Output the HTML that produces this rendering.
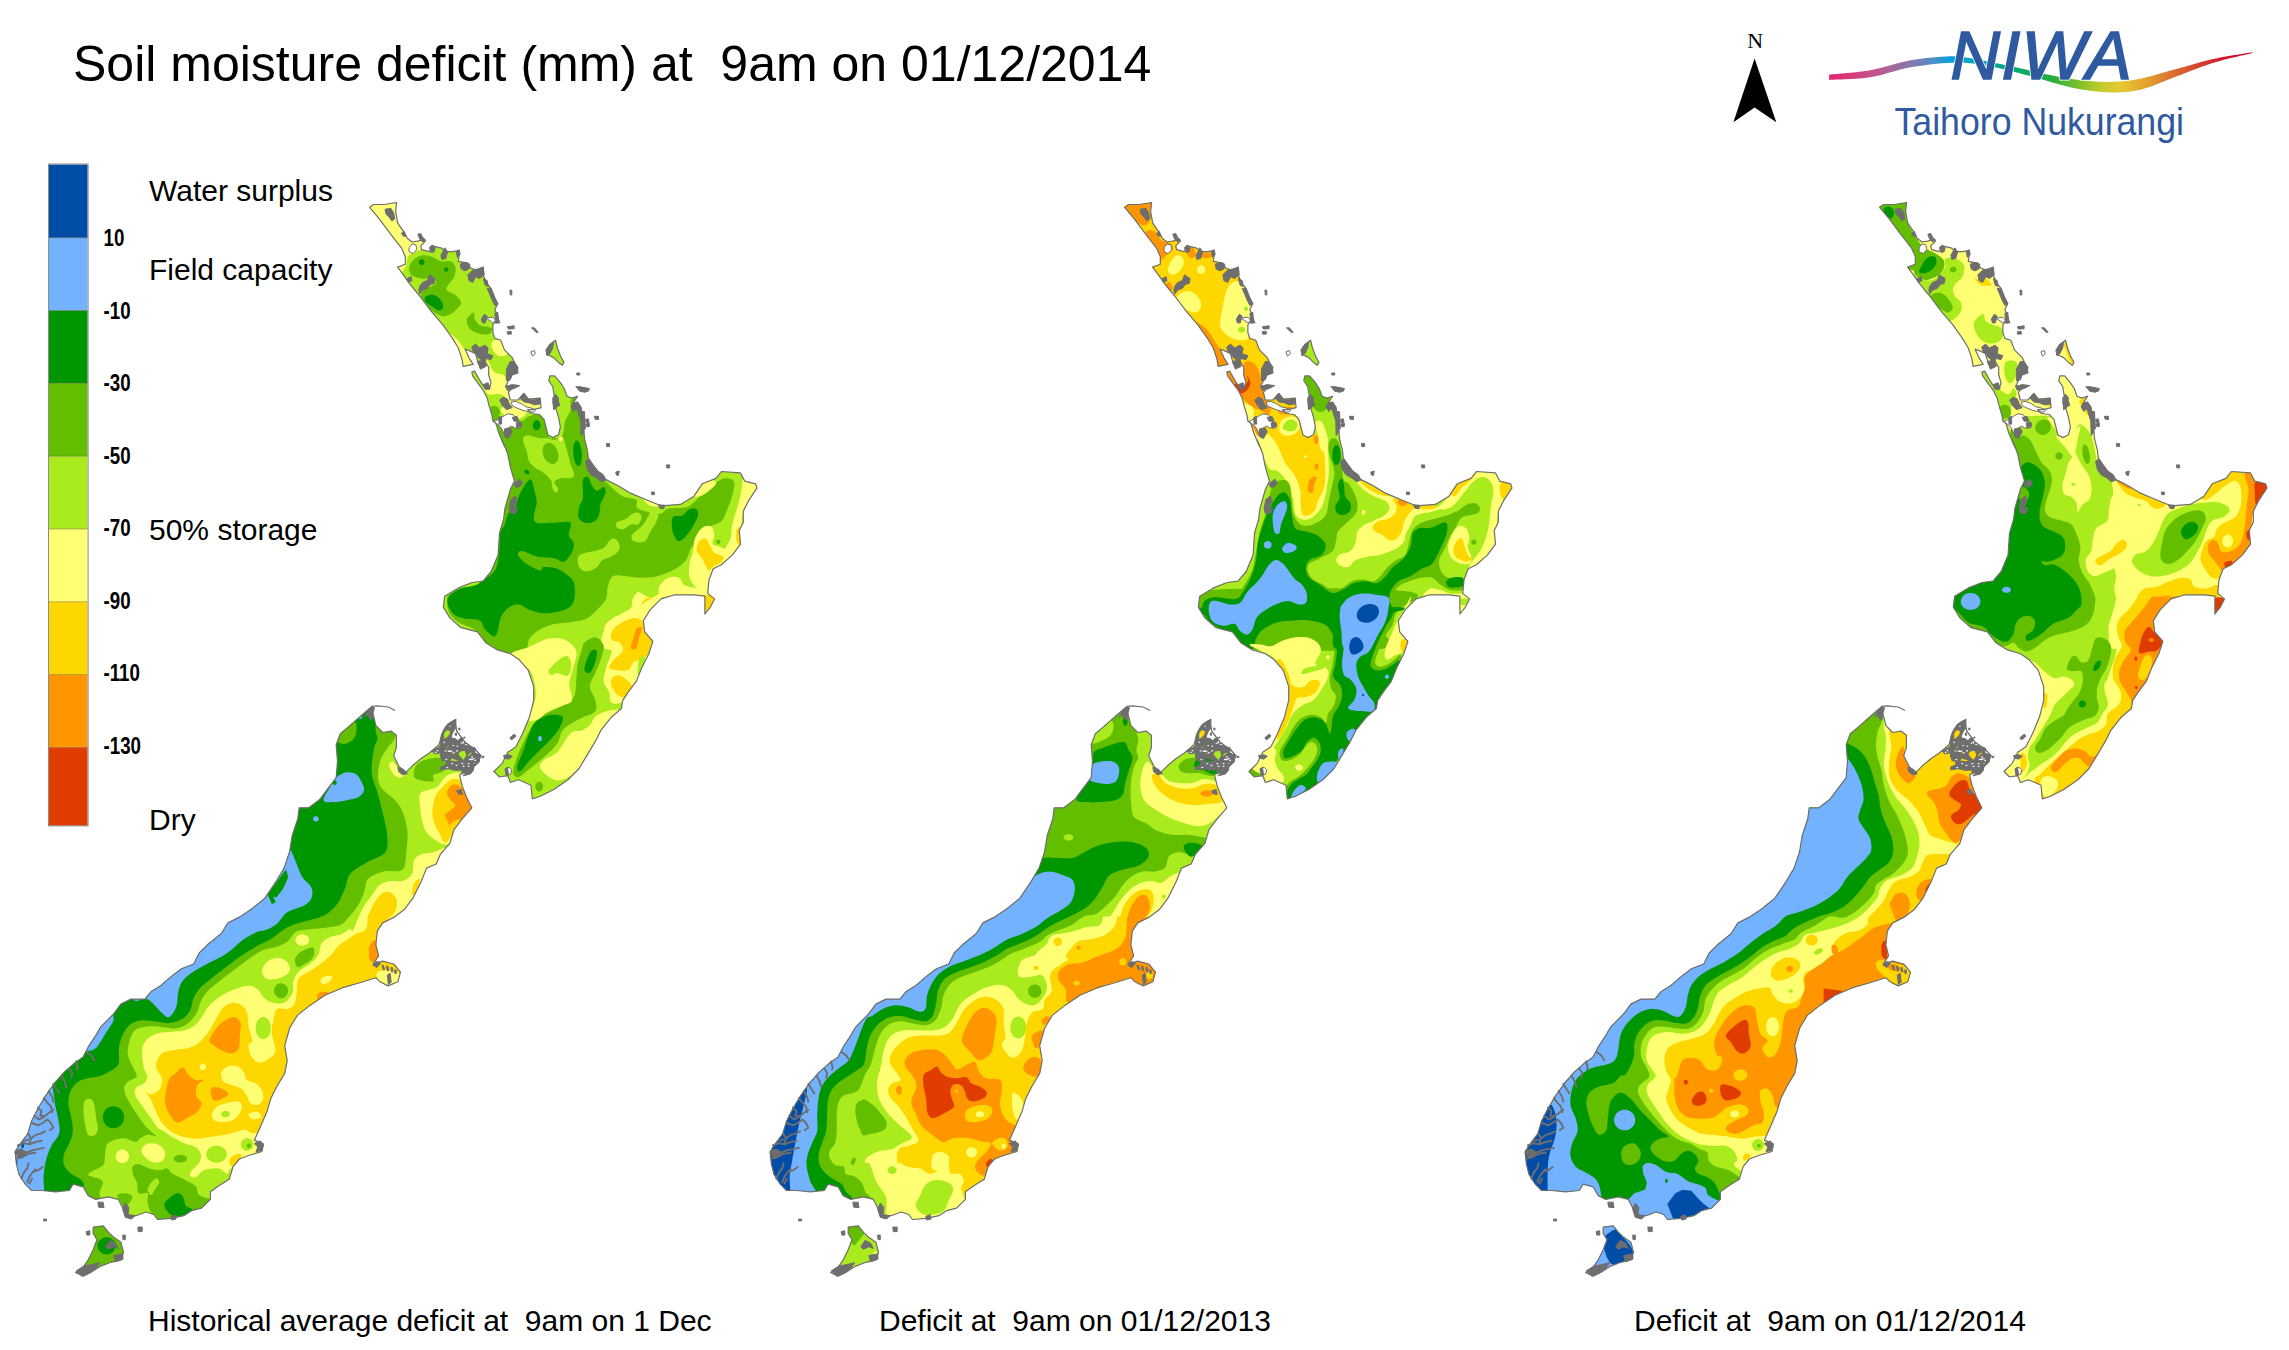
<!DOCTYPE html>
<html><head><meta charset="utf-8"><title>Soil moisture deficit</title>
<style>
html,body{margin:0;padding:0;background:#fff;}
body{width:2289px;height:1350px;overflow:hidden;position:relative;font-family:"Liberation Sans",sans-serif;}
svg{position:absolute;left:0;top:0;}
text{font-family:"Liberation Sans",sans-serif;fill:#000;white-space:pre;}
.t30{font-size:30px;}
.nb{font-size:24px;font-weight:bold;}
</style></head><body>
<svg width="2289" height="1350" viewBox="0 0 2289 1350">
<rect width="2289" height="1350" fill="#fff"/>

<defs>
<clipPath id="land">
<path d="M369.6,207.3 L373.5,204.5 L384.1,204.5 L396.6,202.5 L395.6,211.2 L397.6,222.8 L403.4,231.4 L407.2,238.2 L412.0,242.0 L417.8,241.1 L423.6,239.1 L425.5,241.1 L420.7,245.9 L421.7,249.7 L429.4,251.7 L432.3,245.9 L440.9,247.8 L446.7,251.7 L452.5,251.7 L458.3,250.7 L459.2,255.5 L458.3,261.3 L467.9,263.2 L470.8,268.0 L477.5,270.9 L483.3,267.1 L483.3,274.8 L486.2,282.5 L491.0,288.3 L494.9,297.9 L497.8,303.7 L494.9,309.5 L497.8,317.2 L499.7,322.9 L494.9,321.0 L492.9,324.9 L492.9,332.6 L494.9,338.4 L500.7,340.3 L504.5,349.9 L512.2,357.6 L514.1,361.5 L509.3,364.4 L517.0,367.3 L518.0,373.0 L511.3,375.0 L508.4,380.8 L505.5,386.5 L514.1,385.6 L508.4,392.3 L510.3,400.0 L518.0,400.0 L523.8,393.3 L528.6,399.1 L540.2,398.1 L541.1,407.7 L533.4,409.7 L527.6,409.7 L531.5,413.5 L539.2,414.5 L544.0,419.3 L545.9,427.0 L547.9,434.7 L552.7,437.6 L558.5,434.7 L560.4,427.0 L558.5,417.4 L555.6,407.7 L554.6,398.1 L552.7,386.5 L548.8,380.8 L549.8,375.9 L554.6,375.9 L560.4,382.7 L564.2,388.5 L567.1,396.2 L571.9,398.1 L577.7,396.2 L573.9,401.9 L577.7,407.7 L581.6,413.5 L583.5,425.1 L584.5,438.6 L587.4,450.1 L588.5,459.2 L595.3,470.1 L603.6,478.4 L617.3,485.2 L631.0,493.4 L647.4,500.3 L661.1,505.8 L680.3,504.4 L694.0,496.2 L702.2,483.8 L715.9,478.4 L721.4,471.5 L740.5,472.9 L744.7,481.1 L755.6,483.8 L757.0,487.9 L748.8,500.3 L743.3,511.2 L743.3,522.2 L739.2,530.4 L740.5,544.1 L732.3,555.1 L721.4,564.7 L713.2,568.8 L709.0,579.7 L707.7,593.4 L714.5,598.9 L710.4,607.1 L704.9,614.0 L704.9,596.2 L694.0,594.8 L674.8,594.8 L661.1,598.9 L650.1,609.9 L643.3,620.8 L644.7,631.8 L652.9,641.4 L648.8,653.7 L641.9,667.4 L636.4,681.1 L628.2,692.1 L622.7,700.3 L621.4,708.5 L611.8,716.7 L600.8,730.4 L595.3,741.4 L587.1,755.1 L578.9,768.8 L567.9,779.7 L554.2,789.3 L540.5,796.2 L532.3,798.9 L531.0,785.2 L518.6,779.7 L510.4,782.5 L507.7,775.6 L499.5,777.0 L494.0,771.5 L502.2,763.3 L507.7,752.3 L515.9,746.8 L522.7,733.2 L529.6,716.7 L533.7,700.3 L533.7,686.6 L528.2,670.1 L518.6,659.2 L510.4,653.7 L496.7,649.6 L485.8,642.7 L477.5,631.8 L461.1,627.7 L450.1,618.1 L443.3,607.1 L444.7,596.2 L458.4,587.9 L472.1,582.5 L483.0,581.1 L491.2,571.5 L498.1,555.1 L499.5,533.2 L503.6,519.5 L504.9,508.5 L510.4,489.3 L514.5,481.1 L510.4,467.4 L507.7,453.7 L502.2,440.0 L506.4,450.1 L503.5,444.3 L498.7,432.8 L495.8,423.1 L492.9,421.2 L492.0,415.4 L489.1,405.8 L487.2,398.1 L483.3,390.4 L477.5,382.7 L472.7,375.9 L471.8,372.1 L474.6,371.1 L479.5,379.8 L485.2,388.5 L489.1,389.4 L491.0,382.7 L488.7,375.0 L488.7,367.3 L485.2,361.5 L478.5,364.4 L475.6,353.8 L469.8,350.9 L465.0,349.0 L468.9,357.6 L473.1,364.4 L463.1,366.3 L462.1,359.6 L458.3,348.0 L452.5,338.4 L442.9,324.9 L431.3,311.4 L419.7,296.0 L410.1,284.4 L403.4,274.8 L397.6,267.1 L405.3,264.2 L405.3,256.5 L401.4,247.8 L390.8,234.3 L379.3,218.9Z"/>
<path d="M371.8,706.4 L373.2,714.7 L375.9,725.6 L382.7,732.5 L391.0,731.1 L396.4,735.2 L396.4,747.5 L393.7,755.8 L399.2,766.7 L406.0,772.2 L412.9,765.3 L421.1,758.5 L429.3,753.0 L438.9,744.8 L443.0,733.8 L451.2,722.9 L455.3,720.1 L456.7,731.1 L464.9,742.1 L474.5,748.9 L481.4,755.8 L475.9,764.0 L467.7,769.5 L459.5,774.9 L462.2,785.9 L466.3,796.8 L471.8,807.8 L462.2,818.8 L454.0,829.7 L449.9,843.4 L440.3,854.4 L436.2,864.0 L426.6,868.1 L421.1,881.8 L412.9,898.2 L404.7,909.2 L393.7,917.4 L382.7,922.9 L377.3,931.1 L375.9,944.8 L378.6,955.8 L373.2,964.0 L382.7,961.2 L393.7,964.0 L400.5,972.2 L397.8,981.8 L388.2,985.9 L380.0,981.8 L375.9,977.7 L358.1,983.2 L342.7,987.7 L325.0,995.3 L309.9,1005.4 L297.3,1015.4 L289.7,1028.0 L284.7,1045.7 L287.2,1060.8 L284.7,1073.4 L277.1,1086.0 L270.8,1098.6 L267.1,1111.2 L259.5,1128.8 L254.5,1140.1 L263.3,1143.9 L262.0,1151.5 L249.4,1155.3 L239.4,1159.0 L233.1,1166.6 L229.3,1179.2 L219.2,1185.5 L210.4,1191.8 L210.4,1199.4 L201.6,1208.2 L191.5,1210.7 L183.9,1215.7 L171.3,1218.3 L157.5,1219.5 L153.7,1214.5 L146.1,1212.0 L136.1,1215.7 L126.0,1217.0 L123.5,1209.4 L118.4,1199.4 L108.3,1196.8 L95.7,1199.4 L88.2,1195.6 L83.1,1186.8 L73.1,1184.2 L69.3,1190.5 L55.4,1191.8 L41.6,1190.5 L31.5,1190.5 L25.2,1184.2 L18.9,1174.2 L16.4,1164.1 L15.1,1151.5 L20.2,1143.9 L27.7,1133.8 L31.5,1121.2 L37.8,1108.7 L45.4,1096.1 L54.2,1083.5 L64.2,1072.1 L74.3,1063.3 L83.1,1057.0 L88.2,1046.9 L95.7,1035.6 L100.8,1026.8 L113.4,1014.2 L120.9,1004.1 L131.0,999.1 L144.9,999.1 L151.2,991.5 L161.2,985.2 L171.3,976.4 L181.4,968.8 L193.7,964.0 L199.2,953.0 L207.4,944.8 L221.1,933.8 L227.9,922.9 L238.9,917.4 L251.2,909.2 L264.9,898.2 L275.9,881.8 L284.1,868.1 L289.6,851.6 L292.3,835.2 L297.8,818.8 L299.2,807.8 L308.8,807.8 L319.7,799.6 L327.9,788.6 L336.2,777.7 L337.5,761.2 L336.2,744.8 L340.3,733.8 L349.9,725.6 L360.8,716.0Z"/>
<path d="M93.2,1227.1 L103.3,1225.8 L108.3,1232.1 L113.4,1237.1 L120.9,1242.2 L123.5,1252.3 L120.9,1259.8 L110.9,1262.3 L100.8,1266.1 L90.7,1272.4 L83.1,1276.2 L75.6,1272.4 L83.1,1267.4 L88.2,1259.8 L93.2,1249.7 L97.0,1239.7 L93.2,1233.4Z"/>
<path d="M552.7,342.2 L555.6,340.3 L557.5,348.0 L560.4,355.7 L563.9,362.4 L562.3,365.3 L558.5,362.4 L553.6,357.6 L547.9,354.7 L547.9,349.0Z"/>
</clipPath>
<g id="coast" fill="none" stroke="#6e6e6e" stroke-width="1.2" stroke-linejoin="round">
<path d="M369.6,207.3 L373.5,204.5 L384.1,204.5 L396.6,202.5 L395.6,211.2 L397.6,222.8 L403.4,231.4 L407.2,238.2 L412.0,242.0 L417.8,241.1 L423.6,239.1 L425.5,241.1 L420.7,245.9 L421.7,249.7 L429.4,251.7 L432.3,245.9 L440.9,247.8 L446.7,251.7 L452.5,251.7 L458.3,250.7 L459.2,255.5 L458.3,261.3 L467.9,263.2 L470.8,268.0 L477.5,270.9 L483.3,267.1 L483.3,274.8 L486.2,282.5 L491.0,288.3 L494.9,297.9 L497.8,303.7 L494.9,309.5 L497.8,317.2 L499.7,322.9 L494.9,321.0 L492.9,324.9 L492.9,332.6 L494.9,338.4 L500.7,340.3 L504.5,349.9 L512.2,357.6 L514.1,361.5 L509.3,364.4 L517.0,367.3 L518.0,373.0 L511.3,375.0 L508.4,380.8 L505.5,386.5 L514.1,385.6 L508.4,392.3 L510.3,400.0 L518.0,400.0 L523.8,393.3 L528.6,399.1 L540.2,398.1 L541.1,407.7 L533.4,409.7 L527.6,409.7 L531.5,413.5 L539.2,414.5 L544.0,419.3 L545.9,427.0 L547.9,434.7 L552.7,437.6 L558.5,434.7 L560.4,427.0 L558.5,417.4 L555.6,407.7 L554.6,398.1 L552.7,386.5 L548.8,380.8 L549.8,375.9 L554.6,375.9 L560.4,382.7 L564.2,388.5 L567.1,396.2 L571.9,398.1 L577.7,396.2 L573.9,401.9 L577.7,407.7 L581.6,413.5 L583.5,425.1 L584.5,438.6 L587.4,450.1 L588.5,459.2 L595.3,470.1 L603.6,478.4 L617.3,485.2 L631.0,493.4 L647.4,500.3 L661.1,505.8 L680.3,504.4 L694.0,496.2 L702.2,483.8 L715.9,478.4 L721.4,471.5 L740.5,472.9 L744.7,481.1 L755.6,483.8 L757.0,487.9 L748.8,500.3 L743.3,511.2 L743.3,522.2 L739.2,530.4 L740.5,544.1 L732.3,555.1 L721.4,564.7 L713.2,568.8 L709.0,579.7 L707.7,593.4 L714.5,598.9 L710.4,607.1 L704.9,614.0 L704.9,596.2 L694.0,594.8 L674.8,594.8 L661.1,598.9 L650.1,609.9 L643.3,620.8 L644.7,631.8 L652.9,641.4 L648.8,653.7 L641.9,667.4 L636.4,681.1 L628.2,692.1 L622.7,700.3 L621.4,708.5 L611.8,716.7 L600.8,730.4 L595.3,741.4 L587.1,755.1 L578.9,768.8 L567.9,779.7 L554.2,789.3 L540.5,796.2 L532.3,798.9 L531.0,785.2 L518.6,779.7 L510.4,782.5 L507.7,775.6 L499.5,777.0 L494.0,771.5 L502.2,763.3 L507.7,752.3 L515.9,746.8 L522.7,733.2 L529.6,716.7 L533.7,700.3 L533.7,686.6 L528.2,670.1 L518.6,659.2 L510.4,653.7 L496.7,649.6 L485.8,642.7 L477.5,631.8 L461.1,627.7 L450.1,618.1 L443.3,607.1 L444.7,596.2 L458.4,587.9 L472.1,582.5 L483.0,581.1 L491.2,571.5 L498.1,555.1 L499.5,533.2 L503.6,519.5 L504.9,508.5 L510.4,489.3 L514.5,481.1 L510.4,467.4 L507.7,453.7 L502.2,440.0 L506.4,450.1 L503.5,444.3 L498.7,432.8 L495.8,423.1 L492.9,421.2 L492.0,415.4 L489.1,405.8 L487.2,398.1 L483.3,390.4 L477.5,382.7 L472.7,375.9 L471.8,372.1 L474.6,371.1 L479.5,379.8 L485.2,388.5 L489.1,389.4 L491.0,382.7 L488.7,375.0 L488.7,367.3 L485.2,361.5 L478.5,364.4 L475.6,353.8 L469.8,350.9 L465.0,349.0 L468.9,357.6 L473.1,364.4 L463.1,366.3 L462.1,359.6 L458.3,348.0 L452.5,338.4 L442.9,324.9 L431.3,311.4 L419.7,296.0 L410.1,284.4 L403.4,274.8 L397.6,267.1 L405.3,264.2 L405.3,256.5 L401.4,247.8 L390.8,234.3 L379.3,218.9Z"/>
<path d="M371.8,706.4 L373.2,714.7 L375.9,725.6 L382.7,732.5 L391.0,731.1 L396.4,735.2 L396.4,747.5 L393.7,755.8 L399.2,766.7 L406.0,772.2 L412.9,765.3 L421.1,758.5 L429.3,753.0 L438.9,744.8 L443.0,733.8 L451.2,722.9 L455.3,720.1 L456.7,731.1 L464.9,742.1 L474.5,748.9 L481.4,755.8 L475.9,764.0 L467.7,769.5 L459.5,774.9 L462.2,785.9 L466.3,796.8 L471.8,807.8 L462.2,818.8 L454.0,829.7 L449.9,843.4 L440.3,854.4 L436.2,864.0 L426.6,868.1 L421.1,881.8 L412.9,898.2 L404.7,909.2 L393.7,917.4 L382.7,922.9 L377.3,931.1 L375.9,944.8 L378.6,955.8 L373.2,964.0 L382.7,961.2 L393.7,964.0 L400.5,972.2 L397.8,981.8 L388.2,985.9 L380.0,981.8 L375.9,977.7 L358.1,983.2 L342.7,987.7 L325.0,995.3 L309.9,1005.4 L297.3,1015.4 L289.7,1028.0 L284.7,1045.7 L287.2,1060.8 L284.7,1073.4 L277.1,1086.0 L270.8,1098.6 L267.1,1111.2 L259.5,1128.8 L254.5,1140.1 L263.3,1143.9 L262.0,1151.5 L249.4,1155.3 L239.4,1159.0 L233.1,1166.6 L229.3,1179.2 L219.2,1185.5 L210.4,1191.8 L210.4,1199.4 L201.6,1208.2 L191.5,1210.7 L183.9,1215.7 L171.3,1218.3 L157.5,1219.5 L153.7,1214.5 L146.1,1212.0 L136.1,1215.7 L126.0,1217.0 L123.5,1209.4 L118.4,1199.4 L108.3,1196.8 L95.7,1199.4 L88.2,1195.6 L83.1,1186.8 L73.1,1184.2 L69.3,1190.5 L55.4,1191.8 L41.6,1190.5 L31.5,1190.5 L25.2,1184.2 L18.9,1174.2 L16.4,1164.1 L15.1,1151.5 L20.2,1143.9 L27.7,1133.8 L31.5,1121.2 L37.8,1108.7 L45.4,1096.1 L54.2,1083.5 L64.2,1072.1 L74.3,1063.3 L83.1,1057.0 L88.2,1046.9 L95.7,1035.6 L100.8,1026.8 L113.4,1014.2 L120.9,1004.1 L131.0,999.1 L144.9,999.1 L151.2,991.5 L161.2,985.2 L171.3,976.4 L181.4,968.8 L193.7,964.0 L199.2,953.0 L207.4,944.8 L221.1,933.8 L227.9,922.9 L238.9,917.4 L251.2,909.2 L264.9,898.2 L275.9,881.8 L284.1,868.1 L289.6,851.6 L292.3,835.2 L297.8,818.8 L299.2,807.8 L308.8,807.8 L319.7,799.6 L327.9,788.6 L336.2,777.7 L337.5,761.2 L336.2,744.8 L340.3,733.8 L349.9,725.6 L360.8,716.0Z"/>
<path d="M93.2,1227.1 L103.3,1225.8 L108.3,1232.1 L113.4,1237.1 L120.9,1242.2 L123.5,1252.3 L120.9,1259.8 L110.9,1262.3 L100.8,1266.1 L90.7,1272.4 L83.1,1276.2 L75.6,1272.4 L83.1,1267.4 L88.2,1259.8 L93.2,1249.7 L97.0,1239.7 L93.2,1233.4Z"/>
<path d="M552.7,342.2 L555.6,340.3 L557.5,348.0 L560.4,355.7 L563.9,362.4 L562.3,365.3 L558.5,362.4 L553.6,357.6 L547.9,354.7 L547.9,349.0Z"/>
<path d="M371.8,706.4 L377.3,705.9 L388.2,707.0 L395.1,710.5"/>
</g>
<g id="grey" fill="#6e6e6e" stroke="#6e6e6e" stroke-width="1">
<path d="M385.0,209.3 L390.8,208.3 L393.7,213.1 L394.7,218.9 L391.8,220.8 L388.9,217.0 L386.0,214.1Z"/>
<path d="M401.4,233.4 L404.3,231.4 L406.2,236.2 L403.4,236.2Z"/>
<path d="M417.8,234.3 L420.7,233.4 L422.6,237.2 L425.5,240.1 L422.6,242.0 L419.7,239.1Z"/>
<path d="M429.4,247.8 L432.3,244.9 L435.1,247.8 L434.2,251.7 L431.3,252.6Z"/>
<path d="M440.9,255.5 L444.8,247.8 L447.7,251.7 L445.7,258.4 L441.9,259.4Z"/>
<path d="M456.3,251.7 L459.2,249.7 L460.2,254.5 L457.3,257.4Z"/>
<path d="M460.2,264.2 L465.0,262.3 L469.8,264.2 L468.9,269.0 L465.0,270.9 L461.2,269.0Z"/>
<path d="M467.9,274.8 L472.7,270.0 L477.5,269.0 L483.3,267.1 L484.3,274.8 L479.5,278.6 L475.6,276.7 L472.7,282.5 L468.9,280.6Z"/>
<path d="M483.3,278.6 L487.2,280.6 L488.1,286.3 L485.2,285.4Z"/>
<path d="M419.7,286.3 L422.6,282.5 L427.4,280.6 L429.4,274.8 L432.3,276.7 L435.1,278.6 L434.2,283.4 L430.3,284.4 L427.4,288.3 L422.6,290.2 L419.7,294.0 L418.8,290.2Z"/>
<path d="M407.2,278.6 L411.1,276.7 L412.0,280.6 L408.2,282.5Z"/>
<path d="M487.2,288.3 L491.0,288.3 L492.9,294.0 L495.8,299.8 L497.8,303.7 L494.9,305.6 L492.9,301.8Z"/>
<path d="M481.4,319.1 L484.3,314.3 L487.2,316.2 L485.2,322.9 L482.4,322.9Z"/>
<path d="M494.9,313.3 L497.8,312.4 L498.7,322.9 L495.8,322.9Z"/>
<path d="M471.8,347.0 L475.6,344.1 L479.5,348.0 L485.2,345.1 L488.1,348.0 L487.2,353.8 L492.9,355.7 L491.0,359.6 L486.2,358.6 L483.3,361.5 L478.5,357.6 L475.6,353.8 L472.7,350.9Z"/>
<path d="M477.5,361.5 L485.2,359.6 L486.2,366.3 L480.4,369.2Z"/>
<path d="M483.3,384.6 L488.1,382.7 L490.1,388.5 L485.2,389.4Z"/>
<path d="M506.4,369.2 L510.3,361.5 L514.1,361.5 L518.0,367.3 L517.0,373.0 L512.2,375.0 L510.3,379.8 L506.4,380.8Z"/>
<path d="M505.5,386.5 L512.2,384.6 L519.9,385.6 L514.1,388.5 L507.4,390.4Z"/>
<path d="M499.7,400.0 L503.5,397.1 L507.4,399.1 L509.3,403.9 L512.2,407.7 L506.4,409.7 L502.6,405.8Z"/>
<path d="M519.9,398.1 L523.8,393.3 L527.6,399.1 L533.4,400.0 L540.2,398.1 L540.2,403.9 L534.4,404.8 L529.6,402.9 L523.8,401.9Z"/>
<path d="M512.2,417.4 L517.0,416.4 L519.0,421.2 L514.1,421.2Z"/>
<path d="M504.5,428.9 L510.3,428.0 L512.2,431.8 L508.4,438.6 L504.5,436.6Z"/>
<path d="M516.1,423.1 L520.9,422.2 L521.8,426.0 L517.0,428.0Z"/>
<path d="M498.7,417.4 L501.6,416.4 L501.6,424.1 L499.1,424.1Z"/>
<path d="M552.7,398.1 L555.6,394.2 L558.5,398.1 L556.5,407.7 L553.6,409.7Z"/>
<path d="M575.8,386.5 L581.6,387.5 L589.3,389.4 L585.4,392.3 L579.7,391.3Z"/>
<path d="M571.0,406.8 L573.9,401.9 L577.7,405.8 L573.9,411.6Z"/>
<path d="M581.6,411.6 L584.5,411.6 L585.4,428.9 L582.5,428.9Z"/>
<path d="M545.9,349.9 L549.8,344.1 L553.6,342.2 L552.7,348.0 L549.8,353.8 L546.9,355.7Z"/>
<path d="M507.4,326.8 L514.1,325.8 L514.1,328.7 L508.4,329.1Z"/>
<path d="M507.4,331.6 L511.3,331.6 L511.3,334.1 L507.4,334.1Z"/>
<path d="M509.9,290.2 L511.8,290.2 L511.8,295.0 L510.3,295.0Z"/>
<path d="M531.5,327.8 L534.4,327.8 L538.2,332.2 L536.3,332.6Z"/>
<path d="M576.8,373.0 L579.7,373.0 L579.7,375.0 L576.8,375.0Z"/>
<path d="M595.1,416.4 L598.5,416.4 L598.5,419.3 L595.5,419.3Z"/>
<path d="M586.4,424.1 L589.3,423.1 L589.3,426.6 L587.0,426.6Z"/>
<path d="M578.7,386.5 L589.3,388.5 L588.3,391.3 L579.7,390.4Z"/>
<path d="M585.6,461.3 L589.1,458.7 L592.7,464.0 L598.0,471.1 L603.3,474.7 L606.0,480.0 L601.6,481.8 L597.1,478.2 L590.9,474.7 L587.3,469.3Z"/>
<path d="M514.4,483.6 L519.8,479.1 L522.4,483.6 L518.9,487.1 L515.3,487.1Z"/>
<path d="M510.9,499.6 L515.3,496.0 L517.1,501.3 L513.6,506.7 L518.0,508.4 L515.3,513.8 L510.0,512.9 L509.1,508.4Z"/>
<path d="M572.2,403.6 L577.6,401.8 L581.1,407.1 L582.9,417.8 L583.8,432.0 L581.1,435.6 L580.8,421.3 L577.6,410.7Z"/>
<path d="M552.7,401.8 L558.0,400.0 L559.8,405.3 L554.4,408.0Z"/>
<path d="M594.4,416.4 L598.0,416.4 L598.0,419.2 L595.0,418.8Z"/>
<path d="M585.6,419.6 L588.2,418.7 L589.1,422.2 L586.4,422.8Z"/>
<path d="M586.1,424.0 L589.1,424.0 L588.2,426.7 L586.4,426.3Z"/>
<path d="M615.8,472.0 L619.3,471.1 L618.4,475.6 L616.3,475.0Z"/>
<path d="M666.4,464.9 L669.6,464.9 L669.6,467.9 L666.8,467.9Z"/>
<path d="M651.3,492.1 L654.4,492.1 L654.4,494.6 L651.7,494.6Z"/>
<path d="M658.4,504.9 L664.7,505.2 L663.8,508.8 L660.2,508.4Z"/>
<path d="M606.4,443.6 L609.6,443.6 L609.6,446.6 L606.7,446.6Z"/>
<path d="M509.8,737.8 L514.2,734.2 L516.0,736.0 L511.6,739.9Z"/>
<path d="M503.6,755.6 L508.9,754.7 L512.4,756.4 L508.9,759.1 L504.4,758.2Z"/>
<path d="M505.0,768.9 L507.5,767.1 L508.5,775.1 L506.2,776.0Z"/>
<path d="M364.0,717.3 L367.9,710.6 L371.8,707.7 L374.6,707.7 L372.7,713.5 L371.8,720.2 L368.9,718.3 L366.9,714.5Z"/>
<path d="M397.8,767.4 L403.5,769.4 L407.4,773.6 L402.6,774.8 L398.7,771.7Z"/>
<path d="M456.5,790.6 L461.3,789.6 L462.3,794.4 L458.5,794.0Z"/>
<path d="M458.8,728.1 L460.0,728.1 L460.0,729.9 L458.8,729.9Z"/>
<path d="M455.0,733.4 L456.7,733.1 L456.4,735.5 L455.3,735.2Z"/>
<path d="M463.9,737.0 L465.0,737.0 L465.0,737.9 L463.9,737.9Z"/>
<path d="M459.1,739.0 L462.7,737.6 L463.0,739.0 L459.7,740.5Z"/>
<path d="M464.1,742.9 L465.9,742.9 L465.9,743.8 L464.1,743.8Z"/>
<path d="M482.2,756.5 L484.0,756.2 L483.7,757.7 L482.2,757.7Z"/>
<path d="M478.1,754.1 L479.3,754.1 L479.3,755.3 L478.1,755.3Z"/>
<path d="M16.6,1150.3 L21.3,1149.1 L25.5,1151.5 L24.9,1156.2 L20.2,1158.6 L17.2,1156.8Z"/>
<path d="M105.8,1246.7 L110.2,1240.4 L115.6,1243.1 L118.2,1248.4 L113.8,1246.7 L108.4,1249.3Z"/>
<path d="M76.4,1270.7 L83.6,1266.2 L92.4,1264.4 L99.6,1262.7 L96.0,1268.0 L88.9,1273.3 L81.8,1276.0Z"/>
<path d="M113.8,1255.6 L122.7,1253.8 L123.0,1259.1 L115.6,1261.8Z"/>
<path d="M86.2,1231.6 L89.8,1230.7 L89.8,1235.1 L86.8,1235.1Z"/>
<path d="M122.7,1209.3 L125.3,1203.1 L128.9,1207.6 L128.0,1214.7 L135.1,1215.6 L131.6,1219.1 L125.3,1217.3Z"/>
<path d="M254.2,1143.6 L260.4,1140.9 L263.5,1145.3 L261.3,1150.7 L256.0,1151.6 L257.8,1147.1Z"/>
<path d="M137.8,1227.1 L142.2,1227.1 L142.2,1231.6 L138.3,1231.6Z"/>
<path d="M122.7,1235.1 L125.3,1235.1 L125.3,1239.6 L123.0,1239.6Z"/>
<path d="M97.8,1202.2 L103.1,1202.2 L104.0,1207.6 L98.7,1207.2Z"/>
<path d="M170.7,1216.4 L175.1,1214.7 L176.0,1219.1 L171.6,1220.0Z"/>
<path d="M43.6,1219.1 L46.6,1219.1 L46.6,1220.9 L43.6,1220.9Z"/>
<path d="M372.8,964.8 L376.7,961.4 L380.6,963.2 L376.7,967.6Z"/>
<path d="M387.3,975.1 L390.2,973.3 L391.2,982.2 L388.4,984.4Z"/>
<path d="M382.0,965.3 L383.4,965.3 L384.7,969.8 L383.2,969.8Z"/>
<path d="M386.4,966.2 L387.9,966.2 L388.8,970.7 L387.3,970.7Z"/>
<path d="M390.9,967.6 L392.3,967.6 L393.0,971.9 L391.6,971.9Z"/>
<path d="M394.8,969.8 L396.2,970.1 L396.2,973.7 L394.8,973.3Z"/>
<path fill-rule="evenodd" d="M440.1,740.8 L441.3,734.9 L443.7,729.6 L447.3,724.2 L452.0,721.3 L456.1,719.2 L455.0,727.8 L452.0,733.7 L450.8,738.4 L454.4,738.4 L457.9,740.8 L462.7,737.9 L461.5,743.2 L465.6,745.6 L470.4,746.7 L475.1,747.9 L474.5,752.7 L479.9,755.6 L479.3,762.1 L473.9,766.9 L473.3,770.4 L470.4,774.0 L463.3,775.8 L461.5,769.9 L455.6,770.4 L448.4,768.7 L440.7,769.9 L440.7,766.9 L445.5,765.1 L446.1,761.0 L442.5,761.0 L440.7,757.4 L440.1,752.7 L434.8,753.9 L431.9,750.9 L437.8,747.9 L440.7,745.6ZM443.7,731.9 L446.1,729.6 L450.8,730.7 L449.6,734.9 L446.7,737.9 L443.7,739.6ZM457.9,753.9 L460.3,750.9 L465.0,750.3 L466.8,755.0 L463.9,760.4 L460.3,757.4ZM449.6,761.0 L451.4,758.0 L455.6,759.2 L460.3,760.4 L455.6,761.6ZM467.4,755.0 L471.6,751.5 L472.1,753.3 L468.6,756.8ZM472.7,763.3 L475.1,761.6 L475.7,763.3 L473.3,764.5ZM445.5,747.9 L448.4,745.6 L449.0,746.7 L446.1,749.1ZM450.8,752.7 L452.0,751.5 L453.2,753.9 L452.0,755.0Z"/>
</g>
<g id="fj" fill="none" stroke="#6e6e6e" stroke-width="1.9" stroke-linejoin="round" stroke-linecap="round">
<path d="M86.6,1051.9 L91.3,1055.4 L94.3,1060.2"/>
<path d="M75.9,1061.3 L77.7,1067.3 L77.1,1069.6"/>
<path d="M69.4,1068.5 L72.3,1073.2 L71.1,1077.9"/>
<path d="M61.7,1075.6 L64.6,1081.5 L66.4,1087.4"/>
<path d="M53.4,1083.9 L56.9,1089.8 L59.3,1093.4"/>
<path d="M48.6,1091.0 L52.2,1096.9 L53.4,1101.7"/>
<path d="M43.9,1098.1 L47.4,1102.8 L51.0,1106.4 L52.2,1112.3"/>
<path d="M37.9,1107.6 L41.5,1111.1 L40.3,1115.9 L45.1,1115.9 L49.8,1112.3 L53.4,1110.0"/>
<path d="M34.4,1115.9 L39.1,1119.4 L43.9,1117.1"/>
<path d="M32.0,1123.0 L37.9,1125.4 L42.7,1123.0 L47.4,1119.4 L51.0,1123.0 L53.4,1127.8 L49.8,1130.1"/>
<path d="M28.5,1133.7 L30.8,1138.4 L35.6,1134.9 L40.3,1133.7 L45.1,1131.3"/>
<path d="M30.8,1138.4 L29.6,1143.2"/>
<path d="M23.7,1140.8 L28.5,1139.6"/>
<path d="M17.8,1145.5 L23.7,1143.2 L29.6,1144.4 L35.6,1142.0 L41.5,1140.8"/>
<path d="M15.4,1152.7 L20.2,1153.8 L26.1,1152.7 L32.0,1150.3 L37.9,1149.1 L43.9,1147.9"/>
<path d="M16.6,1158.6 L21.3,1157.4 L28.5,1153.8 L35.6,1152.7"/>
<path d="M28.5,1163.3 L27.3,1168.1 L23.7,1172.8 L21.3,1178.7"/>
<path d="M42.7,1166.9 L37.9,1170.4 L33.2,1171.6 L29.6,1176.4 L27.3,1182.3"/>
<path d="M33.2,1171.6 L35.6,1169.3"/>
<path d="M32.0,1178.7 L29.6,1183.5"/>
</g>
<g id="wd" fill="#fff">
<path d="M448.8,725.7 L450.5,725.7 L450.5,726.9 L448.8,726.9Z"/>
<path d="M443.5,741.7 L445.1,741.7 L445.1,742.9 L443.5,742.9Z"/>
<path d="M452.4,745.0 L454.0,745.0 L454.0,746.1 L452.4,746.1Z"/>
<path d="M456.5,745.6 L458.2,745.6 L458.2,746.7 L456.5,746.7Z"/>
<path d="M444.7,750.3 L446.3,750.3 L446.3,751.5 L444.7,751.5Z"/>
<path d="M448.8,750.6 L450.5,750.6 L450.5,751.8 L448.8,751.8Z"/>
<path d="M452.9,752.1 L454.6,752.1 L454.6,753.3 L452.9,753.3Z"/>
<path d="M456.2,750.3 L457.9,750.3 L457.9,751.5 L456.2,751.5Z"/>
<path d="M445.5,758.9 L447.2,758.9 L447.2,760.1 L445.5,760.1Z"/>
<path d="M451.5,763.0 L453.1,763.0 L453.1,764.2 L451.5,764.2Z"/>
<path d="M455.6,764.8 L457.3,764.8 L457.3,766.0 L455.6,766.0Z"/>
<path d="M461.5,763.0 L463.2,763.0 L463.2,764.2 L461.5,764.2Z"/>
<path d="M462.7,765.7 L464.4,765.7 L464.4,766.9 L462.7,766.9Z"/>
<path d="M467.8,763.0 L469.4,763.0 L469.4,764.2 L467.8,764.2Z"/>
<path d="M467.8,765.7 L469.4,765.7 L469.4,766.9 L467.8,766.9Z"/>
<path d="M470.4,758.6 L472.1,758.6 L472.1,759.8 L470.4,759.8Z"/>
<path d="M472.8,758.0 L474.5,758.0 L474.5,759.2 L472.8,759.2Z"/>
<path d="M474.3,759.8 L475.9,759.8 L475.9,761.0 L474.3,761.0Z"/>
<path d="M446.4,766.9 L448.1,766.9 L448.1,768.1 L446.4,768.1Z"/>
<path d="M462.7,773.7 L464.4,773.7 L464.4,774.9 L462.7,774.9Z"/>
<path d="M434.9,751.8 L436.5,751.8 L436.5,753.0 L434.9,753.0Z"/>
<path d="M436.7,750.0 L438.3,750.0 L438.3,751.2 L436.7,751.2Z"/>
<path d="M471.3,756.2 L473.0,756.2 L473.0,757.4 L471.3,757.4Z"/>
<path d="M460.7,742.6 L462.3,742.6 L462.3,743.8 L460.7,743.8Z"/>
<path d="M447.6,750.6 L452.3,750.6 L452.3,751.8 L447.6,751.8Z"/>
<path d="M468.9,758.9 L473.0,758.9 L473.0,760.1 L468.9,760.1Z"/>
</g>
</defs>
<g transform="translate(0,0)">
<g clip-path="url(#land)">
<rect x="0" y="150" width="800" height="1150" fill="#aaeb1e"/>
<path fill="#ffff73" d="M367.7,199.6 C368.3,187.9 391.8,193.5 398.5,199.6 C405.3,205.7 403.4,230.1 408.2,236.2 C413.0,242.3 424.4,234.6 427.4,236.2 C430.5,237.8 428.1,243.5 426.5,245.9 C424.9,248.3 420.9,248.9 417.8,250.7 C414.8,252.5 410.3,253.7 408.2,256.5 C406.1,259.2 407.5,264.8 405.3,267.1 C403.0,269.3 400.9,281.2 394.7,270.0 C388.4,258.7 367.1,211.4 367.7,199.6Z"/>
<path fill="#64be00" d="M409.1,267.1 C409.6,264.5 411.9,261.3 413.9,259.4 C416.0,257.4 418.8,256.0 421.7,255.5 C424.5,255.0 428.1,255.5 431.3,256.5 C434.5,257.4 437.7,260.5 440.9,261.3 C444.1,262.1 448.2,260.3 450.6,261.3 C453.0,262.3 454.7,264.5 455.4,267.1 C456.0,269.6 455.5,273.8 454.4,276.7 C453.3,279.6 449.9,282.2 448.6,284.4 C447.3,286.7 445.6,288.4 446.7,290.2 C447.8,292.0 453.0,292.9 455.4,295.0 C457.8,297.1 461.0,300.3 461.2,302.7 C461.3,305.1 458.1,307.5 456.3,309.5 C454.6,311.4 452.8,313.2 450.6,314.3 C448.3,315.4 445.3,316.4 442.9,316.2 C440.4,316.0 438.7,314.8 436.1,313.3 C433.5,311.9 430.0,310.1 427.4,307.5 C424.9,305.0 421.3,300.8 420.7,297.9 C420.1,295.0 421.8,292.1 423.6,290.2 C425.4,288.3 429.2,287.6 431.3,286.3 C433.4,285.1 435.8,284.1 436.1,282.5 C436.4,280.9 435.0,277.3 433.2,276.7 C431.5,276.1 428.1,278.5 425.5,278.6 C422.9,278.8 420.2,278.3 417.8,277.7 C415.4,277.0 412.5,276.5 411.1,274.8 C409.6,273.0 408.7,269.6 409.1,267.1Z"/>
<path fill="#009600" d="M424.5,262.3 C424.5,262.8 424.3,263.5 424.0,264.0 C423.7,264.4 423.1,264.8 422.6,265.0 C422.0,265.2 421.3,265.2 420.8,265.0 C420.2,264.8 419.7,264.4 419.3,264.0 C419.0,263.5 418.8,262.8 418.8,262.3 C418.8,261.7 419.0,261.0 419.3,260.6 C419.7,260.1 420.2,259.7 420.8,259.5 C421.3,259.3 422.0,259.3 422.6,259.5 C423.1,259.7 423.7,260.1 424.0,260.6 C424.3,261.0 424.5,261.7 424.5,262.3Z"/>
<path fill="#009600" d="M448.2,269.6 C448.2,270.0 448.1,270.5 447.8,270.8 C447.6,271.2 447.2,271.5 446.8,271.6 C446.4,271.7 445.9,271.7 445.5,271.6 C445.1,271.5 444.7,271.2 444.4,270.8 C444.2,270.5 444.0,270.0 444.0,269.6 C444.0,269.2 444.2,268.7 444.4,268.3 C444.7,268.0 445.1,267.7 445.5,267.6 C445.9,267.4 446.4,267.4 446.8,267.6 C447.2,267.7 447.6,268.0 447.8,268.3 C448.1,268.7 448.2,269.2 448.2,269.6Z"/>
<path fill="#009600" d="M424.5,297.9 C425.0,296.6 427.4,295.3 429.4,295.0 C431.3,294.7 434.0,294.8 436.1,296.0 C438.2,297.1 440.8,299.7 441.9,301.8 C443.0,303.8 443.5,307.1 442.9,308.5 C442.2,309.9 439.8,310.7 438.0,310.4 C436.3,310.1 434.2,307.9 432.3,306.6 C430.3,305.3 427.8,304.2 426.5,302.7 C425.2,301.3 424.1,299.2 424.5,297.9Z"/>
<path fill="#64be00" d="M466.9,319.1 C467.7,316.5 472.4,312.4 473.7,312.4 C475.0,312.4 473.7,317.0 474.6,319.1 C475.6,321.2 477.4,323.6 479.5,324.9 C481.5,326.2 485.1,326.2 487.2,326.8 C489.3,327.4 491.5,327.6 492.0,328.7 C492.5,329.9 491.5,332.6 490.1,333.5 C488.6,334.5 485.7,334.7 483.3,334.5 C480.9,334.3 478.0,333.7 475.6,332.6 C473.2,331.5 470.3,330.0 468.9,327.8 C467.4,325.5 466.1,321.7 466.9,319.1Z"/>
<path fill="#ffff73" d="M449.6,334.5 C449.3,332.6 453.8,335.8 456.3,338.4 C458.9,340.9 462.1,345.7 465.0,349.9 C467.9,354.1 472.2,360.4 473.7,363.4 C475.1,366.5 475.8,367.4 473.7,368.2 C471.6,369.0 463.7,371.3 461.2,368.2 C458.6,365.2 460.2,355.5 458.3,349.9 C456.3,344.3 449.9,336.4 449.6,334.5Z"/>
<path fill="#ffff73" d="M492.0,342.2 C493.4,340.4 499.0,337.4 501.6,339.3 C504.2,341.3 507.9,351.0 507.4,353.8 C506.9,356.5 501.1,356.3 498.7,355.7 C496.3,355.1 494.1,352.2 492.9,349.9 C491.8,347.7 490.5,344.0 492.0,342.2Z"/>
<path fill="#ffff73" d="M475.6,362.4 C476.9,361.3 484.4,359.4 487.2,360.5 C489.9,361.6 490.5,367.1 492.0,369.2 C493.4,371.3 493.9,372.1 495.8,373.0 C497.8,374.0 501.6,373.4 503.5,375.0 C505.5,376.6 506.6,380.1 507.4,382.7 C508.2,385.2 507.4,387.7 508.4,390.4 C509.3,393.1 510.6,397.3 513.2,399.1 C515.7,400.8 519.0,401.0 523.8,401.0 C528.6,401.0 539.0,397.5 542.1,399.1 C545.1,400.7 544.2,408.7 542.1,410.6 C540.0,412.5 532.6,409.7 529.6,410.6 C526.5,411.6 526.3,415.0 523.8,416.4 C521.2,417.8 518.0,420.1 514.1,419.3 C510.3,418.5 502.3,414.1 500.7,411.6 C499.0,409.0 504.2,406.6 504.5,403.9 C504.8,401.1 504.2,396.8 502.6,395.2 C501.0,393.6 497.3,394.4 494.9,394.2 C492.5,394.1 490.1,395.5 488.1,394.2 C486.2,393.0 483.0,388.5 483.3,386.5 C483.6,384.6 489.4,384.9 490.1,382.7 C490.7,380.4 488.9,375.6 487.2,373.0 C485.4,370.5 481.4,369.0 479.5,367.3 C477.5,365.5 474.3,363.6 475.6,362.4Z"/>
<path fill="#aaeb1e" d="M492.9,396.2 C493.6,394.2 497.1,393.6 498.7,394.2 C500.3,394.9 502.1,397.8 502.6,400.0 C503.1,402.3 502.9,406.8 501.6,407.7 C500.3,408.7 496.3,407.7 494.9,405.8 C493.4,403.9 492.3,398.1 492.9,396.2Z"/>
<path fill="#64be00" d="M490.1,407.7 C490.5,406.4 493.3,405.5 494.9,405.8 C496.5,406.1 498.9,408.2 499.7,409.7 C500.5,411.1 500.5,413.2 499.7,414.5 C498.9,415.8 496.2,417.5 494.9,417.4 C493.6,417.2 492.8,415.1 492.0,413.5 C491.2,411.9 489.6,409.0 490.1,407.7Z"/>
<path fill="#ffff73" d="M494.9,421.2 C495.4,419.8 499.0,420.3 500.7,422.2 C502.3,424.1 504.2,430.0 504.5,432.8 C504.8,435.5 503.7,438.9 502.6,438.6 C501.5,438.2 499.0,433.7 497.8,430.8 C496.5,428.0 494.4,422.7 494.9,421.2Z"/>
<path fill="#64be00" d="M488.7,416.0 C491.6,412.1 512.1,421.3 518.9,421.3 C525.7,421.3 525.1,417.2 529.6,416.0 C534.0,414.8 542.4,411.0 545.6,414.2 C548.7,417.5 546.7,431.6 548.2,435.6 C549.7,439.6 552.1,438.2 554.4,438.2 C556.8,438.2 560.7,438.4 562.4,435.6 C564.2,432.7 563.8,425.5 565.1,421.3 C566.4,417.2 569.3,414.5 570.4,410.7 C571.6,406.8 569.0,400.3 572.2,398.2 C575.5,396.1 587.0,387.6 590.0,398.2 C593.0,408.9 587.0,448.0 590.0,462.2 C593.0,476.4 602.4,477.9 607.8,483.6 C613.1,489.2 617.3,493.3 622.0,496.0 C626.7,498.7 633.6,497.5 636.2,499.6 C638.9,501.6 634.1,506.1 638.0,508.4 C641.9,510.8 654.3,513.8 659.3,513.8 C664.4,513.8 663.5,509.6 668.2,508.4 C673.0,507.3 682.1,509.0 687.8,506.7 C693.4,504.3 697.6,498.1 702.0,494.2 C706.4,490.4 710.6,486.2 714.4,483.6 C718.3,480.9 721.9,478.5 725.1,478.2 C728.4,477.9 732.8,478.8 734.0,481.8 C735.2,484.7 733.4,491.3 732.2,496.0 C731.0,500.7 728.7,506.1 726.9,510.2 C725.1,514.4 724.8,517.9 721.6,520.9 C718.3,523.9 710.9,525.0 707.3,528.0 C703.8,531.0 702.9,535.4 700.2,538.7 C697.6,541.9 693.7,544.0 691.3,547.6 C689.0,551.1 688.7,556.4 686.0,560.0 C683.3,563.6 680.1,566.2 675.3,568.9 C670.6,571.6 663.5,574.5 657.6,576.0 C651.6,577.5 645.1,577.8 639.8,577.8 C634.4,577.8 630.0,576.3 625.6,576.0 C621.1,575.7 616.1,574.2 613.1,576.0 C610.1,577.8 609.0,582.8 607.8,586.7 C606.6,590.5 607.8,595.3 606.0,599.1 C604.2,603.0 600.4,606.5 597.1,609.8 C593.9,613.0 590.9,616.6 586.4,618.7 C582.0,620.7 575.8,621.3 570.4,622.2 C565.1,623.1 559.5,622.8 554.4,624.0 C549.4,625.2 544.4,627.0 540.2,629.3 C536.1,631.7 532.5,634.4 529.6,638.2 C526.6,642.1 530.1,650.1 522.4,652.4 C514.7,654.8 490.1,655.1 483.3,652.4 C476.5,649.8 483.6,640.6 481.6,636.4 C479.5,632.3 474.7,629.9 470.9,627.6 C467.0,625.2 462.0,624.6 458.4,622.2 C454.9,619.9 451.5,617.2 449.6,613.3 C447.6,609.5 446.6,602.4 446.9,599.1 C447.2,595.9 447.0,595.9 451.3,593.8 C455.6,591.7 467.3,589.3 472.7,586.7 C478.0,584.0 479.2,585.2 483.3,577.8 C487.5,570.4 494.6,554.1 497.6,542.2 C500.5,530.4 499.3,517.0 501.1,506.7 C502.9,496.3 508.2,490.4 508.2,480.0 C508.2,469.6 504.4,455.1 501.1,444.4 C497.9,433.8 485.7,419.9 488.7,416.0Z"/>
<path fill="#aaeb1e" d="M523.3,437.3 C524.2,435.9 527.0,435.4 529.6,435.6 C532.1,435.7 535.5,437.8 538.4,438.2 C541.4,438.7 544.7,437.9 547.3,438.2 C550.0,438.5 551.9,440.1 554.4,440.0 C557.0,439.9 560.7,436.6 562.4,437.3 C564.2,438.1 564.2,441.8 565.1,444.4 C566.0,447.1 566.9,450.1 567.8,453.3 C568.7,456.6 569.4,460.4 570.4,464.0 C571.5,467.6 574.0,472.3 574.0,474.7 C574.0,477.0 572.5,477.6 570.4,478.2 C568.4,478.8 564.2,477.6 561.6,478.2 C558.9,478.8 555.0,480.0 554.4,481.8 C553.9,483.6 557.7,487.1 558.0,488.9 C558.3,490.7 557.1,492.4 556.2,492.4 C555.3,492.4 553.6,491.0 552.7,488.9 C551.8,486.8 552.4,482.7 550.9,480.0 C549.4,477.3 546.4,475.0 543.8,472.9 C541.1,470.8 537.4,469.6 534.9,467.6 C532.4,465.5 530.0,463.1 528.7,460.4 C527.3,457.8 527.6,454.2 526.9,451.6 C526.1,448.9 524.8,446.8 524.2,444.4 C523.6,442.1 522.4,438.8 523.3,437.3Z"/>
<path fill="#64be00" d="M557.5,450.8 C558.2,452.5 558.5,454.6 558.5,456.3 C558.5,458.0 558.0,459.8 557.3,461.0 C556.6,462.3 555.5,463.3 554.3,463.7 C553.1,464.1 551.6,464.1 550.3,463.6 C549.0,463.1 547.5,462.0 546.3,460.7 C545.2,459.4 544.1,457.6 543.5,455.9 C542.9,454.2 542.5,452.1 542.6,450.4 C542.6,448.7 543.1,446.9 543.8,445.6 C544.5,444.4 545.6,443.4 546.8,443.0 C547.9,442.6 549.4,442.6 550.8,443.1 C552.1,443.6 553.6,444.7 554.7,445.9 C555.9,447.2 556.9,449.1 557.5,450.8Z"/>
<path fill="#ffff73" d="M562.8,438.8 C562.8,439.3 562.6,439.9 562.4,440.3 C562.1,440.7 561.7,441.1 561.3,441.3 C560.9,441.5 560.4,441.5 560.0,441.3 C559.6,441.1 559.2,440.7 558.9,440.3 C558.7,439.9 558.5,439.3 558.5,438.8 C558.5,438.2 558.7,437.6 558.9,437.2 C559.2,436.8 559.6,436.4 560.0,436.2 C560.4,436.1 560.9,436.1 561.3,436.2 C561.7,436.4 562.1,436.8 562.4,437.2 C562.6,437.6 562.8,438.2 562.8,438.8Z"/>
<path fill="#aaeb1e" d="M578.4,556.4 C579.5,554.4 581.9,553.8 584.7,552.9 C587.5,552.0 592.1,552.0 595.3,551.1 C598.6,550.2 601.9,549.3 604.2,547.6 C606.6,545.8 607.8,541.9 609.6,540.4 C611.3,539.0 613.3,538.1 614.9,538.7 C616.5,539.3 618.7,541.9 619.3,544.0 C619.9,546.1 619.8,549.0 618.4,551.1 C617.1,553.2 614.0,555.0 611.3,556.4 C608.7,557.9 604.8,558.2 602.4,560.0 C600.1,561.8 599.2,565.3 597.1,567.1 C595.0,568.9 592.4,570.1 590.0,570.7 C587.6,571.3 584.8,571.6 582.9,570.7 C581.0,569.8 579.2,567.7 578.4,565.3 C577.7,563.0 577.4,558.5 578.4,556.4Z"/>
<path fill="#aaeb1e" d="M616.7,522.7 C618.0,521.2 622.9,520.6 625.6,519.1 C628.2,517.6 630.4,514.8 632.7,513.8 C634.9,512.7 637.4,512.3 638.9,512.9 C640.4,513.5 641.7,515.4 641.6,517.3 C641.4,519.3 639.8,523.3 638.0,524.4 C636.2,525.6 633.3,523.7 630.9,524.4 C628.5,525.2 626.0,528.3 623.8,528.9 C621.6,529.5 618.7,529.0 617.6,528.0 C616.4,527.0 615.3,524.1 616.7,522.7Z"/>
<path fill="#aaeb1e" d="M631.8,535.1 C632.4,533.5 634.3,532.4 636.2,530.7 C638.1,528.9 641.3,527.0 643.3,524.4 C645.4,521.9 647.2,518.2 648.7,515.6 C650.1,512.9 650.6,508.7 652.2,508.4 C653.9,508.1 657.9,511.4 658.4,513.8 C659.0,516.1 657.1,519.7 655.8,522.7 C654.4,525.6 652.1,528.6 650.4,531.6 C648.8,534.5 647.8,538.7 646.0,540.4 C644.2,542.2 642.0,542.2 639.8,542.2 C637.6,542.2 634.0,541.6 632.7,540.4 C631.3,539.3 631.2,536.7 631.8,535.1Z"/>
<path fill="#009600" d="M526.0,483.6 C528.1,480.9 529.9,478.5 531.3,480.0 C532.8,481.5 534.0,488.6 534.9,492.4 C535.8,496.3 536.8,499.3 536.7,503.1 C536.5,507.0 534.0,512.3 534.0,515.6 C534.0,518.8 533.3,521.5 536.7,522.7 C540.1,523.9 548.8,522.7 554.4,522.7 C560.1,522.7 568.1,520.6 570.4,522.7 C572.8,524.7 568.1,531.6 568.7,535.1 C569.3,538.7 573.7,540.7 574.0,544.0 C574.3,547.3 572.2,551.7 570.4,554.7 C568.7,557.6 566.0,561.2 563.3,561.8 C560.7,562.4 558.9,559.1 554.4,558.2 C550.0,557.3 542.0,557.6 536.7,556.4 C531.3,555.3 525.6,551.4 522.4,551.1 C519.3,550.8 517.4,552.6 518.0,554.7 C518.6,556.7 522.3,560.9 526.0,563.6 C529.7,566.2 537.3,570.1 540.2,570.7 C543.2,571.3 540.8,567.4 543.8,567.1 C546.7,566.8 553.3,566.8 558.0,568.9 C562.7,571.0 569.4,575.7 572.2,579.6 C575.0,583.4 574.9,587.9 574.9,592.0 C574.9,596.1 574.4,601.3 572.2,604.4 C570.0,607.6 566.3,609.2 561.6,610.7 C556.8,612.1 549.1,613.5 543.8,613.3 C538.4,613.2 533.7,611.3 529.6,609.8 C525.4,608.3 522.4,604.7 518.9,604.4 C515.3,604.1 511.2,605.9 508.2,608.0 C505.3,610.1 502.9,613.0 501.1,616.9 C499.3,620.7 498.7,627.9 497.6,631.1 C496.4,634.4 496.1,636.7 494.0,636.4 C491.9,636.1 487.5,632.0 485.1,629.3 C482.7,626.7 483.0,622.2 479.8,620.4 C476.5,618.7 469.7,619.6 465.6,618.7 C461.4,617.8 457.9,617.5 454.9,615.1 C451.9,612.7 448.7,607.7 447.8,604.4 C446.9,601.2 447.5,598.2 449.6,595.6 C451.6,592.9 455.8,590.2 460.2,588.4 C464.7,586.7 471.8,586.7 476.2,584.9 C480.7,583.1 483.6,580.4 486.9,577.8 C490.1,575.1 493.7,573.3 495.8,568.9 C497.9,564.4 498.6,557.0 499.3,551.1 C500.1,545.2 499.3,537.8 500.2,533.3 C501.1,528.9 503.3,527.7 504.7,524.4 C506.0,521.2 506.4,516.7 508.2,513.8 C510.0,510.8 513.6,509.6 515.3,506.7 C517.1,503.7 517.1,499.9 518.9,496.0 C520.7,492.1 523.9,486.2 526.0,483.6Z"/>
<path fill="#009600" d="M582.9,480.0 C583.8,476.6 586.7,476.4 588.2,477.3 C589.7,478.2 590.3,483.1 591.8,485.3 C593.3,487.6 595.0,490.4 597.1,490.7 C599.2,491.0 602.9,486.5 604.2,487.1 C605.6,487.7 605.7,491.6 605.1,494.2 C604.5,496.9 601.7,499.6 600.7,503.1 C599.6,506.7 600.1,512.4 598.9,515.6 C597.7,518.7 595.9,520.6 593.6,521.8 C591.2,523.0 587.2,523.4 584.7,522.7 C582.1,521.9 579.3,520.0 578.4,517.3 C577.6,514.7 578.6,509.9 579.3,506.7 C580.1,503.4 582.3,502.2 582.9,497.8 C583.5,493.3 582.0,483.4 582.9,480.0Z"/>
<path fill="#009600" d="M672.7,517.3 C674.3,514.7 679.9,516.7 682.4,515.6 C685.0,514.4 685.7,511.4 687.8,510.2 C689.9,509.0 693.1,507.9 694.9,508.4 C696.7,509.0 698.4,511.4 698.4,513.8 C698.4,516.1 696.4,519.7 694.9,522.7 C693.4,525.6 691.6,528.7 689.6,531.6 C687.5,534.4 684.5,538.1 682.4,539.6 C680.4,541.0 678.7,541.8 677.1,540.4 C675.5,539.1 673.4,535.4 672.7,531.6 C671.9,527.7 671.0,520.0 672.7,517.3Z"/>
<path fill="#009600" d="M581.8,453.0 C582.0,455.1 582.0,457.5 581.8,459.4 C581.6,461.3 581.2,463.1 580.6,464.2 C580.1,465.3 579.4,466.0 578.7,466.1 C578.0,466.1 577.1,465.6 576.4,464.6 C575.7,463.6 574.9,461.8 574.4,460.0 C573.9,458.2 573.5,455.8 573.3,453.7 C573.1,451.6 573.1,449.2 573.3,447.3 C573.5,445.4 573.9,443.6 574.5,442.5 C575.0,441.4 575.7,440.6 576.4,440.6 C577.1,440.5 578.0,441.1 578.7,442.1 C579.4,443.1 580.2,444.8 580.7,446.6 C581.2,448.4 581.6,450.8 581.8,453.0Z"/>
<path fill="#009600" d="M540.6,425.2 C540.6,426.2 540.3,427.4 539.8,428.2 C539.4,429.0 538.6,429.7 537.9,430.0 C537.1,430.3 536.2,430.3 535.5,430.0 C534.7,429.7 534.0,429.0 533.5,428.2 C533.1,427.4 532.8,426.2 532.8,425.2 C532.8,424.3 533.1,423.1 533.5,422.3 C534.0,421.5 534.7,420.8 535.5,420.5 C536.2,420.2 537.1,420.2 537.9,420.5 C538.6,420.8 539.4,421.5 539.8,422.3 C540.3,423.1 540.6,424.3 540.6,425.2Z"/>
<path fill="#009600" d="M529.1,473.8 C528.8,474.1 528.3,474.4 527.8,474.4 C527.4,474.5 526.7,474.4 526.3,474.1 C525.8,473.9 525.2,473.4 524.9,473.0 C524.6,472.5 524.4,472.0 524.3,471.5 C524.3,471.0 524.4,470.5 524.7,470.2 C525.0,469.9 525.5,469.6 525.9,469.6 C526.4,469.5 527.0,469.6 527.5,469.9 C528.0,470.1 528.5,470.6 528.9,471.0 C529.2,471.5 529.4,472.0 529.5,472.5 C529.5,473.0 529.3,473.5 529.1,473.8Z"/>
<path fill="#ffff73" d="M643.3,498.7 C643.6,497.8 649.6,499.3 652.2,500.4 C654.9,501.6 659.6,504.9 659.3,505.8 C659.0,506.7 653.1,507.0 650.4,505.8 C647.8,504.6 643.0,499.6 643.3,498.7Z"/>
<path fill="#ffff73" d="M744.7,476.4 C747.9,475.0 759.8,479.7 760.7,483.6 C761.6,487.4 753.0,494.5 750.0,499.6 C747.0,504.6 744.4,507.9 742.9,513.8 C741.4,519.7 742.0,529.5 741.1,535.1 C740.2,540.7 739.6,543.4 737.6,547.6 C735.5,551.7 731.0,559.1 728.7,560.0 C726.3,560.9 723.0,556.4 723.3,552.9 C723.6,549.3 729.0,543.4 730.4,538.7 C731.9,533.9 731.0,529.8 732.2,524.4 C733.4,519.1 736.1,512.0 737.6,506.7 C739.0,501.3 739.9,497.5 741.1,492.4 C742.3,487.4 741.4,477.9 744.7,476.4Z"/>
<path fill="#ffff73" d="M700.2,481.8 C702.6,478.8 704.7,478.1 707.3,478.2 C710.0,478.4 715.9,480.6 716.2,482.7 C716.5,484.7 711.8,488.4 709.1,490.7 C706.4,492.9 702.9,495.1 700.2,496.0 C697.6,496.9 693.1,498.4 693.1,496.0 C693.1,493.6 697.9,484.7 700.2,481.8Z"/>
<path fill="#ffff73" d="M702.0,528.0 C704.7,525.9 708.8,525.0 710.9,526.2 C713.0,527.4 714.1,532.1 714.4,535.1 C714.7,538.1 711.5,541.9 712.7,544.0 C713.9,546.1 718.3,545.5 721.6,547.6 C724.8,549.6 732.8,552.6 732.2,556.4 C731.6,560.3 721.3,568.3 718.0,570.7 C714.7,573.0 713.9,569.5 712.7,570.7 C711.5,571.9 711.3,574.2 710.9,577.8 C710.4,581.3 711.2,589.3 710.0,592.0 C708.8,594.7 706.0,594.4 703.8,593.8 C701.6,593.2 699.0,591.1 696.7,588.4 C694.3,585.8 690.7,581.9 689.6,577.8 C688.4,573.6 689.0,568.0 689.6,563.6 C690.1,559.1 692.2,555.3 693.1,551.1 C694.0,547.0 693.4,542.5 694.9,538.7 C696.4,534.8 699.3,530.1 702.0,528.0Z"/>
<path fill="#ffd700" d="M698.4,542.2 C699.9,540.1 703.5,537.8 705.6,538.7 C707.6,539.6 709.4,545.2 710.9,547.6 C712.4,549.9 712.4,551.4 714.4,552.9 C716.5,554.4 722.1,555.0 723.3,556.4 C724.5,557.9 723.3,560.0 721.6,561.8 C719.8,563.6 714.7,565.6 712.7,567.1 C710.6,568.6 710.3,571.0 709.1,570.7 C707.9,570.4 706.7,567.4 705.6,565.3 C704.4,563.3 703.5,560.6 702.0,558.2 C700.5,555.9 697.3,553.8 696.7,551.1 C696.1,548.4 697.0,544.3 698.4,542.2Z"/>
<path fill="#ffd700" d="M736.7,529.8 C737.4,527.4 740.4,525.9 741.1,528.0 C741.9,530.1 741.9,539.9 741.1,542.2 C740.4,544.6 737.4,544.3 736.7,542.2 C735.9,540.1 735.9,532.1 736.7,529.8Z"/>
<path fill="#64be00" d="M720.5,541.9 C720.5,542.3 720.3,542.8 720.1,543.1 C719.8,543.5 719.4,543.8 719.0,543.9 C718.6,544.0 718.1,544.0 717.7,543.9 C717.3,543.8 716.9,543.5 716.6,543.1 C716.4,542.8 716.2,542.3 716.2,541.9 C716.2,541.4 716.4,541.0 716.6,540.6 C716.9,540.3 717.3,540.0 717.7,539.8 C718.1,539.7 718.6,539.7 719.0,539.8 C719.4,540.0 719.8,540.3 720.1,540.6 C720.3,541.0 720.5,541.4 720.5,541.9Z"/>
<path fill="#ffff73" d="M659.3,586.7 C661.1,583.1 665.0,579.3 668.2,577.8 C671.5,576.3 676.2,576.6 678.9,577.8 C681.6,579.0 681.3,583.1 684.2,584.9 C687.2,586.7 692.5,587.0 696.7,588.4 C700.8,589.9 707.9,592.3 709.1,593.8 C710.3,595.3 708.8,597.0 703.8,597.3 C698.7,597.6 686.0,595.6 678.9,595.6 C671.8,595.6 665.6,596.7 661.1,597.3 C656.7,597.9 654.9,599.4 652.2,599.1 C649.6,598.8 647.5,596.7 645.1,595.6 C642.7,594.4 640.1,591.4 638.0,592.0 C635.9,592.6 633.9,596.4 632.7,599.1 C631.5,601.8 632.7,605.6 630.9,608.0 C629.1,610.4 625.6,611.3 622.0,613.3 C618.4,615.4 612.5,617.8 609.6,620.4 C606.6,623.1 604.8,624.6 604.2,629.3 C603.6,634.1 596.5,645.6 606.0,648.9 C615.5,652.1 654.0,653.3 661.1,648.9 C668.2,644.4 651.9,628.1 648.7,622.2 C645.4,616.3 641.6,616.3 641.6,613.3 C641.6,610.4 646.0,606.8 648.7,604.4 C651.3,602.1 655.8,602.1 657.6,599.1 C659.3,596.1 657.6,590.2 659.3,586.7Z"/>
<path fill="#ffd700" d="M643.3,600.9 C645.4,598.5 648.1,597.8 650.4,597.3 C652.8,596.9 657.9,596.4 657.6,598.2 C657.3,600.0 651.3,605.2 648.7,608.0 C646.0,610.8 642.4,612.4 641.6,615.1 C640.7,617.8 642.1,618.4 643.3,624.0 C644.5,629.6 653.7,644.7 648.7,648.9 C643.6,653.0 619.3,651.9 613.1,648.9 C606.9,645.9 610.4,635.3 611.3,631.1 C612.2,627.0 615.5,626.1 618.4,624.0 C621.4,621.9 625.9,620.7 629.1,618.7 C632.4,616.6 635.6,614.5 638.0,611.6 C640.4,608.6 641.3,603.3 643.3,600.9Z"/>
<path fill="#ffd700" d="M702.9,595.6 C705.1,593.8 715.5,595.9 716.2,599.1 C717.0,602.4 709.6,613.3 707.3,615.1 C705.1,616.9 703.6,613.0 702.9,609.8 C702.1,606.5 700.7,597.3 702.9,595.6Z"/>
<path fill="#64be00" d="M584.4,642.7 C586.7,640.5 592.1,636.8 595.3,637.3 C598.5,637.7 602.6,641.8 603.6,645.5 C604.5,649.1 602.2,654.6 600.8,659.2 C599.5,663.7 597.2,668.3 595.3,672.9 C593.5,677.4 589.9,682.0 589.9,686.6 C589.9,691.1 594.4,696.2 595.3,700.3 C596.3,704.4 597.2,708.5 595.3,711.2 C593.5,714.0 588.0,714.9 584.4,716.7 C580.7,718.5 577.1,719.9 573.4,722.2 C569.8,724.5 565.2,726.8 562.5,730.4 C559.7,734.1 560.2,739.5 557.0,744.1 C553.8,748.7 547.9,753.7 543.3,757.8 C538.7,761.9 533.7,765.6 529.6,768.8 C525.5,772.0 521.4,776.3 518.6,777.0 C515.9,777.7 513.6,775.6 513.2,772.9 C512.7,770.1 514.5,764.9 515.9,760.5 C517.3,756.2 519.1,751.9 521.4,746.8 C523.7,741.8 526.4,735.4 529.6,730.4 C532.8,725.4 536.0,720.4 540.5,716.7 C545.1,713.1 551.5,711.7 557.0,708.5 C562.5,705.3 570.2,702.1 573.4,697.5 C576.6,693.0 575.5,686.6 576.2,681.1 C576.8,675.6 576.6,669.7 577.5,664.7 C578.4,659.6 580.5,654.6 581.6,651.0 C582.8,647.3 582.1,645.0 584.4,642.7Z"/>
<path fill="#009600" d="M591.2,651.0 C592.8,649.6 596.0,649.1 596.7,651.0 C597.4,652.8 596.5,658.3 595.3,661.9 C594.2,665.6 591.7,671.5 589.9,672.9 C588.0,674.2 584.8,672.4 584.4,670.1 C583.9,667.9 586.0,662.4 587.1,659.2 C588.3,656.0 589.6,652.3 591.2,651.0Z"/>
<path fill="#009600" d="M535.1,722.2 C538.5,718.8 544.2,716.3 548.8,715.3 C553.3,714.4 560.6,714.7 562.5,716.7 C564.3,718.8 561.6,724.0 559.7,727.7 C557.9,731.3 554.7,735.0 551.5,738.6 C548.3,742.3 544.2,745.9 540.5,749.6 C536.9,753.2 533.0,756.9 529.6,760.5 C526.2,764.2 522.1,770.6 520.0,771.5 C517.9,772.4 516.8,769.2 517.3,766.0 C517.7,762.8 520.9,757.4 522.7,752.3 C524.6,747.3 526.2,740.9 528.2,735.9 C530.3,730.9 531.6,725.6 535.1,722.2Z"/>
<path fill="#73b2ff" d="M541.9,738.6 C541.9,739.2 541.8,739.8 541.6,740.2 C541.3,740.7 540.9,741.1 540.6,741.2 C540.2,741.4 539.8,741.4 539.4,741.2 C539.1,741.1 538.7,740.7 538.4,740.2 C538.2,739.8 538.1,739.2 538.1,738.6 C538.1,738.1 538.2,737.5 538.4,737.0 C538.7,736.6 539.1,736.2 539.4,736.0 C539.8,735.9 540.2,735.9 540.6,736.0 C540.9,736.2 541.3,736.6 541.6,737.0 C541.8,737.5 541.9,738.1 541.9,738.6Z"/>
<path fill="#64be00" d="M543.0,786.6 C543.0,787.5 542.7,788.7 542.3,789.5 C541.8,790.3 541.1,791.0 540.4,791.3 C539.6,791.6 538.7,791.6 538.0,791.3 C537.3,791.0 536.5,790.3 536.1,789.5 C535.6,788.7 535.3,787.5 535.3,786.6 C535.3,785.6 535.6,784.5 536.1,783.7 C536.5,782.9 537.3,782.2 538.0,781.9 C538.7,781.6 539.6,781.6 540.4,781.9 C541.1,782.2 541.8,782.9 542.3,783.7 C542.7,784.5 543.0,785.6 543.0,786.6Z"/>
<path fill="#ffff73" d="M510.4,655.1 C510.4,651.2 523.2,649.6 529.6,646.8 C536.0,644.1 542.8,639.8 548.8,638.6 C554.7,637.5 560.6,637.9 565.2,640.0 C569.8,642.1 574.8,646.4 576.2,651.0 C577.5,655.5 574.6,661.9 573.4,667.4 C572.3,672.9 569.5,678.4 569.3,683.8 C569.1,689.3 573.2,696.6 572.1,700.3 C570.9,703.9 566.3,703.9 562.5,705.8 C558.6,707.6 552.9,708.9 548.8,711.2 C544.7,713.5 541.2,718.1 537.8,719.5 C534.4,720.8 528.7,722.6 528.2,719.5 C527.8,716.3 533.9,705.8 535.1,700.3 C536.2,694.8 536.0,691.6 535.1,686.6 C534.2,681.6 533.7,675.4 529.6,670.1 C525.5,664.9 510.4,658.9 510.4,655.1Z"/>
<path fill="#aaeb1e" d="M548.8,670.1 C550.1,667.5 556.5,661.5 559.7,659.2 C562.9,656.9 566.0,655.5 567.9,656.4 C569.9,657.4 571.2,661.5 571.2,664.7 C571.2,667.9 570.3,674.2 567.9,675.6 C565.6,677.0 559.7,673.0 557.0,672.9 C554.2,672.8 552.9,675.5 551.5,675.1 C550.1,674.6 547.4,672.8 548.8,670.1Z"/>
<path fill="#ffff73" d="M609.0,626.3 C610.4,622.6 614.1,620.4 617.3,618.1 C620.5,615.8 624.1,614.9 628.2,612.6 C632.3,610.3 638.3,606.7 641.9,604.4 C645.6,602.1 646.5,600.7 650.1,598.9 C653.8,597.1 663.4,591.6 663.8,593.4 C664.3,595.3 655.6,605.3 652.9,609.9 C650.1,614.4 646.9,615.6 647.4,620.8 C647.9,626.1 656.1,633.6 655.6,641.4 C655.2,649.1 647.4,660.8 644.7,667.4 C641.9,674.0 642.4,675.6 639.2,681.1 C636.0,686.6 630.0,696.6 625.5,700.3 C620.9,703.9 614.5,704.4 611.8,703.0 C609.0,701.6 610.4,695.7 609.0,692.1 C607.7,688.4 604.0,685.2 603.6,681.1 C603.1,677.0 604.9,672.4 606.3,667.4 C607.7,662.4 611.3,655.5 611.8,651.0 C612.2,646.4 609.5,644.1 609.0,640.0 C608.6,635.9 607.7,630.0 609.0,626.3Z"/>
<path fill="#ffd700" d="M611.8,631.8 C613.2,629.0 616.3,625.8 620.0,623.6 C623.7,621.3 630.0,618.5 633.7,618.1 C637.4,617.6 639.9,618.5 641.9,620.8 C644.0,623.1 644.0,628.4 646.0,631.8 C648.1,635.2 653.8,637.7 654.2,641.4 C654.7,645.0 650.8,650.7 648.8,653.7 C646.7,656.7 644.4,657.8 641.9,659.2 C639.4,660.5 636.0,660.1 633.7,661.9 C631.4,663.7 631.0,668.8 628.2,670.1 C625.5,671.5 620.5,670.6 617.3,670.1 C614.1,669.7 609.5,669.2 609.0,667.4 C608.6,665.6 612.2,661.9 614.5,659.2 C616.8,656.4 621.8,653.7 622.7,651.0 C623.7,648.2 621.8,644.6 620.0,642.7 C618.2,640.9 613.2,641.8 611.8,640.0 C610.4,638.2 610.4,634.5 611.8,631.8Z"/>
<path fill="#ff9600" d="M636.4,629.0 C637.8,627.4 641.5,626.3 641.9,627.7 C642.4,629.0 640.1,633.8 639.2,637.3 C638.3,640.7 637.8,646.4 636.4,648.2 C635.1,650.0 631.4,650.0 631.0,648.2 C630.5,646.4 632.8,640.5 633.7,637.3 C634.6,634.1 635.1,630.6 636.4,629.0Z"/>
<path fill="#aaeb1e" d="M639.2,659.2 C640.3,656.4 644.2,655.5 644.7,657.8 C645.1,660.1 643.1,670.1 641.9,672.9 C640.8,675.6 638.3,676.5 637.8,674.2 C637.4,672.0 638.0,661.9 639.2,659.2Z"/>
<path fill="#ffd700" d="M611.8,678.4 C613.2,676.5 616.6,674.2 620.0,675.6 C623.4,677.0 631.5,683.0 632.3,686.6 C633.2,690.1 627.4,695.6 624.9,697.0 C622.4,698.4 619.5,696.5 617.3,694.8 C615.1,693.1 612.7,689.3 611.8,686.6 C610.9,683.8 610.4,680.2 611.8,678.4Z"/>
<path fill="#ffff73" d="M595.3,716.7 C598.1,714.4 602.2,712.1 606.3,711.2 C610.4,710.3 620.5,708.0 620.0,711.2 C619.5,714.4 607.2,725.4 603.6,730.4 C599.9,735.4 600.4,737.3 598.1,741.4 C595.8,745.5 593.5,750.0 589.9,755.1 C586.2,760.1 580.7,767.4 576.2,771.5 C571.6,775.6 566.6,778.6 562.5,779.7 C558.4,780.9 555.2,780.2 551.5,778.4 C547.9,776.5 541.9,771.7 540.5,768.8 C539.2,765.8 540.5,763.3 543.3,760.5 C546.0,757.8 552.4,756.9 557.0,752.3 C561.6,747.8 566.6,736.8 570.7,733.2 C574.8,729.5 578.4,731.8 581.6,730.4 C584.8,729.0 587.6,727.2 589.9,724.9 C592.1,722.6 592.6,719.0 595.3,716.7Z"/>
<path fill="#64be00" d="M398.7,696.1 C402.2,703.6 397.8,726.0 395.8,734.7 C393.9,743.4 389.9,743.4 387.2,748.2 C384.4,753.0 380.7,757.5 379.5,763.6 C378.2,769.7 376.9,778.7 379.5,784.8 C382.0,790.9 391.0,795.7 394.9,800.2 C398.7,804.7 400.5,806.6 402.6,811.8 C404.7,816.9 406.8,824.6 407.4,831.0 C408.0,837.4 407.2,843.9 406.4,850.3 C405.6,856.7 406.4,866.0 402.6,869.6 C398.7,873.1 389.1,869.9 383.3,871.5 C377.5,873.1 371.1,875.7 367.9,879.2 C364.7,882.7 366.0,887.9 364.0,892.7 C362.1,897.5 359.6,903.3 356.3,908.1 C353.1,912.9 347.6,918.7 344.8,921.6 C341.9,924.5 342.9,924.3 339.3,925.3 C335.8,926.4 329.0,927.3 323.3,928.0 C317.7,928.7 310.3,929.0 305.6,929.8 C300.8,930.5 297.9,930.5 294.9,932.4 C291.9,934.4 290.7,939.0 287.8,941.3 C284.8,943.7 281.3,945.2 277.1,946.7 C273.0,948.1 267.6,948.1 262.9,950.2 C258.1,952.3 253.4,955.9 248.7,959.1 C243.9,962.4 239.2,966.2 234.4,969.8 C229.7,973.3 224.7,976.9 220.2,980.4 C215.8,984.0 211.0,987.6 207.8,991.1 C204.5,994.7 202.4,998.2 200.7,1001.8 C198.9,1005.3 199.2,1008.9 197.1,1012.4 C195.0,1016.0 191.8,1020.4 188.2,1023.1 C184.7,1025.8 180.5,1027.9 175.8,1028.4 C171.0,1029.0 164.8,1027.0 159.8,1026.7 C154.7,1026.4 149.7,1026.1 145.6,1026.7 C141.4,1027.3 137.6,1027.9 134.9,1030.2 C132.2,1032.6 130.7,1036.7 129.6,1040.9 C128.4,1045.0 127.2,1050.7 127.8,1055.1 C128.4,1059.6 131.6,1064.0 133.1,1067.6 C134.6,1071.1 137.6,1074.1 136.7,1076.4 C135.8,1078.8 129.9,1079.7 127.8,1081.8 C125.7,1083.9 124.2,1085.9 124.2,1088.9 C124.2,1091.9 125.7,1095.4 127.8,1099.6 C129.9,1103.7 133.7,1109.3 136.7,1113.8 C139.6,1118.2 142.3,1122.5 145.6,1126.2 C148.8,1129.9 154.4,1134.3 156.2,1136.0 C158.0,1137.7 157.9,1136.7 156.4,1136.4 C155.0,1136.2 150.2,1134.4 147.6,1134.7 C144.9,1135.0 142.5,1137.0 140.4,1138.2 C138.4,1139.4 137.8,1141.8 135.1,1141.8 C132.4,1141.8 128.0,1138.5 124.4,1138.2 C120.9,1137.9 116.7,1138.8 113.8,1140.0 C110.8,1141.2 108.1,1142.7 106.7,1145.3 C105.2,1148.0 105.5,1152.7 104.9,1156.0 C104.3,1159.3 105.5,1162.2 103.1,1164.9 C100.7,1167.6 93.0,1170.2 90.7,1172.0 C88.3,1173.8 87.4,1174.4 88.9,1175.6 C90.4,1176.7 97.2,1177.9 99.6,1179.1 C101.9,1180.3 103.1,1180.6 103.1,1182.7 C103.1,1184.7 100.7,1188.3 99.6,1191.6 C98.4,1194.8 103.7,1200.4 96.0,1202.2 C88.3,1204.0 66.4,1202.8 53.3,1202.2 C40.3,1201.6 23.3,1199.9 17.8,1198.7 C12.2,1197.5 22.1,1203.1 20.0,1195.0 C17.9,1186.9 5.8,1165.8 5.0,1150.0 C4.2,1134.2 2.5,1120.0 15.0,1100.0 C27.5,1080.0 64.2,1046.7 80.0,1030.0 C95.8,1013.3 98.3,1008.3 110.0,1000.0 C121.7,991.7 136.7,987.5 150.0,980.0 C163.3,972.5 176.7,965.8 190.0,955.0 C203.3,944.2 219.2,925.0 230.0,915.0 C240.8,905.0 248.0,902.5 255.0,895.0 C262.0,887.5 267.0,879.2 272.0,870.0 C277.0,860.8 282.0,851.7 285.0,840.0 C288.0,828.3 282.5,813.3 290.0,800.0 C297.5,786.7 322.5,773.3 330.0,760.0 C337.5,746.7 327.5,731.7 335.0,720.0 C342.5,708.3 364.4,694.0 375.0,690.0 C385.6,686.0 395.3,688.7 398.7,696.1Z"/>
<path fill="#009600" d="M375.6,696.1 C375.7,702.6 375.3,721.8 375.6,728.9 C375.9,736.0 377.9,735.0 377.5,738.5 C377.2,742.1 374.6,744.3 373.7,750.1 C372.7,755.9 371.1,766.2 371.8,773.2 C372.4,780.3 375.6,785.4 377.5,792.5 C379.5,799.6 381.7,808.5 383.3,815.6 C384.9,822.7 386.8,828.8 387.2,834.9 C387.5,841.0 388.5,847.7 385.2,852.2 C382.0,856.7 373.7,858.3 367.9,861.8 C362.1,865.4 354.4,868.9 350.6,873.4 C346.7,877.9 347.0,883.7 344.8,888.8 C342.5,894.0 340.6,899.7 337.1,904.2 C333.5,908.7 329.0,912.9 323.6,915.8 C318.1,918.7 310.4,919.7 304.3,921.6 C298.2,923.5 292.7,924.4 287.0,927.4 C281.3,930.4 275.2,936.3 270.0,939.6 C264.8,942.8 260.5,944.0 255.8,946.7 C251.0,949.3 246.3,952.3 241.6,955.6 C236.8,958.8 232.1,962.7 227.3,966.2 C222.6,969.8 217.6,973.3 213.1,976.9 C208.7,980.4 203.9,984.0 200.7,987.6 C197.4,991.1 195.3,994.4 193.6,998.2 C191.8,1002.1 192.1,1007.1 190.0,1010.7 C187.9,1014.2 184.7,1017.5 181.1,1019.6 C177.6,1021.6 173.1,1022.8 168.7,1023.1 C164.2,1023.4 159.2,1021.8 154.4,1021.3 C149.7,1020.9 144.4,1019.9 140.2,1020.4 C136.1,1021.0 132.5,1022.4 129.6,1024.9 C126.6,1027.4 124.2,1031.7 122.4,1035.6 C120.7,1039.4 119.5,1043.6 118.9,1048.0 C118.3,1052.4 119.7,1058.7 118.9,1062.2 C118.0,1065.7 117.0,1066.6 113.8,1068.9 C110.6,1071.2 104.3,1074.4 99.6,1076.0 C94.8,1077.6 89.2,1077.5 85.3,1078.7 C81.5,1079.9 79.0,1080.9 76.4,1083.1 C73.9,1085.3 71.6,1088.4 70.2,1092.0 C68.9,1095.6 68.3,1100.3 68.4,1104.4 C68.6,1108.6 70.4,1112.4 71.1,1116.9 C71.9,1121.3 73.2,1126.7 72.9,1131.1 C72.6,1135.6 70.8,1139.7 69.3,1143.6 C67.9,1147.4 64.9,1150.7 64.0,1154.2 C63.1,1157.8 62.8,1161.6 64.0,1164.9 C65.2,1168.1 68.4,1171.4 71.1,1173.8 C73.8,1176.1 77.9,1177.0 80.0,1179.1 C82.1,1181.2 85.0,1183.3 83.6,1186.2 C82.1,1189.2 78.2,1194.8 71.1,1196.9 C64.0,1199.0 49.8,1198.4 40.9,1198.7 C32.0,1199.0 21.3,1199.3 17.8,1198.7 C14.3,1198.1 22.1,1203.1 20.0,1195.0 C17.9,1186.9 5.8,1165.8 5.0,1150.0 C4.2,1134.2 2.5,1120.0 15.0,1100.0 C27.5,1080.0 64.2,1046.7 80.0,1030.0 C95.8,1013.3 98.3,1008.3 110.0,1000.0 C121.7,991.7 136.7,987.5 150.0,980.0 C163.3,972.5 176.7,965.8 190.0,955.0 C203.3,944.2 219.2,925.0 230.0,915.0 C240.8,905.0 248.0,902.5 255.0,895.0 C262.0,887.5 267.0,879.2 272.0,870.0 C277.0,860.8 282.0,851.7 285.0,840.0 C288.0,828.3 282.5,813.3 290.0,800.0 C297.5,786.7 322.5,773.3 330.0,760.0 C337.5,746.7 327.5,731.7 335.0,720.0 C342.5,708.3 368.2,694.0 375.0,690.0 C381.8,686.0 375.5,689.7 375.6,696.1Z"/>
<path fill="#64be00" d="M336.1,739.5 C335.8,737.3 338.8,733.2 340.9,730.8 C343.0,728.4 346.2,726.4 348.6,725.0 C351.1,723.7 354.6,721.1 355.8,722.7 C356.9,724.3 356.6,731.6 355.8,734.7 C354.9,737.8 352.7,739.9 350.6,741.4 C348.4,743.0 345.3,744.3 342.9,743.9 C340.4,743.6 336.4,741.7 336.1,739.5Z"/>
<path fill="#73b2ff" d="M323.6,800.2 C323.1,797.6 328.1,790.6 330.3,786.7 C332.6,782.9 334.3,779.5 337.1,777.1 C339.8,774.7 343.5,772.7 346.7,772.3 C349.9,771.8 353.8,772.4 356.3,774.2 C358.9,775.9 360.8,780.1 362.1,782.9 C363.4,785.6 364.7,788.2 364.0,790.6 C363.4,793.0 361.2,795.7 358.3,797.3 C355.4,798.9 350.9,799.4 346.7,800.2 C342.5,801.0 337.1,802.1 333.2,802.1 C329.4,802.1 324.1,802.8 323.6,800.2Z"/>
<path fill="#009600" d="M336.7,782.9 C336.7,783.3 336.5,783.8 336.3,784.2 C336.1,784.6 335.7,784.9 335.4,785.1 C335.0,785.2 334.5,785.2 334.2,785.1 C333.8,784.9 333.4,784.6 333.2,784.2 C333.0,783.8 332.8,783.3 332.8,782.9 C332.8,782.4 333.0,781.9 333.2,781.5 C333.4,781.1 333.8,780.8 334.2,780.7 C334.5,780.5 335.0,780.5 335.4,780.7 C335.7,780.8 336.1,781.1 336.3,781.5 C336.5,781.9 336.7,782.4 336.7,782.9Z"/>
<path fill="#73b2ff" d="M318.8,818.9 C318.8,819.4 318.5,820.0 318.2,820.5 C317.9,820.9 317.3,821.3 316.8,821.4 C316.2,821.6 315.5,821.6 315.0,821.4 C314.4,821.3 313.9,820.9 313.5,820.5 C313.2,820.0 313.0,819.4 313.0,818.9 C313.0,818.4 313.2,817.7 313.5,817.3 C313.9,816.9 314.4,816.5 315.0,816.3 C315.5,816.2 316.2,816.2 316.8,816.3 C317.3,816.5 317.9,816.9 318.2,817.3 C318.5,817.7 318.8,818.4 318.8,818.9Z"/>
<path fill="#73b2ff" d="M362.1,717.3 C362.1,717.6 362.0,718.0 361.8,718.2 C361.5,718.5 361.1,718.7 360.8,718.8 C360.4,718.9 360.0,718.9 359.6,718.8 C359.2,718.7 358.9,718.5 358.6,718.2 C358.4,718.0 358.3,717.6 358.3,717.3 C358.3,717.0 358.4,716.7 358.6,716.4 C358.9,716.2 359.2,716.0 359.6,715.9 C360.0,715.8 360.4,715.8 360.8,715.9 C361.1,716.0 361.5,716.2 361.8,716.4 C362.0,716.7 362.1,717.0 362.1,717.3Z"/>
<path fill="#73b2ff" d="M288.9,854.1 C289.9,855.9 289.5,848.7 290.8,850.3 C292.1,851.9 294.7,859.3 296.6,863.8 C298.5,868.3 300.0,873.4 302.4,877.3 C304.8,881.1 309.5,883.7 311.1,886.9 C312.7,890.1 312.8,893.6 312.0,896.5 C311.2,899.4 309.1,902.2 306.2,904.2 C303.4,906.3 298.2,907.5 294.7,909.1 C291.1,910.7 287.9,911.5 285.0,913.9 C282.2,916.3 280.2,920.9 277.3,923.5 C274.5,926.1 271.3,927.8 267.7,929.3 C264.1,930.8 259.8,930.7 255.8,932.4 C251.7,934.2 247.5,936.6 243.3,939.6 C239.2,942.5 234.7,947.3 230.9,950.2 C227.0,953.2 224.4,955.0 220.2,957.3 C216.1,959.7 210.4,962.1 206.0,964.4 C201.6,966.8 197.4,968.9 193.6,971.6 C189.7,974.2 185.4,977.2 182.9,980.4 C180.4,983.7 179.5,987.0 178.4,991.1 C177.4,995.3 177.7,1001.5 176.7,1005.3 C175.6,1009.2 173.9,1012.3 172.2,1014.2 C170.6,1016.1 169.3,1017.8 166.9,1016.9 C164.5,1016.0 161.3,1011.9 158.0,1008.9 C154.7,1005.9 150.9,1000.4 147.3,999.1 C143.8,997.8 139.9,1001.0 136.7,1000.9 C133.4,1000.7 132.2,998.4 127.8,998.2 C123.3,998.1 106.3,1003.0 110.0,1000.0 C113.7,997.0 136.7,987.5 150.0,980.0 C163.3,972.5 176.7,965.8 190.0,955.0 C203.3,944.2 219.2,925.0 230.0,915.0 C240.8,905.0 248.0,902.5 255.0,895.0 C262.0,887.5 267.0,879.2 272.0,870.0 C277.0,860.8 282.2,842.6 285.0,840.0 C287.8,837.4 287.9,852.4 288.9,854.1Z"/>
<path fill="#009600" d="M286.0,869.6 L288.3,877.3 L283.1,888.8 L276.4,897.5 L273.1,896.5 L275.8,902.3 L271.9,904.2 L267.7,894.6 L277.3,881.1Z"/>
<path fill="#73b2ff" d="M110.9,1014.2 C113.0,1013.1 114.2,1017.3 113.4,1020.5 C112.5,1023.6 108.5,1028.7 105.8,1033.1 C103.1,1037.5 99.7,1044.0 97.0,1046.9 C94.3,1049.9 91.3,1050.5 89.4,1050.7 C87.6,1050.9 83.8,1052.2 85.7,1048.2 C87.6,1044.2 96.6,1032.4 100.8,1026.8 C105.0,1021.1 108.8,1015.2 110.9,1014.2Z"/>
<path fill="#73b2ff" d="M51.6,1084.9 C53.6,1087.9 53.8,1096.7 55.1,1104.4 C56.4,1112.1 60.1,1124.3 59.6,1131.1 C59.0,1137.9 53.8,1140.6 51.6,1145.3 C49.3,1150.1 47.6,1154.5 46.2,1159.6 C44.9,1164.6 44.3,1169.0 43.6,1175.6 C42.8,1182.1 46.1,1194.8 41.8,1198.7 C37.5,1202.5 23.6,1207.0 17.8,1198.7 C12.0,1190.4 3.0,1167.6 7.1,1148.9 C11.3,1130.2 35.3,1097.3 42.7,1086.7 C50.1,1076.0 49.5,1081.9 51.6,1084.9Z"/>
<path fill="#004da8" d="M21.3,1143.6 L24.0,1141.8 L24.0,1147.1 L21.7,1148.9Z"/>
<path fill="#004da8" d="M15.6,1161.3 L17.4,1159.6 L17.4,1164.0 L15.6,1164.9Z"/>
<path fill="#64be00" d="M414.1,777.1 C412.9,774.5 414.1,768.4 416.1,765.5 C418.0,762.6 421.8,761.0 425.7,759.7 C429.6,758.4 436.0,757.2 439.2,757.8 C442.4,758.4 444.3,761.3 445.0,763.6 C445.6,765.8 445.0,769.4 443.0,771.3 C441.1,773.2 435.0,773.5 433.4,775.1 C431.8,776.8 435.0,780.0 433.4,780.9 C431.8,781.9 427.0,781.6 423.8,780.9 C420.6,780.3 415.4,779.6 414.1,777.1Z"/>
<path fill="#ffff73" d="M389.1,765.5 C389.1,763.6 391.3,761.0 392.9,761.7 C394.6,762.3 396.6,767.3 398.7,769.4 C400.8,771.5 405.5,772.8 405.5,774.2 C405.5,775.5 400.8,777.6 398.7,777.5 C396.6,777.3 394.6,775.2 392.9,773.2 C391.3,771.2 389.1,767.4 389.1,765.5Z"/>
<path fill="#ffff73" d="M419.9,794.4 C420.9,791.8 422.8,791.8 425.7,790.6 C428.6,789.3 434.1,789.0 437.3,786.7 C440.5,784.5 442.4,779.3 445.0,777.1 C447.5,774.8 450.1,773.9 452.7,773.2 C455.2,772.6 457.8,771.6 460.4,773.2 C463.0,774.8 465.5,777.1 468.1,782.9 C470.7,788.6 478.4,798.6 475.8,807.9 C473.2,817.2 457.8,832.6 452.7,838.7 C447.5,844.8 448.2,844.5 445.0,844.5 C441.8,844.5 436.6,841.0 433.4,838.7 C430.2,836.5 427.6,834.2 425.7,831.0 C423.8,827.8 422.8,823.6 421.8,819.5 C420.9,815.3 420.2,810.1 419.9,806.0 C419.6,801.8 419.0,797.0 419.9,794.4Z"/>
<path fill="#ffd700" d="M435.3,796.3 C436.8,792.5 438.9,791.2 441.1,788.6 C443.4,786.1 446.3,782.5 448.8,780.9 C451.4,779.3 454.0,778.4 456.5,779.0 C459.1,779.6 461.0,780.0 464.2,784.8 C467.5,789.6 477.7,799.6 475.8,807.9 C473.9,816.2 457.8,829.1 452.7,834.9 C447.5,840.7 447.2,842.9 445.0,842.6 C442.7,842.3 441.0,836.2 439.2,832.9 C437.4,829.7 435.5,826.8 434.4,823.3 C433.2,819.8 432.3,816.2 432.4,811.8 C432.6,807.3 433.9,800.2 435.3,796.3Z"/>
<path fill="#ff9600" d="M446.9,792.5 C447.2,789.9 450.4,785.7 452.7,784.8 C454.9,783.8 458.0,785.1 460.4,786.7 C462.8,788.3 464.9,790.7 467.1,794.4 C469.4,798.1 474.8,804.5 473.9,808.9 C472.9,813.2 464.6,817.7 461.3,820.4 C458.1,823.2 456.4,823.8 454.6,825.2 C452.8,826.7 451.9,829.7 450.8,829.1 C449.6,828.5 448.8,823.6 447.9,821.4 C446.9,819.1 444.5,817.5 445.0,815.6 C445.5,813.7 449.0,811.6 450.8,809.8 C452.5,808.1 455.6,806.6 455.6,805.0 C455.6,803.4 452.2,802.3 450.8,800.2 C449.3,798.1 446.6,795.1 446.9,792.5Z"/>
<path fill="#ffd700" d="M449.8,825.2 C450.8,822.8 456.2,819.8 458.5,819.5 C460.7,819.1 464.2,820.9 463.3,823.3 C462.3,825.7 454.9,833.6 452.7,833.9 C450.4,834.2 448.8,827.6 449.8,825.2Z"/>
<path fill="#ffff73" d="M414.1,859.9 C415.7,856.7 418.6,855.4 421.8,854.1 C425.1,852.9 429.6,853.2 433.4,852.2 C437.3,851.3 444.3,846.8 445.0,848.4 C445.6,850.0 439.8,858.3 437.3,861.8 C434.7,865.4 432.1,866.3 429.6,869.6 C427.0,872.8 424.4,876.6 421.8,881.1 C419.3,885.6 416.4,892.0 414.1,896.5 C411.9,901.0 410.9,904.9 408.4,908.1 C405.8,911.3 402.6,913.6 398.7,915.8 C394.9,918.0 388.8,919.0 385.2,921.6 C381.7,924.1 373.0,928.5 377.5,931.2 C382.0,933.9 406.4,924.8 412.2,937.8 C418.0,950.7 430.0,994.1 412.2,1008.9 C394.4,1023.7 325.7,1017.8 305.6,1026.7 C285.4,1035.6 295.5,1050.4 291.3,1062.2 C287.2,1074.1 284.8,1084.4 280.7,1097.8 C276.5,1111.1 274.4,1130.8 266.4,1142.2 C258.5,1153.7 239.3,1161.3 232.8,1166.6 C226.4,1171.8 229.9,1173.4 227.5,1173.7 C225.1,1174.0 222.5,1168.9 218.6,1168.4 C214.8,1167.8 208.3,1168.7 204.4,1170.1 C200.5,1171.6 197.9,1176.4 195.5,1177.2 C193.1,1178.1 190.8,1176.7 190.2,1175.5 C189.6,1174.3 190.5,1172.2 192.0,1170.1 C193.4,1168.1 197.6,1165.7 199.1,1163.0 C200.5,1160.4 201.4,1156.8 200.8,1154.1 C200.3,1151.5 198.2,1148.8 195.5,1147.0 C192.8,1145.2 188.4,1144.9 184.8,1143.5 C181.3,1142.0 177.7,1140.2 174.2,1138.1 C170.6,1136.1 166.2,1132.7 163.5,1131.0 C160.8,1129.3 160.4,1130.6 158.0,1128.0 C155.6,1125.4 152.1,1119.7 149.1,1115.6 C146.1,1111.4 142.6,1106.7 140.2,1103.1 C137.9,1099.6 135.5,1096.9 134.9,1094.2 C134.3,1091.6 135.2,1088.9 136.7,1087.1 C138.1,1085.3 142.0,1085.3 143.8,1083.6 C145.6,1081.8 147.3,1079.1 147.3,1076.4 C147.3,1073.8 144.7,1071.7 143.8,1067.6 C142.9,1063.4 141.7,1056.0 142.0,1051.6 C142.3,1047.1 143.2,1043.9 145.6,1040.9 C147.9,1037.9 152.4,1035.3 156.2,1033.8 C160.1,1032.3 163.9,1032.6 168.7,1032.0 C173.4,1031.4 180.2,1031.4 184.7,1030.2 C189.1,1029.0 192.4,1027.3 195.3,1024.9 C198.3,1022.5 200.1,1019.3 202.4,1016.0 C204.8,1012.7 206.6,1008.6 209.6,1005.3 C212.5,1002.1 216.1,999.1 220.2,996.4 C224.4,993.8 229.7,991.1 234.4,989.3 C239.2,987.6 244.8,985.8 248.7,985.8 C252.5,985.8 255.2,987.6 257.6,989.3 C259.9,991.1 260.8,994.4 262.9,996.4 C265.0,998.5 267.0,1000.6 270.0,1001.8 C273.0,1003.0 277.7,1003.9 280.7,1003.6 C283.6,1003.3 285.7,1002.1 287.8,1000.0 C289.9,997.9 292.2,994.1 293.1,991.1 C294.0,988.1 292.2,985.5 293.1,982.2 C294.0,979.0 295.8,974.5 298.4,971.6 C301.1,968.6 305.9,967.1 309.1,964.4 C312.4,961.8 315.9,959.1 318.0,955.6 C320.1,952.0 319.5,946.2 321.6,943.1 C323.6,940.0 327.2,938.4 330.4,936.9 C333.7,935.4 337.9,935.6 341.1,934.2 C344.4,932.9 348.1,929.4 350.0,928.9 C351.9,928.4 351.1,933.1 352.5,931.2 C353.9,929.4 356.3,921.9 358.3,917.7 C360.2,913.6 361.5,910.3 364.0,906.2 C366.6,902.0 371.1,896.2 373.7,892.7 C376.2,889.1 376.6,886.9 379.5,885.0 C382.4,883.0 387.2,881.8 391.0,881.1 C394.9,880.5 399.0,882.4 402.6,881.1 C406.1,879.8 410.3,876.9 412.2,873.4 C414.1,869.9 412.5,863.1 414.1,859.9Z"/>
<path fill="#ffff73" d="M262.0,971.6 C261.7,969.2 263.0,966.5 264.7,964.4 C266.3,962.4 269.1,960.1 271.8,959.1 C274.4,958.1 278.0,957.6 280.7,958.2 C283.3,958.8 286.2,960.7 287.8,962.7 C289.3,964.6 290.2,967.7 289.9,969.8 C289.6,971.9 288.1,973.6 286.0,975.1 C283.9,976.6 280.4,978.1 277.1,978.7 C273.9,979.3 269.0,979.9 266.4,978.7 C263.9,977.5 262.3,973.9 262.0,971.6Z"/>
<path fill="#ffff73" d="M309.1,940.1 C309.1,941.1 308.6,942.4 307.8,943.2 C307.0,944.1 305.7,944.8 304.4,945.2 C303.2,945.5 301.5,945.5 300.3,945.2 C299.0,944.8 297.7,944.1 296.9,943.2 C296.1,942.4 295.6,941.1 295.6,940.1 C295.6,939.0 296.1,937.8 296.9,937.0 C297.7,936.1 299.0,935.3 300.3,935.0 C301.5,934.7 303.2,934.7 304.4,935.0 C305.7,935.3 307.0,936.1 307.8,937.0 C308.6,937.8 309.1,939.0 309.1,940.1Z"/>
<path fill="#ffff73" d="M309.3,939.9 C309.3,940.9 308.8,942.2 308.0,943.1 C307.2,943.9 305.8,944.7 304.5,945.0 C303.2,945.3 301.5,945.3 300.2,945.0 C299.0,944.7 297.6,943.9 296.8,943.1 C296.0,942.2 295.5,940.9 295.5,939.9 C295.5,938.8 296.0,937.6 296.8,936.7 C297.6,935.9 299.0,935.1 300.2,934.8 C301.5,934.4 303.2,934.4 304.5,934.8 C305.8,935.1 307.2,935.9 308.0,936.7 C308.8,937.6 309.3,938.8 309.3,939.9Z"/>
<path fill="#64be00" d="M294.9,960.0 C295.0,957.8 296.7,955.6 298.4,953.8 C300.2,952.0 303.2,950.4 305.6,949.3 C307.9,948.3 311.2,947.0 312.7,947.6 C314.1,948.1 314.7,950.8 314.4,952.9 C314.1,955.0 312.7,958.1 310.9,960.0 C309.1,961.9 306.0,963.3 303.8,964.4 C301.6,965.6 299.0,967.9 297.6,967.1 C296.1,966.4 294.7,962.2 294.9,960.0Z"/>
<path fill="#64be00" d="M288.1,990.8 C288.1,992.2 287.6,994.0 286.8,995.1 C286.0,996.3 284.5,997.4 283.2,997.9 C281.9,998.3 280.1,998.3 278.8,997.9 C277.5,997.4 276.1,996.3 275.3,995.1 C274.5,994.0 273.9,992.2 273.9,990.8 C273.9,989.3 274.5,987.6 275.3,986.4 C276.1,985.2 277.5,984.1 278.8,983.7 C280.1,983.2 281.9,983.2 283.2,983.7 C284.5,984.1 286.0,985.2 286.8,986.4 C287.6,987.6 288.1,989.3 288.1,990.8Z"/>
<path fill="#aaeb1e" d="M270.9,1027.9 C270.9,1030.1 270.3,1032.6 269.4,1034.4 C268.5,1036.1 267.0,1037.7 265.6,1038.4 C264.2,1039.1 262.3,1039.1 260.9,1038.4 C259.5,1037.7 257.9,1036.1 257.1,1034.4 C256.2,1032.6 255.6,1030.1 255.6,1027.9 C255.6,1025.8 256.2,1023.2 257.1,1021.4 C257.9,1019.7 259.5,1018.1 260.9,1017.4 C262.3,1016.8 264.2,1016.8 265.6,1017.4 C267.0,1018.1 268.5,1019.7 269.4,1021.4 C270.3,1023.2 270.9,1025.8 270.9,1027.9Z"/>
<path fill="#ffd700" d="M369.8,911.9 C371.1,909.3 373.4,903.6 375.6,900.4 C377.9,897.2 380.7,894.0 383.3,892.7 C385.9,891.4 388.8,891.4 391.0,892.7 C393.3,894.0 396.2,897.2 396.8,900.4 C397.4,903.6 396.5,908.7 394.9,911.9 C393.3,915.2 389.1,917.1 387.2,919.7 C385.2,922.2 379.1,924.3 383.3,927.4 C387.5,930.4 407.4,924.2 412.2,937.8 C417.0,951.4 430.0,994.1 412.2,1008.9 C394.4,1023.7 325.7,1017.8 305.6,1026.7 C285.4,1035.6 295.5,1050.4 291.3,1062.2 C287.2,1074.1 284.8,1084.4 280.7,1097.8 C276.5,1111.1 270.3,1136.3 266.4,1142.2 C262.6,1148.1 259.9,1134.8 257.6,1133.3 C255.2,1131.9 254.3,1133.9 252.2,1133.3 C250.1,1132.7 247.5,1130.1 245.1,1129.8 C242.7,1129.5 241.6,1130.7 238.0,1131.6 C234.4,1132.4 228.5,1134.2 223.8,1135.1 C219.0,1136.0 214.3,1136.3 209.6,1136.9 C204.8,1137.5 200.7,1139.0 195.3,1138.7 C190.0,1138.4 182.9,1137.5 177.6,1135.1 C172.2,1132.7 166.9,1128.3 163.3,1124.4 C159.8,1120.6 158.3,1116.1 156.2,1112.0 C154.1,1107.9 152.7,1103.0 150.9,1099.6 C149.1,1096.1 145.6,1092.4 145.6,1091.6 C145.6,1090.7 148.5,1094.7 150.9,1094.2 C153.3,1093.8 158.0,1091.6 159.8,1088.9 C161.6,1086.2 162.1,1081.8 161.6,1078.2 C161.0,1074.7 156.8,1070.8 156.2,1067.6 C155.6,1064.3 156.8,1061.2 158.0,1058.7 C159.2,1056.1 160.4,1053.9 163.3,1052.4 C166.3,1051.0 171.6,1050.5 175.8,1049.8 C179.9,1049.0 184.4,1049.2 188.2,1048.0 C192.1,1046.8 195.3,1045.6 198.9,1042.7 C202.4,1039.7 206.6,1034.4 209.6,1030.2 C212.5,1026.1 214.3,1021.6 216.7,1017.8 C219.0,1013.9 221.1,1009.6 223.8,1007.1 C226.4,1004.6 229.7,1003.0 232.7,1002.7 C235.6,1002.4 239.2,1003.7 241.6,1005.3 C243.9,1007.0 245.7,1008.9 246.9,1012.4 C248.1,1016.0 247.8,1021.9 248.7,1026.7 C249.6,1031.4 252.2,1037.9 252.2,1040.9 C252.2,1043.9 249.0,1042.1 248.7,1044.4 C248.4,1046.8 249.0,1052.1 250.4,1055.1 C251.9,1058.1 254.9,1061.3 257.6,1062.2 C260.2,1063.1 263.5,1062.2 266.4,1060.4 C269.4,1058.7 274.4,1056.0 275.3,1051.6 C276.2,1047.1 272.1,1039.1 271.8,1033.8 C271.5,1028.4 272.7,1023.7 273.6,1019.6 C274.4,1015.4 274.7,1010.7 277.1,1008.9 C279.5,1007.1 284.8,1009.8 287.8,1008.9 C290.7,1008.0 293.4,1006.5 294.9,1003.6 C296.4,1000.6 296.1,995.3 296.7,991.1 C297.3,987.0 296.4,981.9 298.4,978.7 C300.5,975.4 305.6,973.9 309.1,971.6 C312.7,969.2 316.2,967.1 319.8,964.4 C323.3,961.8 327.5,958.5 330.4,955.6 C333.4,952.6 335.2,949.0 337.6,946.7 C339.9,944.3 341.7,943.4 344.7,941.3 C347.6,939.3 351.8,936.3 355.3,934.2 C358.9,932.1 363.9,931.9 366.0,928.9 C368.1,925.9 367.1,919.3 367.8,916.4 C368.4,913.6 368.5,914.6 369.8,911.9Z"/>
<path fill="#ffd700" d="M414.1,883.0 C415.4,880.5 419.6,877.6 419.9,879.2 C420.2,880.8 417.4,890.1 416.1,892.7 C414.8,895.2 412.5,896.2 412.2,894.6 C411.9,893.0 412.9,885.6 414.1,883.0Z"/>
<path fill="#ffff73" d="M221.1,1072.9 C221.7,1070.4 224.5,1067.7 227.3,1066.7 C230.1,1065.6 235.2,1065.6 238.0,1066.7 C240.8,1067.7 242.7,1070.7 244.2,1072.9 C245.7,1075.1 245.0,1078.2 246.9,1080.0 C248.8,1081.8 253.3,1081.8 255.8,1083.6 C258.3,1085.3 260.8,1088.0 262.0,1090.7 C263.2,1093.3 263.6,1097.2 262.9,1099.6 C262.1,1101.9 259.6,1104.3 257.6,1104.9 C255.5,1105.5 252.2,1104.6 250.4,1103.1 C248.7,1101.6 248.4,1098.4 246.9,1096.0 C245.4,1093.6 243.9,1090.7 241.6,1088.9 C239.2,1087.1 235.6,1086.5 232.7,1085.3 C229.7,1084.1 225.7,1083.9 223.8,1081.8 C221.9,1079.7 220.5,1075.4 221.1,1072.9Z"/>
<path fill="#ffff73" d="M212.2,1113.8 C212.8,1111.7 214.1,1108.4 216.7,1106.7 C219.2,1104.9 223.8,1104.0 227.3,1103.1 C230.9,1102.2 235.6,1100.7 238.0,1101.3 C240.4,1101.9 241.9,1104.3 241.9,1106.7 C241.9,1109.0 239.8,1113.2 238.0,1115.6 C236.2,1117.9 234.1,1119.9 230.9,1120.9 C227.6,1121.9 221.4,1122.1 218.4,1121.8 C215.5,1121.5 214.1,1120.4 213.1,1119.1 C212.1,1117.8 211.6,1115.9 212.2,1113.8Z"/>
<path fill="#aaeb1e" d="M230.0,1114.1 C230.0,1114.8 229.7,1115.5 229.2,1116.0 C228.6,1116.5 227.8,1117.0 226.9,1117.2 C226.1,1117.4 225.0,1117.4 224.2,1117.2 C223.4,1117.0 222.5,1116.5 222.0,1116.0 C221.4,1115.5 221.1,1114.8 221.1,1114.1 C221.1,1113.5 221.4,1112.8 222.0,1112.3 C222.5,1111.7 223.4,1111.3 224.2,1111.1 C225.0,1110.9 226.1,1110.9 226.9,1111.1 C227.8,1111.3 228.6,1111.7 229.2,1112.3 C229.7,1112.8 230.0,1113.5 230.0,1114.1Z"/>
<path fill="#ffff73" d="M206.0,1066.8 C206.0,1067.5 205.8,1068.2 205.4,1068.7 C205.0,1069.2 204.4,1069.7 203.8,1069.9 C203.2,1070.1 202.4,1070.1 201.8,1069.9 C201.2,1069.7 200.6,1069.2 200.2,1068.7 C199.8,1068.2 199.6,1067.5 199.6,1066.8 C199.6,1066.2 199.8,1065.5 200.2,1065.0 C200.6,1064.5 201.2,1064.0 201.8,1063.8 C202.4,1063.6 203.2,1063.6 203.8,1063.8 C204.4,1064.0 205.0,1064.5 205.4,1065.0 C205.8,1065.5 206.0,1066.2 206.0,1066.8Z"/>
<path fill="#ffff73" d="M248.7,1113.8 C249.6,1112.6 255.5,1111.4 257.6,1112.0 C259.6,1112.6 262.0,1116.1 261.1,1117.3 C260.2,1118.5 254.3,1119.7 252.2,1119.1 C250.1,1118.5 247.8,1115.0 248.7,1113.8Z"/>
<path fill="#ffff73" d="M320.7,979.6 C321.3,978.2 324.1,976.4 326.0,976.0 C327.9,975.6 331.8,975.9 332.2,976.9 C332.7,977.9 330.3,981.0 328.7,982.2 C327.0,983.4 323.8,984.4 322.4,984.0 C321.1,983.6 320.1,980.9 320.7,979.6Z"/>
<path fill="#ffff73" d="M376.7,973.3 C377.4,971.9 379.0,971.0 382.0,970.7 C385.0,970.4 391.2,970.5 394.4,971.6 C397.7,972.6 401.6,974.6 401.6,976.9 C401.6,979.2 397.4,984.0 394.4,985.4 C391.5,986.8 386.6,986.4 383.8,985.4 C381.0,984.4 378.7,981.6 377.6,979.6 C376.4,977.5 375.9,974.8 376.7,973.3Z"/>
<path fill="#ff9600" d="M209.6,1040.9 C209.6,1038.2 212.5,1033.5 214.9,1030.2 C217.3,1027.0 220.5,1023.6 223.8,1021.3 C227.0,1019.1 231.6,1016.6 234.4,1016.9 C237.3,1017.2 239.8,1020.0 240.7,1023.1 C241.6,1026.2 240.1,1031.4 239.8,1035.6 C239.5,1039.7 240.1,1045.0 238.9,1048.0 C237.7,1051.0 235.2,1052.7 232.7,1053.3 C230.1,1053.9 226.7,1052.7 223.8,1051.6 C220.8,1050.4 217.3,1048.0 214.9,1046.2 C212.5,1044.4 209.6,1043.6 209.6,1040.9Z"/>
<path fill="#ff9600" d="M165.1,1097.8 C165.6,1093.3 166.9,1084.1 168.7,1080.0 C170.4,1075.9 173.4,1075.0 175.8,1072.9 C178.1,1070.8 180.8,1067.3 182.9,1067.6 C185.0,1067.9 186.1,1072.6 188.2,1074.7 C190.3,1076.7 192.8,1079.1 195.3,1080.0 C197.9,1080.9 203.0,1079.1 203.3,1080.0 C203.6,1080.9 198.3,1082.7 197.1,1085.3 C195.9,1088.0 195.5,1093.0 196.2,1096.0 C197.0,1099.0 201.4,1100.4 201.6,1103.1 C201.7,1105.8 199.3,1109.6 197.1,1112.0 C194.9,1114.4 191.5,1115.6 188.2,1117.3 C185.0,1119.1 180.5,1123.0 177.6,1122.7 C174.6,1122.4 172.4,1118.2 170.4,1115.6 C168.5,1112.9 166.9,1109.6 166.0,1106.7 C165.1,1103.7 164.7,1102.2 165.1,1097.8Z"/>
<path fill="#ff9600" d="M210.4,1090.7 C210.6,1088.4 212.7,1087.3 214.9,1087.1 C217.1,1087.0 221.6,1088.6 223.8,1089.8 C226.0,1091.0 228.5,1092.7 228.2,1094.2 C227.9,1095.7 224.4,1097.6 222.0,1098.7 C219.6,1099.7 215.9,1101.8 214.0,1100.4 C212.1,1099.1 210.3,1092.9 210.4,1090.7Z"/>
<path fill="#ff9600" d="M368.7,948.4 C369.0,946.1 371.5,941.9 373.1,941.3 C374.7,940.7 377.6,941.5 378.4,944.9 C379.3,948.3 379.6,960.0 378.4,961.8 C377.3,963.6 373.0,957.8 371.3,955.6 C369.7,953.3 368.4,950.8 368.7,948.4Z"/>
<path fill="#ff9600" d="M317.1,996.4 C317.3,994.9 318.6,992.5 320.7,992.0 C322.7,991.5 329.7,991.7 329.6,993.2 C329.4,994.8 321.9,1000.9 319.8,1001.4 C317.7,1002.0 317.0,998.0 317.1,996.4Z"/>
<path fill="#ff9600" d="M369.8,946.6 C370.8,943.4 374.2,938.6 375.6,940.8 C377.1,943.1 379.5,956.9 378.5,960.1 C377.5,963.3 371.3,962.4 369.8,960.1 C368.4,957.9 368.9,949.8 369.8,946.6Z"/>
<path fill="#64be00" d="M132.4,1166.7 C133.3,1164.7 135.9,1163.7 138.7,1164.0 C141.5,1164.3 145.8,1167.4 149.3,1168.4 C152.9,1169.5 157.0,1170.2 160.0,1170.2 C163.0,1170.2 165.0,1167.9 167.1,1168.4 C169.2,1169.0 169.8,1172.0 172.4,1173.8 C175.1,1175.6 179.3,1177.0 183.1,1179.1 C187.0,1181.2 192.9,1183.6 195.6,1186.2 C198.2,1188.9 196.4,1192.7 199.1,1195.1 C201.8,1197.5 210.7,1198.1 211.6,1200.4 C212.4,1202.8 208.6,1205.8 204.4,1209.3 C200.3,1212.9 194.1,1219.1 186.7,1221.8 C179.3,1224.4 165.0,1226.2 160.0,1225.3 C155.0,1224.4 157.9,1218.5 156.4,1216.4 C155.0,1214.4 152.6,1215.3 151.1,1212.9 C149.6,1210.5 148.1,1205.5 147.6,1202.2 C147.0,1199.0 149.0,1194.8 147.6,1193.3 C146.1,1191.9 140.4,1195.1 138.7,1193.3 C136.9,1191.6 137.8,1185.6 136.9,1182.7 C136.0,1179.7 134.1,1178.2 133.3,1175.6 C132.6,1172.9 131.6,1168.6 132.4,1166.7Z"/>
<path fill="#64be00" d="M187.2,1158.7 C187.2,1159.4 186.7,1160.3 185.9,1161.0 C185.1,1161.6 183.8,1162.1 182.5,1162.4 C181.3,1162.6 179.6,1162.6 178.4,1162.4 C177.1,1162.1 175.8,1161.6 175.0,1161.0 C174.2,1160.3 173.7,1159.4 173.7,1158.7 C173.7,1157.9 174.2,1157.0 175.0,1156.4 C175.8,1155.7 177.1,1155.2 178.4,1154.9 C179.6,1154.7 181.3,1154.7 182.5,1154.9 C183.8,1155.2 185.1,1155.7 185.9,1156.4 C186.7,1157.0 187.2,1157.9 187.2,1158.7Z"/>
<path fill="#64be00" d="M117.3,1195.1 C118.2,1193.6 123.7,1193.0 126.2,1193.3 C128.7,1193.6 131.9,1195.4 132.4,1196.9 C133.0,1198.4 131.1,1200.1 129.8,1202.2 C128.4,1204.3 125.9,1209.3 124.4,1209.3 C123.0,1209.3 122.1,1204.6 120.9,1202.2 C119.7,1199.9 116.4,1196.6 117.3,1195.1Z"/>
<path fill="#009600" d="M124.1,1117.2 C124.1,1119.4 123.3,1122.0 122.1,1123.7 C120.8,1125.5 118.7,1127.1 116.7,1127.7 C114.7,1128.4 112.1,1128.4 110.1,1127.7 C108.1,1127.1 106.0,1125.5 104.8,1123.7 C103.6,1122.0 102.8,1119.4 102.8,1117.2 C102.8,1115.1 103.6,1112.5 104.8,1110.8 C106.0,1109.0 108.1,1107.4 110.1,1106.8 C112.1,1106.1 114.7,1106.1 116.7,1106.8 C118.7,1107.4 120.8,1109.0 122.1,1110.8 C123.3,1112.5 124.1,1115.1 124.1,1117.2Z"/>
<path fill="#009600" d="M164.4,1204.0 C165.0,1201.6 168.4,1198.7 170.7,1196.9 C172.9,1195.1 175.7,1193.3 177.8,1193.3 C179.9,1193.3 181.8,1194.8 183.1,1196.9 C184.4,1199.0 184.3,1203.7 185.8,1205.8 C187.3,1207.9 192.1,1207.9 192.0,1209.3 C191.9,1210.8 187.9,1213.5 184.9,1214.7 C181.9,1215.9 177.2,1217.0 174.2,1216.4 C171.3,1215.9 168.7,1213.2 167.1,1211.1 C165.5,1209.0 163.9,1206.4 164.4,1204.0Z"/>
<path fill="#aaeb1e" d="M83.6,1106.2 C83.9,1103.7 84.1,1101.2 85.3,1100.0 C86.5,1098.8 89.2,1098.4 90.7,1099.1 C92.1,1099.9 93.3,1101.5 94.2,1104.4 C95.1,1107.4 95.4,1112.7 96.0,1116.9 C96.6,1121.0 98.1,1126.2 97.8,1129.3 C97.5,1132.4 95.9,1134.7 94.2,1135.6 C92.6,1136.4 89.5,1136.3 88.0,1134.7 C86.5,1133.0 86.1,1129.0 85.3,1125.8 C84.6,1122.5 83.9,1118.4 83.6,1115.1 C83.3,1111.9 83.3,1108.7 83.6,1106.2Z"/>
<path fill="#aaeb1e" d="M147.6,1189.8 C147.6,1187.7 149.6,1184.6 151.1,1182.7 C152.6,1180.7 155.1,1178.2 156.4,1178.2 C157.8,1178.2 159.4,1180.7 159.1,1182.7 C158.8,1184.6 156.0,1187.7 154.7,1189.8 C153.3,1191.9 152.3,1195.1 151.1,1195.1 C149.9,1195.1 147.6,1191.9 147.6,1189.8Z"/>
<path fill="#ffff73" d="M129.1,1156.4 C129.1,1157.7 128.6,1159.3 127.8,1160.3 C127.0,1161.4 125.7,1162.4 124.4,1162.8 C123.1,1163.2 121.5,1163.2 120.2,1162.8 C119.0,1162.4 117.6,1161.4 116.8,1160.3 C116.1,1159.3 115.6,1157.7 115.6,1156.4 C115.6,1155.0 116.1,1153.5 116.8,1152.4 C117.6,1151.3 119.0,1150.3 120.2,1149.9 C121.5,1149.5 123.1,1149.5 124.4,1149.9 C125.7,1150.3 127.0,1151.3 127.8,1152.4 C128.6,1153.5 129.1,1155.0 129.1,1156.4Z"/>
<path fill="#ffff73" d="M141.3,1150.7 C141.3,1148.4 143.6,1145.6 145.8,1144.4 C148.0,1143.3 152.0,1143.1 154.7,1143.6 C157.3,1144.0 160.0,1145.3 161.8,1147.1 C163.6,1148.9 165.3,1151.9 165.3,1154.2 C165.3,1156.6 163.9,1160.0 161.8,1161.3 C159.7,1162.7 155.6,1162.8 152.9,1162.2 C150.2,1161.6 147.7,1159.7 145.8,1157.8 C143.9,1155.9 141.3,1152.9 141.3,1150.7Z"/>
<path fill="#aaeb1e" d="M226.8,1154.2 C226.8,1155.9 226.1,1157.9 224.9,1159.2 C223.7,1160.6 221.6,1161.8 219.7,1162.3 C217.8,1162.9 215.3,1162.9 213.3,1162.3 C211.4,1161.8 209.4,1160.6 208.2,1159.2 C207.0,1157.9 206.2,1155.9 206.2,1154.2 C206.2,1152.6 207.0,1150.6 208.2,1149.2 C209.4,1147.9 211.4,1146.6 213.3,1146.1 C215.3,1145.6 217.8,1145.6 219.7,1146.1 C221.6,1146.6 223.7,1147.9 224.9,1149.2 C226.1,1150.6 226.8,1152.6 226.8,1154.2Z"/>
<path fill="#aaeb1e" d="M253.3,1144.4 C253.3,1145.7 252.9,1147.1 252.1,1148.1 C251.4,1149.1 250.2,1150.0 249.0,1150.4 C247.9,1150.7 246.3,1150.7 245.2,1150.4 C244.0,1150.0 242.8,1149.1 242.1,1148.1 C241.4,1147.1 240.9,1145.7 240.9,1144.4 C240.9,1143.2 241.4,1141.8 242.1,1140.8 C242.8,1139.8 244.0,1138.9 245.2,1138.5 C246.3,1138.2 247.9,1138.2 249.0,1138.5 C250.2,1138.9 251.4,1139.8 252.1,1140.8 C252.9,1141.8 253.3,1143.2 253.3,1144.4Z"/>
<path fill="#64be00" d="M251.0,1145.7 C251.0,1146.1 250.9,1146.6 250.6,1146.9 C250.4,1147.3 249.9,1147.6 249.5,1147.7 C249.2,1147.8 248.6,1147.8 248.2,1147.7 C247.8,1147.6 247.4,1147.3 247.2,1146.9 C246.9,1146.6 246.8,1146.1 246.8,1145.7 C246.8,1145.3 246.9,1144.8 247.2,1144.4 C247.4,1144.1 247.8,1143.8 248.2,1143.7 C248.6,1143.5 249.2,1143.5 249.5,1143.7 C249.9,1143.8 250.4,1144.1 250.6,1144.4 C250.9,1144.8 251.0,1145.3 251.0,1145.7Z"/>
<path fill="#ffd700" d="M229.3,1159.6 C229.9,1157.5 234.4,1154.8 236.4,1154.2 C238.5,1153.6 242.4,1153.9 241.8,1156.0 C241.2,1158.1 235.0,1166.1 232.9,1166.7 C230.8,1167.3 228.7,1161.6 229.3,1159.6Z"/>
<path fill="#64be00" d="M85.3,1220.0 L128.0,1220.0 L128.0,1282.2 L71.1,1282.2Z"/>
<path fill="#009600" d="M115.9,1245.8 C115.9,1247.4 115.2,1249.4 114.1,1250.8 C113.1,1252.1 111.2,1253.4 109.5,1253.9 C107.8,1254.4 105.5,1254.4 103.8,1253.9 C102.1,1253.4 100.3,1252.1 99.2,1250.8 C98.1,1249.4 97.4,1247.4 97.4,1245.8 C97.4,1244.1 98.1,1242.1 99.2,1240.8 C100.3,1239.4 102.1,1238.2 103.8,1237.7 C105.5,1237.1 107.8,1237.1 109.5,1237.7 C111.2,1238.2 113.1,1239.4 114.1,1240.8 C115.2,1242.1 115.9,1244.1 115.9,1245.8Z"/>
</g>
<path fill="#fff" stroke="#6e6e6e" d="M494.2,421.3 L499.1,419.1 L504.4,415.6 L508.0,413.8 L513.3,414.7 L516.0,418.2 L517.8,422.7 L521.3,425.3 L520.4,428.0 L515.1,428.0 L511.6,426.2 L508.0,428.0 L504.4,429.8 L503.6,434.2 L501.8,428.9 L499.1,425.3 L495.6,423.1Z"/><path fill="#fff" stroke="#6e6e6e" d="M511.1,402.2 L515.1,401.3 L521.3,403.6 L525.8,406.7 L531.1,408.0 L535.6,409.8 L533.8,412.2 L527.6,411.6 L522.2,410.2 L516.9,408.0 L512.4,405.8Z"/><path fill="#fff" stroke="#6e6e6e" d="M455.4,727.8 L456.9,731.3 L461.5,737.6 L457.9,740.8 L454.4,738.4 L450.8,738.4 L452.0,733.7Z"/><path fill="#fff" stroke="#6e6e6e" d="M462.8,738.7 L465.0,742.3 L470.4,746.7 L465.6,745.6 L461.8,743.2Z"/><path fill="#fff" stroke="#6e6e6e" d="M475.2,748.6 L479.3,753.9 L480.0,755.7 L474.6,752.8Z"/><path fill="#fff" stroke="#6e6e6e" d="M409.1,247.8 L412.0,243.9 L415.9,244.9 L416.8,249.7 L413.0,253.6 L409.1,251.7Z"/><path fill="#fff" stroke="#6e6e6e" d="M486.2,318.1 L492.9,317.2 L497.8,322.9 L492.9,322.9Z"/><path fill="#fff" stroke="#6e6e6e" d="M588.2,464.9 L590.9,464.0 L595.3,471.1 L592.7,472.9Z"/><path fill="#fff" stroke="#6e6e6e" d="M506.2,769.8 L508.9,767.1 L511.6,769.8 L510.7,774.2 L507.1,775.1Z"/><path fill="#fff" stroke="#6e6e6e" d="M530.9,351.8 L534.4,350.5 L535.3,353.8 L532.4,356.1Z"/><path fill="#fff" stroke="#6e6e6e" d="M512.1,502.2 L514.4,500.4 L515.3,504.9 L513.2,506.3Z"/>
<use href="#grey"/><use href="#wd"/><use href="#fj"/>
<use href="#coast"/>
</g>
<g transform="translate(755,0)">
<g clip-path="url(#land)">
<rect x="0" y="150" width="800" height="1150" fill="#aaeb1e"/>
<path fill="#ffd700" d="M360.0,190.0 L533.4,190.0 L533.4,363.4 L545.0,375.0 L545.0,459.7 L475.6,459.7 L456.3,363.4 L360.0,247.8Z"/>
<path fill="#ff9600" d="M367.7,201.6 C370.9,198.3 393.9,196.7 398.5,199.6 C403.2,202.5 397.3,214.6 395.6,218.9 C394.0,223.2 391.6,225.6 388.9,225.6 C386.2,225.6 382.8,222.9 379.3,218.9 C375.7,214.9 364.5,204.8 367.7,201.6Z"/>
<path fill="#ff9600" d="M390.8,233.4 C390.3,229.8 396.0,229.3 398.5,230.5 C401.1,231.6 403.4,237.8 406.2,240.1 C409.1,242.3 413.9,242.3 415.9,243.9 C417.8,245.6 418.6,247.8 417.8,249.7 C417.0,251.7 413.1,253.7 411.1,255.5 C409.0,257.3 406.9,261.0 405.3,260.3 C403.7,259.7 403.8,256.2 401.4,251.7 C399.0,247.2 391.3,236.9 390.8,233.4Z"/>
<path fill="#ff9600" d="M431.3,247.8 C432.1,246.4 437.6,247.3 439.0,248.8 C440.4,250.2 440.8,255.0 440.0,256.5 C439.2,257.9 435.6,258.9 434.2,257.4 C432.7,256.0 430.5,249.2 431.3,247.8Z"/>
<path fill="#ff9600" d="M446.7,253.6 C447.8,252.7 453.0,252.0 454.4,252.6 C455.9,253.3 456.5,256.6 455.4,257.4 C454.3,258.3 449.1,258.5 447.7,257.8 C446.2,257.2 445.6,254.5 446.7,253.6Z"/>
<path fill="#ff9600" d="M410.5,284.4 C410.6,283.0 413.7,281.8 414.9,282.5 C416.1,283.1 418.0,286.8 417.8,288.3 C417.6,289.7 415.2,291.8 413.9,291.2 C412.7,290.5 410.3,285.9 410.5,284.4Z"/>
<path fill="#ff9600" d="M440.0,322.9 C439.3,321.0 444.3,323.3 446.7,324.9 C449.1,326.5 452.2,329.7 454.4,332.6 C456.7,335.5 458.3,339.3 460.2,342.2 C462.1,345.1 463.7,347.0 466.0,349.9 C468.2,352.8 472.6,356.7 473.7,359.6 C474.8,362.4 474.6,366.0 472.7,367.3 C470.8,368.5 464.5,370.2 462.1,367.3 C459.7,364.4 460.2,355.1 458.3,349.9 C456.3,344.8 453.6,340.9 450.6,336.4 C447.5,331.9 440.6,324.9 440.0,322.9Z"/>
<path fill="#ff9600" d="M470.8,371.1 C470.5,369.0 473.5,368.2 475.6,370.2 C477.7,372.1 481.4,381.9 483.3,382.7 C485.2,383.5 486.2,378.2 487.2,375.0 C488.1,371.8 487.8,365.7 489.1,363.4 C490.4,361.2 492.9,361.2 494.9,361.5 C496.8,361.8 499.0,363.4 500.7,365.3 C502.3,367.3 503.5,370.2 504.5,373.0 C505.5,375.9 505.8,379.5 506.4,382.7 C507.1,385.9 507.4,389.4 508.4,392.3 C509.3,395.2 510.8,397.5 512.2,400.0 C513.7,402.6 517.0,405.8 517.0,407.7 C517.0,409.7 514.3,411.3 512.2,411.6 C510.1,411.9 506.8,411.6 504.5,409.7 C502.3,407.7 500.7,401.3 498.7,400.0 C496.8,398.7 494.9,402.3 492.9,401.9 C491.0,401.6 488.8,400.0 487.2,398.1 C485.6,396.2 484.9,393.0 483.3,390.4 C481.7,387.8 479.6,385.9 477.5,382.7 C475.4,379.5 471.1,373.2 470.8,371.1Z"/>
<path fill="#e13c00" d="M479.5,384.6 C479.9,383.3 483.6,382.7 485.2,382.7 C486.8,382.7 487.8,384.9 489.1,384.6 C490.4,384.3 492.5,382.4 492.9,380.8 C493.4,379.1 491.6,374.6 492.0,375.0 C492.4,375.3 495.0,380.4 495.3,382.7 C495.5,384.9 494.7,386.7 493.3,388.5 C492.0,390.2 489.0,393.0 487.2,393.3 C485.3,393.6 483.6,391.8 482.4,390.4 C481.1,388.9 479.0,385.9 479.5,384.6Z"/>
<path fill="#ff9600" d="M494.9,421.2 C495.5,419.3 501.0,419.6 502.6,421.2 C504.2,422.8 504.5,428.0 504.5,430.8 C504.5,433.7 503.5,438.2 502.6,438.6 C501.6,438.9 500.0,435.7 498.7,432.8 C497.4,429.9 494.2,423.1 494.9,421.2Z"/>
<path fill="#ff9600" d="M563.5,439.5 C563.5,440.5 563.2,441.6 562.9,442.3 C562.5,443.1 561.9,443.8 561.3,444.1 C560.8,444.4 560.0,444.4 559.4,444.1 C558.9,443.8 558.2,443.1 557.9,442.3 C557.5,441.6 557.3,440.5 557.3,439.5 C557.3,438.6 557.5,437.5 557.9,436.7 C558.2,435.9 558.9,435.2 559.4,434.9 C560.0,434.6 560.8,434.6 561.3,434.9 C561.9,435.2 562.5,435.9 562.9,436.7 C563.2,437.5 563.5,438.6 563.5,439.5Z"/>
<path fill="#ffff73" d="M413.0,270.9 C412.7,268.7 414.4,263.9 415.9,261.3 C417.3,258.7 419.7,256.2 421.7,255.5 C423.6,254.9 426.3,255.8 427.4,257.4 C428.6,259.0 429.0,262.7 428.4,265.1 C427.8,267.6 425.4,270.3 423.6,271.9 C421.8,273.5 419.6,274.9 417.8,274.8 C416.0,274.6 413.3,273.2 413.0,270.9Z"/>
<path fill="#ffff73" d="M450.4,269.6 C450.4,270.4 450.0,271.4 449.6,272.1 C449.1,272.7 448.2,273.4 447.4,273.6 C446.6,273.9 445.6,273.9 444.8,273.6 C444.0,273.4 443.2,272.7 442.7,272.1 C442.2,271.4 441.9,270.4 441.9,269.6 C441.9,268.7 442.2,267.8 442.7,267.1 C443.2,266.4 444.0,265.8 444.8,265.5 C445.6,265.3 446.6,265.3 447.4,265.5 C448.2,265.8 449.1,266.4 449.6,267.1 C450.0,267.8 450.4,268.7 450.4,269.6Z"/>
<path fill="#ffff73" d="M421.7,297.9 C422.0,295.7 424.9,293.1 427.4,292.1 C430.0,291.2 434.2,290.8 437.1,292.1 C440.0,293.4 443.3,297.3 444.8,299.8 C446.2,302.4 446.4,305.4 445.7,307.5 C445.1,309.6 443.0,311.9 440.9,312.4 C438.8,312.8 435.8,311.5 433.2,310.4 C430.6,309.3 427.4,307.7 425.5,305.6 C423.6,303.5 421.3,300.1 421.7,297.9Z"/>
<path fill="#ffff73" d="M465.0,322.9 C465.0,318.6 466.8,311.1 467.9,305.6 C469.0,300.1 470.1,294.0 471.8,290.2 C473.4,286.3 475.3,283.8 477.5,282.5 C479.8,281.2 482.7,280.6 485.2,282.5 C487.8,284.4 490.9,290.2 492.9,294.0 C495.0,297.9 496.5,300.8 497.8,305.6 C499.0,310.4 501.5,319.1 500.7,322.9 C499.9,326.8 494.2,326.2 492.9,328.7 C491.7,331.3 494.2,336.4 492.9,338.4 C491.7,340.3 488.1,340.4 485.2,340.3 C482.4,340.1 478.5,338.8 475.6,337.4 C472.7,336.0 469.7,334.0 467.9,331.6 C466.1,329.2 465.0,327.3 465.0,322.9Z"/>
<path fill="#aaeb1e" d="M492.9,308.9 C492.9,309.3 492.8,309.9 492.6,310.2 C492.4,310.6 492.0,310.9 491.6,311.1 C491.3,311.2 490.8,311.2 490.4,311.1 C490.1,310.9 489.7,310.6 489.5,310.2 C489.2,309.9 489.1,309.3 489.1,308.9 C489.1,308.4 489.2,307.9 489.5,307.5 C489.7,307.2 490.1,306.8 490.4,306.7 C490.8,306.5 491.3,306.5 491.6,306.7 C492.0,306.8 492.4,307.2 492.6,307.5 C492.8,307.9 492.9,308.4 492.9,308.9Z"/>
<path fill="#aaeb1e" d="M490.1,329.7 C490.1,330.3 489.8,330.9 489.4,331.4 C489.0,331.8 488.3,332.3 487.7,332.4 C487.0,332.6 486.2,332.6 485.5,332.4 C484.9,332.3 484.2,331.8 483.8,331.4 C483.4,330.9 483.1,330.3 483.1,329.7 C483.1,329.1 483.4,328.5 483.8,328.0 C484.2,327.5 484.9,327.1 485.5,326.9 C486.2,326.8 487.0,326.8 487.7,326.9 C488.3,327.1 489.0,327.5 489.4,328.0 C489.8,328.5 490.1,329.1 490.1,329.7Z"/>
<path fill="#ffff73" d="M492.0,409.7 C492.6,408.4 495.2,407.1 496.8,407.7 C498.4,408.4 501.6,411.7 501.6,413.5 C501.6,415.3 498.2,418.0 496.8,418.3 C495.4,418.6 493.8,416.9 492.9,415.4 C492.1,414.0 491.3,410.9 492.0,409.7Z"/>
<path fill="#aaeb1e" d="M488.7,453.3 L590.0,453.3 L767.8,453.3 L767.8,648.9 L430.0,648.9 L430.0,560.0Z"/>
<path fill="#aaeb1e" d="M554.4,391.1 L590.0,391.1 L590.0,456.9 L554.4,456.9Z"/>
<path fill="#ffff73" d="M554.4,435.6 C555.8,435.3 560.4,435.3 562.4,433.8 C564.5,432.3 565.3,426.4 566.9,426.7 C568.5,427.0 571.2,431.1 572.2,435.6 C573.3,440.0 572.8,447.4 573.1,453.3 C573.4,459.3 574.1,465.8 574.0,471.1 C573.9,476.4 572.8,481.2 572.2,485.3 C571.6,489.5 571.3,492.4 570.4,496.0 C569.6,499.6 568.4,503.7 566.9,506.7 C565.4,509.6 563.6,511.7 561.6,513.8 C559.5,515.9 557.1,518.2 554.4,519.1 C551.8,520.0 547.9,520.0 545.6,519.1 C543.2,518.2 541.4,516.7 540.2,513.8 C539.0,510.8 539.3,505.5 538.4,501.3 C537.6,497.2 536.4,492.7 534.9,488.9 C533.4,485.0 531.6,481.2 529.6,478.2 C527.5,475.3 524.8,472.6 522.4,471.1 C520.1,469.6 517.4,471.1 515.3,469.3 C513.3,467.6 511.5,463.7 510.0,460.4 C508.5,457.2 508.2,453.9 506.4,449.8 C504.7,445.6 501.7,440.3 499.3,435.6 C497.0,430.8 493.4,423.7 492.2,421.3 L486.9,403.6 L554.4,403.6Z"/>
<path fill="#ffd700" d="M554.4,435.6 C555.8,435.3 560.2,432.9 562.4,433.8 C564.7,434.7 566.6,437.0 567.8,440.9 C569.0,444.7 569.1,451.3 569.6,456.9 C570.0,462.5 570.6,469.3 570.4,474.7 C570.3,480.0 569.9,484.7 568.7,488.9 C567.5,493.0 564.8,496.0 563.3,499.6 C561.9,503.1 561.6,507.6 559.8,510.2 C558.0,512.9 554.7,515.0 552.7,515.6 C550.6,516.1 548.5,515.9 547.3,513.8 C546.1,511.7 545.9,506.7 545.6,503.1 C545.3,499.6 546.1,496.3 545.6,492.4 C545.0,488.6 543.5,483.6 542.0,480.0 C540.5,476.4 538.7,474.1 536.7,471.1 C534.6,468.1 531.3,465.2 529.6,462.2 C527.8,459.3 527.5,456.6 526.0,453.3 C524.5,450.1 522.7,445.8 520.7,442.7 C518.6,439.6 515.6,435.9 513.6,434.7 C511.5,433.5 509.7,436.3 508.2,435.6 C506.7,434.8 506.1,433.2 504.7,430.2 C503.2,427.3 500.2,419.9 499.3,417.8 L497.6,403.6 L554.4,403.6Z"/>
<path fill="#ffff73" d="M524.2,430.2 C523.9,428.0 524.5,423.6 526.0,421.3 C527.5,419.1 530.6,417.5 533.1,416.9 C535.6,416.3 539.2,416.4 541.1,417.8 C543.0,419.1 544.5,422.5 544.7,424.9 C544.8,427.3 543.6,430.2 542.0,432.0 C540.4,433.8 537.3,435.1 534.9,435.6 C532.5,436.0 529.6,435.6 527.8,434.7 C526.0,433.8 524.5,432.4 524.2,430.2Z"/>
<path fill="#aaeb1e" d="M527.8,428.4 C527.0,427.0 529.0,423.7 530.4,422.2 C531.9,420.7 534.7,419.4 536.7,419.6 C538.6,419.7 541.3,421.5 542.0,423.1 C542.7,424.7 542.3,428.0 541.1,429.3 C539.9,430.7 537.1,431.3 534.9,431.1 C532.7,431.0 528.5,429.9 527.8,428.4Z"/>
<path fill="#ff9600" d="M563.7,439.5 C563.7,440.3 563.5,441.4 563.2,442.1 C562.9,442.8 562.4,443.4 562.0,443.7 C561.5,444.0 560.9,444.0 560.4,443.7 C560.0,443.4 559.5,442.8 559.2,442.1 C558.9,441.4 558.7,440.3 558.7,439.5 C558.7,438.6 558.9,437.6 559.2,436.9 C559.5,436.1 560.0,435.5 560.4,435.2 C560.9,435.0 561.5,435.0 562.0,435.2 C562.4,435.5 562.9,436.1 563.2,436.9 C563.5,437.6 563.7,438.6 563.7,439.5Z"/>
<path fill="#ff9600" d="M563.5,466.7 C563.5,467.3 563.4,468.0 563.1,468.5 C562.9,469.1 562.5,469.5 562.2,469.7 C561.8,469.9 561.3,469.9 561.0,469.7 C560.6,469.5 560.2,469.1 560.0,468.5 C559.7,468.0 559.6,467.3 559.6,466.7 C559.6,466.0 559.7,465.3 560.0,464.8 C560.2,464.3 560.6,463.8 561.0,463.6 C561.3,463.4 561.8,463.4 562.2,463.6 C562.5,463.8 562.9,464.3 563.1,464.8 C563.4,465.3 563.5,466.0 563.5,466.7Z"/>
<path fill="#ff9600" d="M552.7,488.9 C552.7,486.8 553.4,482.1 554.4,480.0 C555.5,477.9 557.7,476.7 558.9,476.4 C560.1,476.1 561.6,476.7 561.6,478.2 C561.6,479.7 559.5,483.0 558.9,485.3 C558.3,487.7 558.7,491.3 558.0,492.4 C557.3,493.6 555.3,493.0 554.4,492.4 C553.6,491.9 552.7,491.0 552.7,488.9Z"/>
<path fill="#ff9600" d="M494.9,421.3 C495.3,419.9 499.5,418.1 501.1,419.6 C502.7,421.0 504.3,427.4 504.7,430.2 C505.0,433.0 504.3,436.7 503.2,436.4 C502.2,436.1 499.8,431.0 498.4,428.4 C497.1,425.9 494.4,422.8 494.9,421.3Z"/>
<path fill="#ff9600" d="M490.4,400.0 C491.6,398.8 500.5,398.8 504.7,400.0 C508.8,401.2 513.9,404.7 515.3,407.1 C516.8,409.5 515.0,413.6 513.6,414.2 C512.1,414.8 509.1,411.9 506.4,410.7 C503.8,409.5 500.2,408.9 497.6,407.1 C494.9,405.3 489.3,401.2 490.4,400.0Z"/>
<path fill="#ff9600" d="M524.2,408.9 C526.0,407.7 534.3,406.5 536.7,407.1 C539.0,407.7 540.2,411.3 538.4,412.4 C536.7,413.6 528.4,414.8 526.0,414.2 C523.6,413.6 522.4,410.1 524.2,408.9Z"/>
<path fill="#ffff73" d="M552.0,456.5 C552.0,456.8 551.8,457.1 551.7,457.4 C551.5,457.6 551.2,457.8 551.0,457.9 C550.7,458.0 550.4,458.0 550.1,457.9 C549.8,457.8 549.5,457.6 549.4,457.4 C549.2,457.1 549.1,456.8 549.1,456.5 C549.1,456.3 549.2,455.9 549.4,455.7 C549.5,455.5 549.8,455.3 550.1,455.2 C550.4,455.1 550.7,455.1 551.0,455.2 C551.2,455.3 551.5,455.5 551.7,455.7 C551.8,455.9 552.0,456.3 552.0,456.5Z"/>
<path fill="#64be00" d="M547.9,375.0 C548.0,372.6 551.9,372.1 554.6,374.0 C557.3,375.9 561.3,382.8 564.2,386.5 C567.1,390.2 570.0,393.6 571.9,396.2 C573.9,398.7 576.4,399.4 575.8,401.9 C575.2,404.5 570.7,410.3 568.1,411.6 C565.5,412.9 562.5,411.3 560.4,409.7 C558.3,408.0 556.7,405.5 555.6,401.9 C554.4,398.4 554.9,393.0 553.6,388.5 C552.4,384.0 547.7,377.4 547.9,375.0Z"/>
<path fill="#ffff73" d="M560.4,423.1 C560.9,420.6 564.4,419.6 566.2,421.2 C567.9,422.8 570.0,428.0 571.0,432.8 C571.9,437.6 572.7,447.2 571.9,450.1 C571.1,453.0 567.6,452.4 566.2,450.1 C564.7,447.9 564.2,441.1 563.3,436.6 C562.3,432.1 559.9,425.7 560.4,423.1Z"/>
<path fill="#64be00" d="M518.9,483.6 C521.6,480.3 526.9,479.7 529.6,480.0 C532.2,480.3 533.7,482.1 534.9,485.3 C536.1,488.6 536.1,494.8 536.7,499.6 C537.3,504.3 537.0,509.6 538.4,513.8 C539.9,517.9 542.3,522.7 545.6,524.4 C548.8,526.2 553.9,525.9 558.0,524.4 C562.1,523.0 567.8,519.7 570.4,515.6 C573.1,511.4 572.8,504.9 574.0,499.6 C575.2,494.2 576.7,488.3 577.6,483.6 C578.4,478.8 579.9,476.1 579.3,471.1 C578.7,466.1 574.9,458.1 574.0,453.3 C573.1,448.6 573.4,445.2 574.0,442.7 C574.6,440.1 576.1,438.5 577.6,438.2 C579.0,437.9 581.4,438.4 582.9,440.9 C584.4,443.4 585.6,447.1 586.4,453.3 C587.3,459.6 587.0,473.2 588.2,478.2 C589.4,483.3 591.8,481.2 593.6,483.6 C595.3,485.9 597.4,489.2 598.9,492.4 C600.4,495.7 602.1,499.6 602.4,503.1 C602.7,506.7 602.7,510.2 600.7,513.8 C598.6,517.3 593.0,521.5 590.0,524.4 C587.0,527.4 584.4,528.9 582.9,531.6 C581.4,534.2 582.0,537.2 581.1,540.4 C580.2,543.7 580.2,548.1 577.6,551.1 C574.9,554.1 569.0,556.1 565.1,558.2 C561.3,560.3 556.5,561.5 554.4,563.6 C552.4,565.6 552.1,568.0 552.7,570.7 C553.3,573.3 555.3,577.2 558.0,579.6 C560.7,581.9 565.4,583.0 568.7,584.9 C571.9,586.8 574.6,590.5 577.6,591.1 C580.5,591.7 583.2,590.1 586.4,588.4 C589.7,586.8 593.6,582.8 597.1,581.3 C600.7,579.9 604.2,579.6 607.8,579.6 C611.3,579.6 615.5,581.9 618.4,581.3 C621.4,580.7 623.2,578.4 625.6,576.0 C627.9,573.6 630.0,569.8 632.7,567.1 C635.3,564.4 638.6,562.1 641.6,560.0 C644.5,557.9 648.4,557.6 650.4,554.7 C652.5,551.7 652.8,546.4 654.0,542.2 C655.2,538.1 655.5,533.0 657.6,529.8 C659.6,526.5 662.9,524.4 666.4,522.7 C670.0,520.9 674.7,520.3 678.9,519.1 C683.0,517.9 687.2,517.0 691.3,515.6 C695.5,514.1 700.5,512.0 703.8,510.2 C707.0,508.4 708.2,506.1 710.9,504.9 C713.6,503.7 717.4,502.5 719.8,503.1 C722.1,503.7 724.8,506.7 725.1,508.4 C725.4,510.2 724.5,512.3 721.6,513.8 C718.6,515.3 710.9,515.0 707.3,517.3 C703.8,519.7 702.3,524.7 700.2,528.0 C698.1,531.3 696.7,533.3 694.9,536.9 C693.1,540.4 691.3,545.5 689.6,549.3 C687.8,553.2 684.8,556.4 684.2,560.0 C683.6,563.6 684.5,567.7 686.0,570.7 C687.5,573.6 689.6,576.6 693.1,577.8 C696.7,579.0 704.1,576.0 707.3,577.8 C710.6,579.6 714.4,586.4 712.7,588.4 C710.9,590.5 701.1,590.8 696.7,590.2 C692.2,589.6 689.3,587.0 686.0,584.9 C682.7,582.8 680.4,579.0 677.1,577.8 C673.9,576.6 670.3,577.2 666.4,577.8 C662.6,578.4 657.9,579.9 654.0,581.3 C650.1,582.8 646.0,584.3 643.3,586.7 C640.7,589.0 638.6,591.7 638.0,595.6 C637.4,599.4 639.8,605.0 639.8,609.8 C639.8,614.5 639.5,619.9 638.0,624.0 C636.5,628.1 633.0,630.5 630.9,634.7 C628.8,638.8 650.1,646.5 625.6,648.9 C601.0,651.3 508.5,651.3 483.3,648.9 C458.1,646.5 478.0,637.6 474.4,634.7 C470.9,631.7 465.9,632.9 462.0,631.1 C458.1,629.3 454.1,627.0 451.3,624.0 C448.5,621.0 446.0,616.9 445.1,613.3 C444.2,609.8 444.7,605.6 446.0,602.7 C447.3,599.7 449.9,597.0 453.1,595.6 C456.4,594.1 460.8,593.8 465.6,593.8 C470.3,593.8 477.4,597.3 481.6,595.6 C485.7,593.8 487.8,587.6 490.4,583.1 C493.1,578.7 495.8,574.2 497.6,568.9 C499.3,563.6 499.9,557.3 501.1,551.1 C502.3,544.9 503.2,537.5 504.7,531.6 C506.1,525.6 508.5,520.9 510.0,515.6 C511.5,510.2 512.1,504.9 513.6,499.6 C515.0,494.2 516.2,486.8 518.9,483.6Z"/>
<path fill="#64be00" d="M441.3,591.1 C407.6,595.9 442.8,612.4 446.7,619.6 C450.5,626.7 458.8,629.9 464.4,633.8 C470.1,637.6 475.4,640.9 480.4,642.7 C485.5,644.4 490.8,645.3 494.7,644.4 C498.5,643.6 501.2,639.7 503.6,637.3 C505.9,635.0 506.2,632.3 508.9,630.2 C511.6,628.1 515.1,626.1 519.6,624.9 C524.0,623.7 529.9,623.4 535.6,623.1 C541.2,622.8 548.0,622.5 553.3,623.1 C558.7,623.7 564.0,624.6 567.6,626.7 C571.1,628.7 572.7,631.7 574.7,635.6 C576.6,639.4 578.7,644.7 579.1,649.8 C579.6,654.8 578.1,661.0 577.3,665.8 C576.6,670.5 574.8,674.4 574.7,678.2 C574.5,682.1 575.4,685.9 576.4,688.9 C577.5,691.9 580.6,693.0 580.9,696.0 C581.2,699.0 579.6,703.7 578.2,706.7 C576.9,709.6 574.1,711.1 572.9,713.8 C571.7,716.4 572.3,722.1 571.1,722.7 C569.9,723.3 568.1,718.7 565.8,717.3 C563.4,716.0 560.1,714.5 556.9,714.7 C553.6,714.8 549.2,716.3 546.2,718.2 C543.3,720.1 541.5,722.8 539.1,726.2 C536.7,729.6 534.4,734.5 532.0,738.7 C529.6,742.8 525.8,747.6 524.9,751.1 C524.0,754.7 524.9,758.5 526.7,760.0 C528.4,761.5 532.6,760.9 535.6,760.0 C538.5,759.1 542.1,756.7 544.4,754.7 C546.8,752.6 548.0,749.6 549.8,747.6 C551.6,745.5 553.3,742.8 555.1,742.2 C556.9,741.6 559.3,742.5 560.4,744.0 C561.6,745.5 562.5,748.4 562.2,751.1 C561.9,753.8 560.4,757.0 558.7,760.0 C556.9,763.0 553.9,766.2 551.6,768.9 C549.2,771.6 547.1,773.9 544.4,776.0 C541.8,778.1 537.9,779.3 535.6,781.3 C533.2,783.4 531.4,784.9 530.2,788.4 C529.0,792.0 526.1,800.3 528.4,802.7 C530.8,805.0 532.9,812.7 544.4,802.7 C556.0,792.6 583.0,759.7 597.8,742.2 C612.6,724.7 625.3,709.6 633.3,697.8 C641.3,685.9 643.7,678.2 645.8,671.1 C647.9,664.0 646.7,657.2 645.8,655.1 C644.9,653.0 642.5,657.2 640.4,658.7 C638.4,660.1 636.0,662.7 633.3,664.0 C630.7,665.3 626.7,667.0 624.4,666.7 C622.2,666.4 620.3,664.4 620.0,662.2 C619.7,660.0 621.3,657.2 622.7,653.3 C624.0,649.5 625.9,643.9 628.0,639.1 C630.1,634.4 632.7,629.6 635.1,624.9 C637.5,620.1 639.9,616.3 642.2,610.7 C644.6,605.0 682.8,594.4 649.3,591.1 C615.9,587.9 475.1,586.4 441.3,591.1Z"/>
<path fill="#009600" d="M522.4,496.0 C525.1,493.0 527.5,491.9 529.6,492.4 C531.6,493.0 533.7,496.0 534.9,499.6 C536.1,503.1 535.8,509.0 536.7,513.8 C537.6,518.5 537.9,525.0 540.2,528.0 C542.6,531.0 547.3,530.4 550.9,531.6 C554.4,532.7 558.3,533.0 561.6,535.1 C564.8,537.2 569.6,540.7 570.4,544.0 C571.3,547.3 569.6,552.0 566.9,554.7 C564.2,557.3 557.1,557.6 554.4,560.0 C551.8,562.4 550.9,565.9 550.9,568.9 C550.9,571.9 552.1,575.1 554.4,577.8 C556.8,580.4 561.3,582.4 565.1,584.9 C569.0,587.4 573.4,592.3 577.6,592.9 C581.7,593.5 586.4,590.1 590.0,588.4 C593.6,586.8 595.3,584.3 598.9,583.1 C602.4,581.9 607.5,581.3 611.3,581.3 C615.2,581.3 618.7,584.0 622.0,583.1 C625.3,582.2 628.2,578.7 630.9,576.0 C633.6,573.3 635.0,570.1 638.0,567.1 C641.0,564.1 645.7,561.8 648.7,558.2 C651.6,554.7 654.3,549.9 655.8,545.8 C657.3,541.6 656.1,536.3 657.6,533.3 C659.0,530.4 661.7,528.9 664.7,528.0 C667.6,527.1 671.5,528.9 675.3,528.0 C679.2,527.1 685.0,523.3 687.8,522.7 C690.6,522.1 691.6,522.4 692.2,524.4 C692.8,526.5 692.4,531.3 691.3,535.1 C690.3,539.0 687.8,543.7 686.0,547.6 C684.2,551.4 682.4,555.3 680.7,558.2 C678.9,561.2 677.7,563.6 675.3,565.3 C673.0,567.1 669.7,567.1 666.4,568.9 C663.2,570.7 659.6,573.9 655.8,576.0 C651.9,578.1 646.6,579.0 643.3,581.3 C640.1,583.7 637.7,587.3 636.2,590.2 C634.7,593.2 634.1,595.3 634.4,599.1 C634.7,603.0 638.6,608.9 638.0,613.3 C637.4,617.8 633.6,621.9 630.9,625.8 C628.2,629.6 624.4,632.6 622.0,636.4 C619.6,640.3 623.5,646.8 616.7,648.9 C609.9,651.0 587.6,651.9 581.1,648.9 C574.6,645.9 579.6,635.3 577.6,631.1 C575.5,627.0 572.5,625.8 568.7,624.0 C564.8,622.2 559.2,621.0 554.4,620.4 C549.7,619.9 545.6,620.1 540.2,620.4 C534.9,620.7 527.8,620.7 522.4,622.2 C517.1,623.7 511.8,626.7 508.2,629.3 C504.7,632.0 502.9,635.0 501.1,638.2 C499.3,641.5 501.1,647.1 497.6,648.9 C494.0,650.7 485.1,652.1 479.8,648.9 C474.4,645.6 469.7,633.8 465.6,629.3 C461.4,624.9 457.9,625.5 454.9,622.2 C451.9,619.0 448.7,613.3 447.8,609.8 C446.9,606.2 447.5,603.0 449.6,600.9 C451.6,598.8 455.2,597.6 460.2,597.3 C465.3,597.0 475.3,599.7 479.8,599.1 C484.2,598.5 484.2,597.3 486.9,593.8 C489.6,590.2 493.4,583.4 495.8,577.8 C498.1,572.1 499.9,565.9 501.1,560.0 C502.3,554.1 501.7,548.1 502.9,542.2 C504.1,536.3 506.4,529.8 508.2,524.4 C510.0,519.1 511.2,515.0 513.6,510.2 C515.9,505.5 519.8,499.0 522.4,496.0Z"/>
<path fill="#009600" d="M585.7,455.1 C585.7,457.1 585.4,459.4 584.9,461.0 C584.4,462.5 583.6,464.0 582.8,464.6 C582.0,465.2 580.9,465.2 580.1,464.6 C579.4,464.0 578.5,462.5 578.0,461.0 C577.5,459.4 577.2,457.1 577.2,455.1 C577.2,453.2 577.5,450.8 578.0,449.3 C578.5,447.7 579.4,446.2 580.1,445.6 C580.9,445.0 582.0,445.0 582.8,445.6 C583.6,446.2 584.4,447.7 584.9,449.3 C585.4,450.8 585.7,453.2 585.7,455.1Z"/>
<path fill="#009600" d="M582.9,485.3 C583.2,482.1 585.4,478.2 586.4,478.2 C587.5,478.2 588.5,482.4 589.1,485.3 C589.7,488.3 589.0,493.0 590.0,496.0 C591.0,499.0 594.4,500.7 595.3,503.1 C596.2,505.5 596.2,508.3 595.3,510.2 C594.4,512.1 592.1,514.1 590.0,514.7 C587.9,515.3 584.5,515.1 582.9,513.8 C581.3,512.4 579.9,509.3 580.2,506.7 C580.5,504.0 584.2,501.3 584.7,497.8 C585.1,494.2 582.6,488.6 582.9,485.3Z"/>
<path fill="#009600" d="M691.3,581.3 C691.9,579.9 694.0,578.4 696.7,577.8 C699.3,577.2 705.1,576.6 707.3,577.8 C709.6,579.0 711.2,583.3 710.0,584.9 C708.8,586.5 703.0,587.3 700.2,587.6 C697.4,587.9 694.6,587.7 693.1,586.7 C691.6,585.6 690.7,582.8 691.3,581.3Z"/>
<path fill="#64be00" d="M721.6,542.2 C721.6,542.7 721.4,543.4 721.0,543.8 C720.7,544.2 720.2,544.6 719.7,544.8 C719.2,544.9 718.6,544.9 718.1,544.8 C717.6,544.6 717.0,544.2 716.7,543.8 C716.4,543.4 716.2,542.7 716.2,542.2 C716.2,541.7 716.4,541.1 716.7,540.7 C717.0,540.2 717.6,539.8 718.1,539.7 C718.6,539.5 719.2,539.5 719.7,539.7 C720.2,539.8 720.7,540.2 721.0,540.7 C721.4,541.1 721.6,541.7 721.6,542.2Z"/>
<path fill="#009600" d="M453.8,607.1 C422.8,608.9 449.3,612.6 453.8,617.8 C458.2,623.0 474.2,634.7 480.4,638.2 C486.7,641.8 488.1,639.9 491.1,639.1 C494.1,638.4 496.1,635.9 498.2,633.8 C500.3,631.7 501.2,628.7 503.6,626.7 C505.9,624.6 508.6,622.5 512.4,621.3 C516.3,620.1 521.3,620.1 526.7,619.6 C532.0,619.0 538.8,617.8 544.4,617.8 C550.1,617.8 556.0,618.4 560.4,619.6 C564.9,620.7 568.1,622.2 571.1,624.9 C574.1,627.6 576.4,631.4 578.2,635.6 C580.0,639.7 581.5,644.7 581.8,649.8 C582.1,654.8 580.6,661.3 580.0,665.8 C579.4,670.2 577.3,673.2 578.2,676.4 C579.1,679.7 583.9,682.1 585.3,685.3 C586.8,688.6 587.4,692.4 587.1,696.0 C586.8,699.6 585.0,703.4 583.6,706.7 C582.1,709.9 579.4,712.0 578.2,715.6 C577.0,719.1 577.0,725.0 576.4,728.0 C575.9,731.0 575.6,733.9 574.7,733.3 C573.8,732.7 572.6,726.8 571.1,724.4 C569.6,722.1 568.1,720.3 565.8,719.1 C563.4,717.9 559.9,717.0 556.9,717.3 C553.9,717.6 550.7,718.8 548.0,720.9 C545.3,723.0 543.3,726.5 540.9,729.8 C538.5,733.0 535.9,736.9 533.8,740.4 C531.7,744.0 529.0,748.1 528.4,751.1 C527.9,754.1 528.1,757.6 530.2,758.2 C532.3,758.8 537.9,756.1 540.9,754.7 C543.9,753.2 546.2,751.4 548.0,749.3 C549.8,747.3 549.8,744.1 551.6,742.2 C553.3,740.3 556.6,737.8 558.7,737.8 C560.7,737.8 562.8,740.0 564.0,742.2 C565.2,744.4 566.1,748.1 565.8,751.1 C565.5,754.1 563.7,757.3 562.2,760.0 C560.7,762.7 558.7,764.7 556.9,767.1 C555.1,769.5 553.9,772.1 551.6,774.2 C549.2,776.3 545.3,777.8 542.7,779.6 C540.0,781.3 537.3,782.8 535.6,784.9 C533.8,787.0 532.9,789.0 532.0,792.0 C531.1,795.0 528.1,800.9 530.2,802.7 C532.3,804.4 533.2,812.7 544.4,802.7 C555.7,792.6 583.0,759.7 597.8,742.2 C612.6,724.7 625.3,709.6 633.3,697.8 C641.3,685.9 644.0,677.3 645.8,671.1 C647.6,664.9 645.2,661.6 644.0,660.4 C642.8,659.3 641.0,662.5 638.7,664.0 C636.3,665.5 632.7,668.3 629.8,669.3 C626.8,670.4 623.3,670.8 620.9,670.2 C618.5,669.6 616.1,668.0 615.6,665.8 C615.0,663.6 616.1,660.7 617.3,656.9 C618.5,653.0 620.6,647.4 622.7,642.7 C624.7,637.9 627.6,633.2 629.8,628.4 C632.0,623.7 634.4,617.8 636.0,614.2 C637.6,610.7 669.9,608.3 639.6,607.1 C609.2,605.9 484.7,605.3 453.8,607.1Z"/>
<path fill="#64be00" d="M493.8,771.6 C494.2,770.2 496.4,768.3 498.2,768.0 C500.0,767.7 503.3,768.6 504.4,769.8 C505.6,771.0 506.1,773.8 505.3,775.1 C504.6,776.4 501.6,777.6 500.0,777.8 C498.4,777.9 496.6,777.0 495.6,776.0 C494.5,775.0 493.3,772.9 493.8,771.6Z"/>
<path fill="#73b2ff" d="M518.0,513.8 C518.7,510.5 520.5,507.0 522.4,504.9 C524.4,502.8 527.9,501.0 529.6,501.3 C531.2,501.6 532.2,504.3 532.2,506.7 C532.2,509.0 530.6,512.6 529.6,515.6 C528.5,518.5 526.9,521.5 526.0,524.4 C525.1,527.4 525.3,532.0 524.2,533.3 C523.2,534.7 520.8,533.9 519.8,532.4 C518.7,531.0 518.3,527.6 518.0,524.4 C517.7,521.3 517.3,517.0 518.0,513.8Z"/>
<path fill="#73b2ff" d="M516.6,544.9 C516.6,545.7 516.3,546.6 515.8,547.2 C515.4,547.8 514.6,548.4 513.9,548.6 C513.1,548.8 512.2,548.8 511.5,548.6 C510.7,548.4 510.0,547.8 509.5,547.2 C509.1,546.6 508.8,545.7 508.8,544.9 C508.8,544.1 509.1,543.2 509.5,542.6 C510.0,542.0 510.7,541.4 511.5,541.2 C512.2,540.9 513.1,540.9 513.9,541.2 C514.6,541.4 515.4,542.0 515.8,542.6 C516.3,543.2 516.6,544.1 516.6,544.9Z"/>
<path fill="#73b2ff" d="M527.4,547.6 C528.2,546.1 530.8,543.4 533.1,543.1 C535.4,542.8 539.9,544.6 541.1,545.8 C542.3,547.0 541.6,549.0 540.2,550.2 C538.9,551.4 535.0,552.6 533.1,552.9 C531.2,553.2 529.6,552.9 528.7,552.0 C527.7,551.1 526.7,549.0 527.4,547.6Z"/>
<path fill="#73b2ff" d="M520.7,560.0 C523.0,559.7 525.4,561.5 527.8,563.6 C530.1,565.6 532.8,569.8 534.9,572.4 C537.0,575.1 538.1,577.5 540.2,579.6 C542.3,581.6 545.4,582.5 547.3,584.9 C549.3,587.3 551.2,590.8 551.8,593.8 C552.4,596.7 552.2,600.9 550.9,602.7 C549.6,604.4 546.7,604.7 543.8,604.4 C540.8,604.1 537.0,600.9 533.1,600.9 C529.3,600.9 524.8,602.7 520.7,604.4 C516.5,606.2 511.5,609.2 508.2,611.6 C505.0,613.9 502.9,615.7 501.1,618.7 C499.3,621.6 499.0,626.7 497.6,629.3 C496.1,632.0 494.3,634.4 492.2,634.7 C490.1,635.0 487.2,632.9 485.1,631.1 C483.0,629.3 482.4,624.9 479.8,624.0 C477.1,623.1 472.7,626.1 469.1,625.8 C465.6,625.5 461.0,624.3 458.4,622.2 C455.9,620.1 454.6,616.6 454.0,613.3 C453.4,610.1 453.6,604.7 454.9,602.7 C456.2,600.6 458.7,600.6 462.0,600.9 C465.3,601.2 470.6,604.1 474.4,604.4 C478.3,604.7 482.1,604.7 485.1,602.7 C488.1,600.6 489.6,595.3 492.2,592.0 C494.9,588.7 498.4,586.1 501.1,583.1 C503.8,580.1 506.1,577.2 508.2,574.2 C510.3,571.3 511.5,567.7 513.6,565.3 C515.6,563.0 518.3,560.3 520.7,560.0Z"/>
<path fill="#73b2ff" d="M584.7,613.3 C585.3,608.3 587.3,604.0 590.0,600.9 C592.7,597.8 596.5,595.9 600.7,594.7 C604.8,593.5 610.4,593.3 614.9,593.8 C619.3,594.2 624.4,595.3 627.3,597.3 C630.3,599.4 632.1,603.0 632.7,606.2 C633.3,609.5 632.4,613.3 630.9,616.9 C629.4,620.4 626.1,624.0 623.8,627.6 C621.4,631.1 618.4,634.7 616.7,638.2 C614.9,641.8 617.6,647.1 613.1,648.9 C608.7,650.7 594.4,651.9 590.0,648.9 C585.6,645.9 587.3,637.0 586.4,631.1 C585.6,625.2 584.1,618.4 584.7,613.3Z"/>
<path fill="#73b2ff" d="M585.3,608.9 C585.9,604.7 588.3,603.9 590.7,601.8 C593.0,599.7 592.7,597.3 599.6,596.4 C606.4,595.6 625.9,594.4 631.6,596.4 C637.2,598.5 633.6,604.4 633.3,608.9 C633.0,613.3 631.6,618.7 629.8,623.1 C628.0,627.6 624.7,631.7 622.7,635.6 C620.6,639.4 619.1,643.3 617.3,646.2 C615.6,649.2 614.1,651.6 612.0,653.3 C609.9,655.1 606.7,655.1 604.9,656.9 C603.1,658.7 601.6,660.7 601.3,664.0 C601.0,667.3 601.9,672.6 603.1,676.4 C604.3,680.3 606.7,683.9 608.4,687.1 C610.2,690.4 612.0,693.3 613.8,696.0 C615.6,698.7 618.4,700.6 619.1,703.1 C619.9,705.6 620.3,709.8 618.2,711.1 C616.1,712.4 610.8,711.6 606.7,711.1 C602.5,710.7 594.5,710.4 593.3,708.4 C592.1,706.5 598.2,702.8 599.6,699.6 C600.9,696.3 601.9,692.1 601.3,688.9 C600.7,685.6 598.1,682.4 596.0,680.0 C593.9,677.6 590.4,677.6 588.9,674.7 C587.4,671.7 587.1,667.3 587.1,662.2 C587.1,657.2 588.9,650.4 588.9,644.4 C588.9,638.5 587.7,632.6 587.1,626.7 C586.5,620.7 584.7,613.0 585.3,608.9Z"/>
<path fill="#004da8" d="M623.4,608.4 C624.0,609.8 624.2,611.6 623.8,613.1 C623.5,614.7 622.6,616.5 621.4,617.9 C620.2,619.2 618.4,620.6 616.6,621.4 C614.9,622.2 612.7,622.7 610.9,622.8 C609.1,622.8 607.1,622.3 605.7,621.6 C604.3,620.8 603.0,619.6 602.4,618.2 C601.8,616.9 601.6,615.1 601.9,613.5 C602.3,612.0 603.2,610.2 604.4,608.8 C605.6,607.4 607.4,606.1 609.1,605.3 C610.9,604.5 613.0,603.9 614.9,603.9 C616.7,603.9 618.7,604.3 620.1,605.1 C621.5,605.8 622.7,607.1 623.4,608.4Z"/>
<path fill="#004da8" d="M594.2,648.0 C594.1,645.6 594.8,641.8 596.0,640.0 C597.2,638.2 599.6,636.8 601.3,637.0 C603.1,637.1 605.5,639.1 606.7,640.9 C607.9,642.7 609.0,645.9 608.4,648.0 C607.9,650.1 605.0,652.3 603.1,653.3 C601.2,654.4 598.4,655.1 596.9,654.2 C595.4,653.3 594.4,650.4 594.2,648.0Z"/>
<path fill="#004da8" d="M609.2,695.1 C609.2,695.3 609.1,695.6 609.0,695.7 C608.8,695.9 608.6,696.1 608.4,696.1 C608.2,696.2 608.0,696.2 607.8,696.1 C607.6,696.1 607.3,695.9 607.2,695.7 C607.1,695.6 607.0,695.3 607.0,695.1 C607.0,694.9 607.1,694.7 607.2,694.5 C607.3,694.3 607.6,694.2 607.8,694.1 C608.0,694.0 608.2,694.0 608.4,694.1 C608.6,694.2 608.8,694.3 609.0,694.5 C609.1,694.7 609.2,694.9 609.2,695.1Z"/>
<path fill="#004da8" d="M587.1,838.2 C587.1,837.3 589.3,836.3 590.7,836.4 C592.0,836.6 595.1,838.2 595.1,839.1 C595.1,840.0 592.0,841.9 590.7,841.8 C589.3,841.6 587.1,839.1 587.1,838.2Z"/>
<path fill="#73b2ff" d="M634.0,676.8 C634.0,677.2 633.9,677.7 633.6,678.1 C633.4,678.4 633.0,678.7 632.6,678.8 C632.2,679.0 631.6,679.0 631.3,678.8 C630.9,678.7 630.4,678.4 630.2,678.1 C629.9,677.7 629.8,677.2 629.8,676.8 C629.8,676.4 629.9,675.9 630.2,675.5 C630.4,675.2 630.9,674.9 631.3,674.8 C631.6,674.6 632.2,674.6 632.6,674.8 C633.0,674.9 633.4,675.2 633.6,675.5 C633.9,675.9 634.0,676.4 634.0,676.8Z"/>
<path fill="#73b2ff" d="M591.6,733.3 C592.1,731.7 594.5,729.3 596.0,728.9 C597.5,728.4 600.3,728.6 600.4,730.7 C600.6,732.7 598.2,740.0 596.9,741.3 C595.6,742.7 593.3,740.0 592.4,738.7 C591.6,737.3 591.0,735.0 591.6,733.3Z"/>
<path fill="#73b2ff" d="M583.6,751.1 C584.3,749.3 587.3,747.6 588.0,748.4 C588.7,749.3 588.7,754.7 588.0,756.4 C587.3,758.2 584.3,760.0 583.6,759.1 C582.8,758.2 582.8,752.9 583.6,751.1Z"/>
<path fill="#73b2ff" d="M562.2,774.2 C563.0,771.1 565.5,765.6 567.6,763.6 C569.6,761.5 572.3,761.9 574.7,761.8 C577.0,761.6 581.3,761.2 581.8,762.7 C582.2,764.1 579.3,768.0 577.3,770.7 C575.4,773.3 572.6,776.7 570.2,778.7 C567.9,780.6 564.4,783.0 563.1,782.2 C561.8,781.5 561.5,777.3 562.2,774.2Z"/>
<path fill="#73b2ff" d="M536.4,795.6 C536.7,793.6 539.3,790.2 540.9,788.4 C542.5,786.7 544.6,784.9 546.2,784.9 C547.9,784.9 551.0,786.8 550.7,788.4 C550.4,790.1 546.4,792.7 544.4,794.7 C542.5,796.6 540.4,799.9 539.1,800.0 C537.8,800.1 536.1,797.5 536.4,795.6Z"/>
<path fill="#ffff73" d="M600.7,480.0 C600.7,478.5 604.2,478.5 607.8,480.0 C611.3,481.5 617.3,486.5 622.0,488.9 C626.7,491.3 632.7,493.0 636.2,494.2 C639.8,495.4 639.2,493.9 643.3,496.0 C647.5,498.1 654.6,504.9 661.1,506.7 C667.6,508.4 675.9,509.6 682.4,506.7 C689.0,503.7 696.1,492.7 700.2,488.9 C704.4,485.0 705.0,484.1 707.3,483.6 C709.7,483.0 714.4,483.6 714.4,485.3 C714.4,487.1 710.3,491.6 707.3,494.2 C704.4,496.9 700.2,499.0 696.7,501.3 C693.1,503.7 689.6,506.7 686.0,508.4 C682.4,510.2 679.5,510.8 675.3,512.0 C671.2,513.2 664.4,513.5 661.1,515.6 C657.9,517.6 657.6,521.2 655.8,524.4 C654.0,527.7 651.6,532.1 650.4,535.1 C649.3,538.1 650.4,539.9 648.7,542.2 C646.9,544.6 643.6,547.3 639.8,549.3 C635.9,551.4 630.0,553.5 625.6,554.7 C621.1,555.9 617.3,555.6 613.1,556.4 C609.0,557.3 603.9,558.2 600.7,560.0 C597.4,561.8 596.2,566.2 593.6,567.1 C590.9,568.0 586.7,566.5 584.7,565.3 C582.6,564.1 581.1,561.8 581.1,560.0 C581.1,558.2 582.3,556.1 584.7,554.7 C587.0,553.2 592.7,553.2 595.3,551.1 C598.0,549.0 599.5,545.5 600.7,542.2 C601.9,539.0 601.0,534.5 602.4,531.6 C603.9,528.6 606.9,526.2 609.6,524.4 C612.2,522.7 615.2,522.4 618.4,520.9 C621.7,519.4 626.4,517.6 629.1,515.6 C631.8,513.5 634.1,510.8 634.4,508.4 C634.7,506.1 633.6,503.4 630.9,501.3 C628.2,499.3 622.3,498.1 618.4,496.0 C614.6,493.9 610.7,491.6 607.8,488.9 C604.8,486.2 600.7,481.5 600.7,480.0Z"/>
<path fill="#ffff73" d="M610.4,512.4 C610.4,512.8 610.3,513.4 610.1,513.8 C609.9,514.2 609.5,514.6 609.2,514.7 C608.9,514.9 608.4,514.9 608.1,514.7 C607.8,514.6 607.4,514.2 607.2,513.8 C607.0,513.4 606.9,512.8 606.9,512.4 C606.9,511.9 607.0,511.3 607.2,510.9 C607.4,510.5 607.8,510.1 608.1,510.0 C608.4,509.8 608.9,509.8 609.2,510.0 C609.5,510.1 609.9,510.5 610.1,510.9 C610.3,511.3 610.4,511.9 610.4,512.4Z"/>
<path fill="#ffd700" d="M638.0,499.6 C638.3,497.9 639.8,495.9 643.3,496.9 C646.9,497.9 657.6,503.0 659.3,505.8 C661.1,508.6 655.8,511.0 654.0,513.8 C652.2,516.6 649.9,519.7 648.7,522.7 C647.5,525.6 648.1,528.9 646.9,531.6 C645.7,534.2 643.6,537.2 641.6,538.7 C639.5,540.1 636.8,541.0 634.4,540.4 C632.1,539.9 629.7,536.6 627.3,535.1 C625.0,533.6 621.9,533.0 620.2,531.6 C618.6,530.1 617.0,528.0 617.6,526.2 C618.1,524.4 621.3,522.1 623.8,520.9 C626.3,519.7 630.0,520.3 632.7,519.1 C635.3,517.9 638.3,515.9 639.8,513.8 C641.3,511.7 641.9,509.0 641.6,506.7 C641.3,504.3 637.7,501.2 638.0,499.6Z"/>
<path fill="#ff9600" d="M642.4,501.3 C642.4,500.1 645.1,498.4 646.9,498.7 C648.7,498.9 653.1,501.5 653.1,502.8 C653.1,504.0 648.7,506.5 646.9,506.3 C645.1,506.1 642.4,502.6 642.4,501.3Z"/>
<path fill="#ffd700" d="M603.3,478.2 C603.0,477.0 606.1,478.1 609.6,480.0 C613.0,481.9 618.7,487.1 623.8,489.8 C628.8,492.4 639.5,495.2 639.8,496.0 C640.1,496.8 630.3,496.2 625.6,494.8 C620.8,493.3 615.0,490.2 611.3,487.5 C607.6,484.7 603.6,479.5 603.3,478.2Z"/>
<path fill="#ffd700" d="M664.7,506.0 C667.0,505.3 676.5,504.4 678.9,504.9 C681.3,505.4 681.3,508.1 678.9,508.8 C676.5,509.5 667.0,509.3 664.7,508.8 C662.3,508.3 662.3,506.6 664.7,506.0Z"/>
<path fill="#ffff73" d="M718.0,471.1 C725.1,468.4 735.8,470.8 742.9,472.9 C750.0,475.0 759.5,479.1 760.7,483.6 C761.9,488.0 753.0,494.5 750.0,499.6 C747.0,504.6 744.4,507.9 742.9,513.8 C741.4,519.7 742.0,528.9 741.1,535.1 C740.2,541.3 739.6,547.0 737.6,551.1 C735.5,555.3 731.9,557.0 728.7,560.0 C725.4,563.0 720.4,568.0 718.0,568.9 C715.6,569.8 713.3,568.3 714.4,565.3 C715.6,562.4 722.4,555.6 725.1,551.1 C727.8,546.7 729.0,543.1 730.4,538.7 C731.9,534.2 733.1,529.8 734.0,524.4 C734.9,519.1 735.0,512.6 735.8,506.7 C736.5,500.7 739.0,493.6 738.4,488.9 C737.9,484.1 734.7,480.0 732.2,478.2 C729.7,476.4 726.3,477.0 723.3,478.2 C720.4,479.4 717.7,481.8 714.4,485.3 C711.2,488.9 706.7,496.0 703.8,499.6 C700.8,503.1 699.6,505.2 696.7,506.7 C693.7,508.1 685.4,511.4 686.0,508.4 C686.6,505.5 694.9,495.1 700.2,488.9 C705.6,482.7 710.9,473.8 718.0,471.1Z"/>
<path fill="#ffd700" d="M694.9,492.4 C695.2,490.4 698.7,486.5 702.0,483.6 C705.3,480.6 711.2,476.6 714.4,474.7 C717.7,472.7 721.3,471.1 721.6,472.0 C721.9,472.9 718.6,477.5 716.2,480.0 C713.9,482.5 710.0,484.4 707.3,487.1 C704.7,489.8 702.3,495.1 700.2,496.0 C698.1,496.9 694.6,494.5 694.9,492.4Z"/>
<path fill="#ffd700" d="M744.7,488.9 C744.7,485.6 745.3,480.9 748.2,480.0 C751.2,479.1 761.6,481.2 762.4,483.6 C763.3,485.9 755.9,491.6 753.6,494.2 C751.2,496.9 749.7,500.4 748.2,499.6 C746.7,498.7 744.7,492.1 744.7,488.9Z"/>
<path fill="#ffff73" d="M693.1,547.6 C693.1,543.7 694.9,538.7 696.7,535.1 C698.4,531.6 701.4,527.4 703.8,526.2 C706.1,525.0 709.1,526.2 710.9,528.0 C712.7,529.8 714.1,533.6 714.4,536.9 C714.7,540.1 712.4,544.3 712.7,547.6 C713.0,550.8 715.9,553.8 716.2,556.4 C716.5,559.1 716.2,562.4 714.4,563.6 C712.7,564.7 708.5,564.4 705.6,563.6 C702.6,562.7 698.7,560.9 696.7,558.2 C694.6,555.6 693.1,551.4 693.1,547.6Z"/>
<path fill="#ffd700" d="M698.4,549.3 C698.7,546.7 700.5,542.2 702.0,540.4 C703.5,538.7 706.0,537.5 707.3,538.7 C708.7,539.9 709.1,544.9 710.0,547.6 C710.9,550.2 711.6,552.9 712.7,554.7 C713.7,556.4 716.2,557.0 716.2,558.2 C716.2,559.4 714.4,561.5 712.7,561.8 C710.9,562.1 707.6,560.9 705.6,560.0 C703.5,559.1 701.4,558.2 700.2,556.4 C699.0,554.7 698.1,552.0 698.4,549.3Z"/>
<path fill="#ffff73" d="M668.2,595.6 C667.6,594.5 672.4,589.3 675.3,588.4 C678.3,587.6 682.4,589.3 686.0,590.2 C689.6,591.1 692.7,593.2 696.7,593.8 C700.7,594.4 706.6,592.9 710.0,593.8 C713.4,594.7 717.6,595.4 717.1,599.1 C716.7,602.8 710.0,614.2 707.3,616.0 C704.7,617.8 701.7,612.7 701.1,609.8 C700.5,606.8 707.5,600.7 703.8,598.2 C700.1,595.7 684.8,595.1 678.9,594.7 C673.0,594.2 668.8,596.6 668.2,595.6Z"/>
<path fill="#aaeb1e" d="M705.6,599.1 C706.9,598.2 713.6,598.2 714.4,599.1 C715.3,600.0 712.2,603.6 710.9,604.4 C709.6,605.3 707.3,605.3 706.4,604.4 C705.6,603.6 704.2,600.0 705.6,599.1Z"/>
<path fill="#ffff73" d="M656.4,596.4 C656.1,595.0 651.7,604.7 649.3,608.9 C647.0,613.0 644.4,616.9 642.2,621.3 C640.0,625.8 637.9,631.1 636.0,635.6 C634.1,640.0 631.7,644.4 630.7,648.0 C629.6,651.6 629.3,655.0 629.8,656.9 C630.2,658.8 631.6,659.9 633.3,659.6 C635.1,659.3 637.8,656.4 640.4,655.1 C643.1,653.8 646.4,653.9 649.3,651.6 C652.3,649.2 657.9,646.5 658.2,640.9 C658.5,635.3 651.4,625.2 651.1,617.8 C650.8,610.4 656.7,597.9 656.4,596.4Z"/>
<path fill="#ffd700" d="M646.7,640.0 C648.3,638.5 655.1,638.9 655.6,640.9 C656.0,642.9 651.0,650.4 649.3,651.9 C647.7,653.4 646.2,651.8 645.8,649.8 C645.3,647.8 645.0,641.5 646.7,640.0Z"/>
<path fill="#ffff73" d="M494.7,645.3 C492.6,643.3 501.8,644.3 505.3,644.4 C508.9,644.6 512.4,646.8 516.0,646.2 C519.6,645.6 522.5,642.4 526.7,640.9 C530.8,639.4 536.1,637.8 540.9,637.3 C545.6,636.9 551.3,637.0 555.1,638.2 C559.0,639.4 562.2,642.2 564.0,644.4 C565.8,646.7 566.1,649.2 565.8,651.6 C565.5,653.9 563.1,656.6 562.2,658.7 C561.3,660.7 559.6,662.8 560.4,664.0 C561.3,665.2 565.4,664.6 567.6,665.8 C569.7,667.0 572.5,668.7 573.2,671.1 C574.0,673.5 573.1,677.0 572.0,680.0 C570.9,683.0 568.3,686.2 566.7,688.9 C565.0,691.6 563.9,693.9 562.2,696.0 C560.6,698.1 559.3,699.9 556.9,701.3 C554.5,702.8 550.7,703.4 548.0,704.9 C545.3,706.4 543.0,708.1 540.9,710.2 C538.8,712.3 537.0,714.7 535.6,717.3 C534.1,720.0 533.5,723.3 532.0,726.2 C530.5,729.2 528.4,732.1 526.7,735.1 C524.9,738.1 523.1,741.3 521.3,744.0 C519.6,746.7 518.7,747.6 516.0,751.1 C513.3,754.7 508.3,762.4 505.3,765.3 C502.4,768.3 497.6,771.3 498.2,768.9 C498.8,766.5 505.8,755.9 508.9,751.1 C512.0,746.4 513.9,745.2 516.9,740.4 C519.9,735.7 524.1,728.3 526.7,722.7 C529.2,717.0 530.8,712.3 532.0,706.7 C533.2,701.0 534.4,694.8 533.8,688.9 C533.2,683.0 531.1,676.4 528.4,671.1 C525.8,665.8 523.4,661.2 517.8,656.9 C512.1,652.6 496.7,647.4 494.7,645.3Z"/>
<path fill="#ffff73" d="M505.3,760.0 C508.3,756.4 513.3,749.0 516.0,747.6 C518.7,746.1 520.7,749.0 521.3,751.1 C521.9,753.2 519.3,757.0 519.6,760.0 C519.9,763.0 521.6,766.2 523.1,768.9 C524.6,771.6 527.9,773.6 528.4,776.0 C529.0,778.4 529.3,781.6 526.7,783.1 C524.0,784.6 515.4,786.1 512.4,784.9 C509.5,783.7 511.3,778.7 508.9,776.0 C506.5,773.3 498.8,771.6 498.2,768.9 C497.6,766.2 502.4,763.6 505.3,760.0Z"/>
<path fill="#ffff73" d="M548.0,767.5 C548.0,768.1 547.7,768.8 547.3,769.3 C546.8,769.9 546.0,770.3 545.3,770.5 C544.6,770.7 543.6,770.7 542.9,770.5 C542.2,770.3 541.4,769.9 540.9,769.3 C540.5,768.8 540.2,768.1 540.2,767.5 C540.2,766.8 540.5,766.1 540.9,765.6 C541.4,765.1 542.2,764.6 542.9,764.4 C543.6,764.2 544.6,764.2 545.3,764.4 C546.0,764.6 546.8,765.1 547.3,765.6 C547.7,766.1 548.0,766.8 548.0,767.5Z"/>
<path fill="#aaeb1e" d="M546.2,673.8 C545.6,673.0 547.4,669.8 549.8,668.4 C552.1,667.1 558.4,667.1 560.4,665.8 C562.5,664.4 561.0,662.2 562.2,660.4 C563.4,658.7 566.1,655.4 567.6,655.1 C569.0,654.8 570.8,656.6 571.1,658.7 C571.4,660.7 571.1,665.5 569.3,667.6 C567.6,669.6 563.1,670.2 560.4,671.1 C557.8,672.0 555.7,672.4 553.3,672.9 C551.0,673.3 546.8,674.5 546.2,673.8Z"/>
<path fill="#ffff73" d="M574.7,657.2 C574.7,657.7 574.5,658.2 574.3,658.5 C574.1,658.8 573.8,659.1 573.4,659.3 C573.1,659.4 572.7,659.4 572.3,659.3 C572.0,659.1 571.7,658.8 571.5,658.5 C571.2,658.2 571.1,657.7 571.1,657.2 C571.1,656.8 571.2,656.3 571.5,656.0 C571.7,655.7 572.0,655.3 572.3,655.2 C572.7,655.1 573.1,655.1 573.4,655.2 C573.8,655.3 574.1,655.7 574.3,656.0 C574.5,656.3 574.7,656.8 574.7,657.2Z"/>
<path fill="#ffd700" d="M522.2,661.3 C521.5,658.4 524.7,658.2 526.7,660.4 C528.6,662.7 532.0,670.5 533.8,674.7 C535.6,678.8 535.0,683.3 537.3,685.3 C539.7,687.4 545.0,687.9 548.0,687.1 C551.0,686.4 552.7,682.1 555.1,680.9 C557.5,679.7 560.6,679.4 562.2,680.0 C563.9,680.6 565.2,682.4 564.9,684.4 C564.6,686.5 562.7,690.4 560.4,692.4 C558.2,694.5 554.5,696.0 551.6,696.9 C548.6,697.8 544.7,696.4 542.7,697.8 C540.6,699.1 540.3,701.9 539.1,704.9 C537.9,707.9 537.0,711.7 535.6,715.6 C534.1,719.4 532.0,724.4 530.2,728.0 C528.4,731.6 526.4,735.1 524.9,736.9 C523.4,738.7 521.0,740.7 521.3,738.7 C521.6,736.6 524.9,729.2 526.7,724.4 C528.4,719.7 530.8,715.3 532.0,710.2 C533.2,705.2 533.9,699.6 533.8,694.2 C533.6,688.9 533.0,683.7 531.1,678.2 C529.2,672.7 523.0,664.3 522.2,661.3Z"/>
<path fill="#64be00" d="M333.2,696.1 C333.3,697.2 368.5,692.3 375.6,696.1 C382.7,700.0 374.6,713.2 375.6,719.3 C376.6,725.4 380.1,729.2 381.4,732.8 C382.7,736.3 383.3,737.6 383.3,740.5 C383.3,743.4 381.4,747.2 381.4,750.1 C381.4,753.0 383.6,755.2 383.3,757.8 C383.0,760.4 380.6,762.3 379.5,765.5 C378.3,768.7 377.2,772.6 376.6,777.1 C375.9,781.6 375.6,787.3 375.6,792.5 C375.6,797.6 375.9,803.7 376.6,807.9 C377.2,812.1 377.1,815.0 379.5,817.5 C381.9,820.1 387.2,821.1 391.0,823.3 C394.9,825.6 398.1,829.1 402.6,831.0 C407.1,832.9 412.9,834.2 418.0,834.9 C423.1,835.5 428.9,834.6 433.4,834.9 C437.9,835.2 441.1,835.8 445.0,836.8 C448.8,837.8 455.2,837.8 456.5,840.7 C457.8,843.5 456.5,851.9 452.7,854.1 C448.8,856.4 438.2,854.5 433.4,854.1 C428.6,853.8 427.0,851.9 423.8,852.2 C420.6,852.5 416.4,853.5 414.1,856.1 C411.9,858.6 412.5,865.1 410.3,867.6 C408.0,870.2 404.5,870.8 400.7,871.5 C396.8,872.1 391.3,870.5 387.2,871.5 C383.0,872.4 378.8,875.0 375.6,877.3 C372.4,879.5 370.5,881.8 367.9,885.0 C365.3,888.2 363.1,893.0 360.2,896.5 C357.3,900.1 353.8,903.3 350.6,906.2 C347.3,909.1 344.6,912.2 340.9,913.9 C337.3,915.6 332.8,914.5 328.7,916.4 C324.5,918.4 320.7,923.0 316.2,925.3 C311.8,927.7 306.1,928.9 302.0,930.7 C297.9,932.4 294.0,934.2 291.3,936.0 C288.7,937.8 289.6,939.3 286.0,941.3 C282.4,943.4 275.0,946.4 270.0,948.4 C265.0,950.5 259.9,951.7 255.8,953.8 C251.6,955.9 249.3,958.5 245.1,960.9 C241.0,963.3 235.6,965.9 230.9,968.0 C226.1,970.1 221.4,971.6 216.7,973.3 C211.9,975.1 206.3,976.6 202.4,978.7 C198.6,980.7 195.9,982.8 193.6,985.8 C191.2,988.7 189.4,992.9 188.2,996.4 C187.0,1000.0 187.6,1003.3 186.4,1007.1 C185.3,1011.0 183.5,1016.6 181.1,1019.6 C178.7,1022.5 175.8,1024.1 172.2,1024.9 C168.7,1025.6 163.9,1024.6 159.8,1024.0 C155.6,1023.4 151.2,1021.5 147.3,1021.3 C143.5,1021.2 139.9,1021.6 136.7,1023.1 C133.4,1024.6 130.1,1027.3 127.8,1030.2 C125.4,1033.2 123.9,1037.0 122.4,1040.9 C121.0,1044.7 120.1,1049.2 118.9,1053.3 C117.7,1057.5 116.8,1062.2 115.3,1065.8 C113.9,1069.3 112.0,1070.6 110.0,1074.7 C108.0,1078.7 106.6,1086.7 103.1,1090.2 C99.6,1093.7 92.1,1093.5 88.9,1095.6 C85.6,1097.6 84.7,1099.7 83.6,1102.7 C82.4,1105.6 82.1,1108.6 81.8,1113.3 C81.5,1118.1 82.1,1126.1 81.8,1131.1 C81.5,1136.1 81.2,1140.3 80.0,1143.6 C78.8,1146.8 75.6,1148.3 74.7,1150.7 C73.8,1153.0 73.8,1155.4 74.7,1157.8 C75.6,1160.1 77.6,1163.4 80.0,1164.9 C82.4,1166.4 87.1,1165.2 88.9,1166.7 C90.7,1168.1 88.9,1172.1 90.7,1173.8 C92.4,1175.4 96.9,1175.0 99.6,1176.4 C102.2,1177.9 104.9,1180.1 106.7,1182.7 C108.4,1185.2 109.0,1188.3 110.2,1191.6 C111.4,1194.8 123.3,1200.4 113.8,1202.2 C104.3,1204.0 69.3,1202.8 53.3,1202.2 C37.3,1201.6 23.3,1199.9 17.8,1198.7 C12.2,1197.5 22.1,1203.1 20.0,1195.0 C17.9,1186.9 5.8,1165.8 5.0,1150.0 C4.2,1134.2 2.5,1120.0 15.0,1100.0 C27.5,1080.0 64.2,1046.7 80.0,1030.0 C95.8,1013.3 98.3,1008.3 110.0,1000.0 C121.7,991.7 136.7,987.5 150.0,980.0 C163.3,972.5 176.7,965.8 190.0,955.0 C203.3,944.2 219.2,925.0 230.0,915.0 C240.8,905.0 248.0,902.5 255.0,895.0 C262.0,887.5 267.0,879.2 272.0,870.0 C277.0,860.8 282.0,851.7 285.0,840.0 C288.0,828.3 282.5,813.3 290.0,800.0 C297.5,786.7 322.5,773.3 330.0,760.0 C337.5,746.7 327.5,731.7 335.0,720.0 C342.5,708.3 375.3,694.0 375.0,690.0 C374.7,686.0 333.1,695.1 333.2,696.1Z"/>
<path fill="#aaeb1e" d="M336.1,738.5 C336.8,736.4 338.5,733.4 340.9,730.8 C343.3,728.3 347.8,724.7 350.6,723.1 C353.3,721.5 356.0,720.2 357.3,721.2 C358.6,722.2 358.7,726.3 358.3,728.9 C357.8,731.5 356.7,734.5 354.4,736.6 C352.2,738.7 347.7,740.3 344.8,741.4 C341.9,742.5 338.5,743.8 337.1,743.4 C335.6,742.9 335.5,740.6 336.1,738.5Z"/>
<path fill="#aaeb1e" d="M318.4,837.4 C318.4,838.0 318.0,838.8 317.5,839.3 C316.9,839.8 316.0,840.3 315.1,840.5 C314.2,840.7 313.0,840.7 312.1,840.5 C311.2,840.3 310.2,839.8 309.7,839.3 C309.1,838.8 308.7,838.0 308.7,837.4 C308.7,836.7 309.1,836.0 309.7,835.5 C310.2,834.9 311.2,834.5 312.1,834.3 C313.0,834.1 314.2,834.1 315.1,834.3 C316.0,834.5 316.9,834.9 317.5,835.5 C318.0,836.0 318.4,836.7 318.4,837.4Z"/>
<path fill="#64be00" d="M423.8,765.5 C424.4,763.6 427.0,761.0 429.6,759.7 C432.1,758.4 435.3,758.1 439.2,757.8 C443.0,757.5 448.5,756.8 452.7,757.8 C456.9,758.8 462.3,761.0 464.2,763.6 C466.2,766.2 465.5,771.1 464.2,773.2 C463.0,775.3 459.7,776.1 456.5,776.1 C453.3,776.1 448.8,773.7 445.0,773.2 C441.1,772.7 436.6,773.5 433.4,773.2 C430.2,772.9 427.3,772.6 425.7,771.3 C424.1,770.0 423.1,767.4 423.8,765.5Z"/>
<path fill="#009600" d="M439.2,763.6 C439.8,761.8 441.4,758.4 445.0,757.8 C448.5,757.2 457.2,758.1 460.4,759.7 C463.6,761.3 464.6,765.0 464.2,767.4 C463.9,769.8 461.3,773.9 458.5,774.2 C455.6,774.5 449.8,770.3 446.9,769.4 C444.0,768.4 442.4,769.4 441.1,768.4 C439.8,767.4 438.5,765.4 439.2,763.6Z"/>
<path fill="#009600" d="M339.0,752.0 C340.8,749.5 343.2,749.6 346.7,748.2 C350.2,746.7 356.3,744.3 360.2,743.4 C364.0,742.4 367.6,741.3 369.8,742.4 C372.1,743.5 372.4,747.5 373.7,750.1 C375.0,752.7 377.5,754.3 377.5,757.8 C377.5,761.3 375.0,766.8 373.7,771.3 C372.4,775.8 370.8,780.9 369.8,784.8 C368.9,788.6 369.5,791.8 367.9,794.4 C366.3,797.0 364.0,798.9 360.2,800.2 C356.3,801.5 349.3,801.8 344.8,802.1 C340.3,802.4 337.1,802.4 333.2,802.1 C329.4,801.8 322.6,802.4 321.7,800.2 C320.7,797.9 325.4,792.5 327.4,788.6 C329.5,784.8 332.7,781.2 334.2,777.1 C335.6,772.9 335.3,767.8 336.1,763.6 C336.9,759.4 337.2,754.6 339.0,752.0Z"/>
<path fill="#73b2ff" d="M334.2,779.0 C332.9,776.0 335.3,768.4 337.1,765.5 C338.8,762.6 341.6,762.4 344.8,761.7 C348.0,761.0 353.3,760.6 356.3,761.3 C359.4,761.9 361.8,763.5 363.1,765.5 C364.4,767.5 364.4,770.6 364.0,773.2 C363.7,775.8 362.8,779.2 361.2,780.9 C359.6,782.7 357.1,783.4 354.4,783.8 C351.7,784.2 348.2,784.0 344.8,783.2 C341.4,782.4 335.5,782.0 334.2,779.0Z"/>
<path fill="#009600" d="M372.7,721.2 C372.7,722.1 372.5,723.3 372.2,724.0 C371.9,724.8 371.5,725.5 371.0,725.8 C370.5,726.1 369.9,726.1 369.4,725.8 C369.0,725.5 368.5,724.8 368.2,724.0 C367.9,723.3 367.7,722.1 367.7,721.2 C367.7,720.3 367.9,719.1 368.2,718.4 C368.5,717.6 369.0,716.9 369.4,716.6 C369.9,716.3 370.5,716.3 371.0,716.6 C371.5,716.9 371.9,717.6 372.2,718.4 C372.5,719.1 372.7,720.3 372.7,721.2Z"/>
<path fill="#009600" d="M428.6,846.4 C428.9,844.7 431.2,843.4 433.4,843.0 C435.7,842.5 439.7,842.8 442.1,843.5 C444.5,844.3 448.7,845.2 447.9,847.4 C447.1,849.6 440.0,855.5 437.3,856.5 C434.5,857.4 432.9,854.8 431.5,853.2 C430.0,851.5 428.3,848.1 428.6,846.4Z"/>
<path fill="#009600" d="M283.1,863.8 C285.9,861.8 285.7,859.0 288.9,858.0 C292.1,857.0 297.6,858.0 302.4,858.0 C307.2,858.0 313.3,859.0 317.8,858.0 C322.3,857.0 325.5,854.1 329.4,852.2 C333.2,850.3 336.4,848.0 340.9,846.4 C345.4,844.8 351.2,843.4 356.3,842.6 C361.5,841.8 366.9,841.3 371.8,841.6 C376.6,841.9 381.7,843.1 385.2,844.5 C388.8,846.0 391.7,848.0 392.9,850.3 C394.2,852.5 394.6,855.4 392.9,858.0 C391.3,860.6 387.5,863.8 383.3,865.7 C379.1,867.6 372.7,868.0 367.9,869.6 C363.1,871.2 357.6,872.8 354.4,875.3 C351.2,877.9 350.6,881.8 348.6,885.0 C346.7,888.2 345.1,891.4 342.9,894.6 C340.6,897.8 338.4,901.3 335.1,904.2 C331.9,907.1 330.0,908.4 323.6,911.9 C317.2,915.5 303.8,921.3 296.7,925.3 C289.5,929.3 285.7,933.0 280.7,936.0 C275.6,939.0 271.2,941.0 266.4,943.1 C261.7,945.2 256.4,946.4 252.2,948.4 C248.1,950.5 245.7,953.2 241.6,955.6 C237.4,957.9 232.1,960.6 227.3,962.7 C222.6,964.7 217.9,966.2 213.1,968.0 C208.4,969.8 203.0,971.3 198.9,973.3 C194.7,975.4 190.9,977.5 188.2,980.4 C185.6,983.4 184.1,987.3 182.9,991.1 C181.7,995.0 182.0,999.4 181.1,1003.6 C180.2,1007.7 179.3,1013.0 177.6,1016.0 C175.8,1019.0 173.4,1020.7 170.4,1021.3 C167.5,1021.9 163.9,1020.4 159.8,1019.6 C155.6,1018.7 150.0,1016.3 145.6,1016.0 C141.1,1015.7 137.0,1016.3 133.1,1017.8 C129.3,1019.3 125.4,1021.9 122.4,1024.9 C119.5,1027.9 117.1,1031.7 115.3,1035.6 C113.6,1039.4 112.7,1043.9 111.8,1048.0 C110.9,1052.1 110.9,1057.3 110.0,1060.4 C109.1,1063.6 109.0,1064.8 106.7,1067.1 C104.3,1069.4 99.6,1071.9 96.0,1074.2 C92.4,1076.6 88.6,1078.7 85.3,1081.3 C82.1,1084.0 78.5,1087.0 76.4,1090.2 C74.4,1093.5 73.6,1096.4 72.9,1100.9 C72.1,1105.3 72.3,1111.9 72.0,1116.9 C71.7,1121.9 71.9,1127.0 71.1,1131.1 C70.4,1135.3 68.7,1138.2 67.6,1141.8 C66.4,1145.3 64.6,1148.9 64.0,1152.4 C63.4,1156.0 63.1,1159.9 64.0,1163.1 C64.9,1166.4 67.0,1169.3 69.3,1172.0 C71.7,1174.7 75.3,1177.0 78.2,1179.1 C81.2,1181.2 85.0,1182.4 87.1,1184.4 C89.2,1186.5 89.5,1188.9 90.7,1191.6 C91.9,1194.2 102.5,1199.0 94.2,1200.4 C85.9,1201.9 53.6,1200.7 40.9,1200.4 C28.1,1200.1 21.3,1199.6 17.8,1198.7 C14.3,1197.8 22.1,1203.1 20.0,1195.0 C17.9,1186.9 5.8,1165.8 5.0,1150.0 C4.2,1134.2 2.5,1120.0 15.0,1100.0 C27.5,1080.0 64.2,1046.7 80.0,1030.0 C95.8,1013.3 98.3,1008.3 110.0,1000.0 C121.7,991.7 136.7,987.5 150.0,980.0 C163.3,972.5 176.7,965.8 190.0,955.0 C203.3,944.2 219.2,925.0 230.0,915.0 C240.8,905.0 248.0,902.5 255.0,895.0 C262.0,887.5 267.3,875.2 272.0,870.0 C276.7,864.8 280.3,865.8 283.1,863.8Z"/>
<path fill="#73b2ff" d="M269.6,885.0 C274.0,881.7 277.0,877.6 281.2,875.3 C285.4,873.1 290.2,871.5 294.7,871.5 C299.2,871.5 304.3,873.9 308.2,875.3 C312.0,876.8 315.9,877.6 317.8,880.2 C319.7,882.7 320.1,887.1 319.7,890.8 C319.4,894.4 318.1,899.1 315.9,902.3 C313.6,905.5 310.1,907.5 306.2,910.0 C302.4,912.6 297.0,914.9 292.8,917.7 C288.5,920.6 285.1,924.4 280.7,927.1 C276.3,929.9 271.2,932.1 266.4,934.2 C261.7,936.3 257.0,937.2 252.2,939.6 C247.5,941.9 242.7,945.8 238.0,948.4 C233.3,951.1 228.5,953.5 223.8,955.6 C219.0,957.6 214.3,959.1 209.6,960.9 C204.8,962.7 199.5,964.1 195.3,966.2 C191.2,968.3 187.6,970.7 184.7,973.3 C181.7,976.0 179.6,978.7 177.6,982.2 C175.5,985.8 173.4,990.2 172.2,994.7 C171.0,999.1 171.9,1006.1 170.4,1008.9 C169.0,1011.7 166.3,1011.9 163.3,1011.6 C160.4,1011.3 156.5,1008.1 152.7,1007.1 C148.8,1006.1 144.4,1005.0 140.2,1005.3 C136.1,1005.6 131.6,1007.1 127.8,1008.9 C123.9,1010.7 120.1,1013.9 117.1,1016.0 C114.1,1018.1 113.5,1014.6 110.0,1021.3 C106.5,1028.1 100.1,1048.8 96.0,1056.4 C91.9,1064.1 88.9,1063.9 85.3,1067.1 C81.8,1070.4 77.6,1073.0 74.7,1076.0 C71.7,1079.0 69.3,1081.6 67.6,1084.9 C65.8,1088.1 64.9,1090.8 64.0,1095.6 C63.1,1100.3 62.5,1107.4 62.2,1113.3 C61.9,1119.3 63.1,1126.1 62.2,1131.1 C61.3,1136.1 58.5,1139.4 56.9,1143.6 C55.3,1147.7 53.3,1152.1 52.4,1156.0 C51.6,1159.9 51.1,1162.5 51.6,1166.7 C52.0,1170.8 53.8,1175.9 55.1,1180.9 C56.4,1185.9 65.8,1193.9 59.6,1196.9 C53.3,1199.9 24.4,1199.0 17.8,1198.7 C11.2,1198.4 22.1,1203.1 20.0,1195.0 C17.9,1186.9 5.8,1165.8 5.0,1150.0 C4.2,1134.2 2.5,1120.0 15.0,1100.0 C27.5,1080.0 64.2,1046.7 80.0,1030.0 C95.8,1013.3 98.3,1008.3 110.0,1000.0 C121.7,991.7 136.7,987.5 150.0,980.0 C163.3,972.5 176.7,965.8 190.0,955.0 C203.3,944.2 219.2,925.0 230.0,915.0 C240.8,905.0 248.4,900.0 255.0,895.0 C261.6,890.0 265.3,888.2 269.6,885.0Z"/>
<path fill="#004da8" d="M51.6,1086.7 C53.0,1091.1 50.1,1098.5 48.9,1104.4 C47.7,1110.4 45.8,1116.3 44.4,1122.2 C43.1,1128.1 42.1,1133.8 40.9,1140.0 C39.7,1146.2 38.4,1153.6 37.3,1159.6 C36.3,1165.5 35.3,1169.6 34.7,1175.6 C34.1,1181.5 36.6,1191.3 33.8,1195.1 C31.0,1199.0 20.1,1198.7 17.8,1198.7 C15.5,1198.6 22.1,1203.1 20.0,1195.0 C17.9,1186.9 5.8,1165.8 5.0,1150.0 C4.2,1134.2 9.2,1112.0 15.0,1100.0 C20.8,1088.0 33.9,1080.2 40.0,1078.0 C46.1,1075.8 50.1,1082.3 51.6,1086.7Z"/>
<path fill="#64be00" d="M100.4,1108.0 C100.8,1105.5 101.5,1103.0 103.1,1101.8 C104.7,1100.6 107.6,1100.1 110.2,1100.9 C112.9,1101.6 116.3,1103.9 119.1,1106.2 C121.9,1108.6 125.0,1112.4 127.1,1115.1 C129.2,1117.8 131.1,1119.9 131.6,1122.2 C132.0,1124.6 131.6,1127.6 129.8,1129.3 C128.0,1131.1 124.1,1132.1 120.9,1132.9 C117.6,1133.6 113.0,1134.7 110.2,1133.8 C107.4,1132.9 105.5,1130.4 104.0,1127.6 C102.5,1124.7 101.6,1120.1 101.0,1116.9 C100.4,1113.6 100.1,1110.5 100.4,1108.0Z"/>
<path fill="#64be00" d="M100.3,1162.1 C100.1,1162.8 99.6,1163.6 99.1,1164.1 C98.7,1164.6 98.1,1165.0 97.7,1165.1 C97.2,1165.1 96.7,1165.0 96.4,1164.6 C96.1,1164.2 95.9,1163.6 95.9,1162.9 C95.9,1162.2 96.0,1161.3 96.3,1160.6 C96.6,1159.9 97.0,1159.1 97.5,1158.6 C97.9,1158.1 98.5,1157.7 99.0,1157.6 C99.4,1157.5 99.9,1157.7 100.2,1158.1 C100.5,1158.4 100.7,1159.1 100.7,1159.8 C100.7,1160.4 100.6,1161.3 100.3,1162.1Z"/>
<path fill="#64be00" d="M106.4,1101.3 C107.9,1096.3 112.4,1101.3 115.3,1103.1 C118.3,1104.9 121.7,1108.7 124.2,1112.0 C126.7,1115.3 129.9,1119.7 130.4,1122.7 C131.0,1125.6 130.0,1128.1 127.8,1129.8 C125.6,1131.4 120.7,1131.9 117.1,1132.4 C113.6,1133.0 108.2,1138.5 106.4,1133.3 C104.7,1128.1 105.0,1106.4 106.4,1101.3Z"/>
<path fill="#ffff73" d="M389.1,765.5 C390.2,763.3 391.3,761.2 392.9,761.7 C394.6,762.1 396.5,766.3 398.7,768.4 C401.0,770.5 403.9,772.1 406.4,774.2 C409.0,776.3 410.9,779.5 414.1,780.9 C417.4,782.4 421.8,782.5 425.7,782.9 C429.6,783.2 433.4,783.5 437.3,782.9 C441.1,782.2 445.3,779.3 448.8,779.0 C452.4,778.7 455.9,779.6 458.5,780.9 C461.0,782.2 462.0,782.2 464.2,786.7 C466.5,791.2 471.9,803.1 471.9,807.9 C471.9,812.7 467.1,813.0 464.2,815.6 C461.3,818.2 458.1,821.5 454.6,823.3 C451.1,825.1 447.2,826.2 443.0,826.2 C438.9,826.2 434.4,824.8 429.6,823.3 C424.7,821.9 419.0,819.8 414.1,817.5 C409.3,815.3 404.8,812.7 400.7,809.8 C396.5,806.9 391.7,804.0 389.1,800.2 C386.5,796.3 385.7,790.9 385.2,786.7 C384.8,782.5 385.6,778.7 386.2,775.1 C386.8,771.6 388.0,767.8 389.1,765.5Z"/>
<path fill="#ffd700" d="M397.8,774.2 C398.8,773.4 401.8,773.1 403.5,774.2 C405.3,775.3 406.3,779.0 408.4,780.9 C410.4,782.9 412.9,784.5 416.1,785.7 C419.3,787.0 423.8,788.3 427.6,788.6 C431.5,789.0 435.3,788.5 439.2,787.7 C443.0,786.9 447.2,784.3 450.8,783.8 C454.3,783.3 457.7,783.0 460.4,784.8 C463.1,786.5 466.2,791.5 467.1,794.4 C468.1,797.3 468.6,800.5 466.2,802.1 C463.8,803.7 456.9,803.6 452.7,804.0 C448.5,804.5 445.0,805.0 441.1,805.0 C437.3,805.0 433.4,804.8 429.6,804.0 C425.7,803.2 421.5,801.8 418.0,800.2 C414.5,798.6 411.3,796.7 408.4,794.4 C405.5,792.2 402.5,789.3 400.7,786.7 C398.8,784.1 397.7,781.1 397.2,779.0 C396.7,776.9 396.7,775.0 397.8,774.2Z"/>
<path fill="#ff9600" d="M457.9,793.4 C457.9,794.1 457.4,794.8 456.7,795.3 C456.0,795.7 454.8,796.2 453.6,796.4 C452.5,796.6 451.0,796.6 449.8,796.4 C448.7,796.2 447.4,795.7 446.7,795.3 C446.0,794.8 445.5,794.1 445.5,793.4 C445.5,792.8 446.0,792.1 446.7,791.6 C447.4,791.1 448.7,790.7 449.8,790.5 C451.0,790.3 452.5,790.3 453.6,790.5 C454.8,790.7 456.0,791.1 456.7,791.6 C457.4,792.1 457.9,792.8 457.9,793.4Z"/>
<path fill="#ffd700" d="M444.0,736.6 C444.2,734.7 446.4,728.6 447.9,727.0 C449.3,725.4 452.2,725.4 452.7,727.0 C453.2,728.6 451.7,734.7 450.8,736.6 C449.8,738.5 448.0,738.5 446.9,738.5 C445.8,738.5 443.8,738.5 444.0,736.6Z"/>
<path fill="#ffff73" d="M423.8,873.4 C424.7,874.7 421.5,880.8 419.9,885.0 C418.3,889.1 416.1,894.6 414.1,898.5 C412.2,902.3 410.9,905.2 408.4,908.1 C405.8,911.0 402.6,913.6 398.7,915.8 C394.9,918.0 388.8,919.0 385.2,921.6 C381.7,924.1 379.1,927.7 377.5,931.2 C375.9,934.7 375.3,938.0 375.6,942.8 C375.9,947.6 394.6,957.2 379.5,960.1 C364.4,963.0 299.5,963.0 285.0,960.1 C270.6,957.2 290.5,946.9 292.8,942.8 C295.0,938.6 295.0,936.7 298.5,935.1 C302.1,933.5 309.1,933.8 313.9,933.1 C318.8,932.5 322.9,932.2 327.4,931.2 C331.9,930.3 337.1,929.0 340.9,927.4 C344.8,925.8 347.7,924.1 350.6,921.6 C353.4,919.0 356.0,915.2 358.3,911.9 C360.5,908.7 361.8,905.5 364.0,902.3 C366.3,899.1 368.9,895.6 371.8,892.7 C374.6,889.8 377.5,886.9 381.4,885.0 C385.2,883.0 390.7,881.4 394.9,881.1 C399.0,880.8 403.2,883.7 406.4,883.0 C409.6,882.4 411.3,878.9 414.1,877.3 C417.0,875.7 422.8,872.1 423.8,873.4Z"/>
<path fill="#ffff73" d="M348.2,916.4 C347.6,917.9 347.3,923.6 344.7,925.3 C342.0,927.1 336.4,926.2 332.2,927.1 C328.1,928.0 324.2,929.5 319.8,930.7 C315.3,931.9 309.7,933.0 305.6,934.2 C301.4,935.4 297.3,935.7 294.9,937.8 C292.5,939.9 293.1,944.0 291.3,946.7 C289.6,949.3 287.2,952.0 284.2,953.8 C281.3,955.6 276.5,956.1 273.6,957.3 C270.6,958.5 268.2,958.8 266.4,960.9 C264.7,963.0 263.2,967.1 262.9,969.8 C262.6,972.4 262.6,975.7 264.7,976.9 C266.7,978.1 271.8,977.2 275.3,976.9 C278.9,976.6 283.3,974.2 286.0,975.1 C288.7,976.0 290.4,979.6 291.3,982.2 C292.2,984.9 292.2,988.1 291.3,991.1 C290.4,994.1 288.1,997.6 286.0,1000.0 C283.9,1002.4 281.6,1004.7 278.9,1005.3 C276.2,1005.9 272.7,1004.7 270.0,1003.6 C267.3,1002.4 265.0,1000.3 262.9,998.2 C260.8,996.1 259.6,993.2 257.6,991.1 C255.5,989.0 253.1,986.8 250.4,985.8 C247.8,984.7 244.8,984.6 241.6,984.9 C238.3,985.2 234.4,986.2 230.9,987.6 C227.3,988.9 223.8,990.8 220.2,992.9 C216.7,995.0 212.5,997.3 209.6,1000.0 C206.6,1002.7 204.5,1005.6 202.4,1008.9 C200.4,1012.1 199.2,1016.6 197.1,1019.6 C195.0,1022.5 193.0,1024.9 190.0,1026.7 C187.0,1028.4 183.8,1029.6 179.3,1030.2 C174.9,1030.8 168.4,1030.2 163.3,1030.2 C158.3,1030.2 153.3,1029.6 149.1,1030.2 C145.0,1030.8 141.4,1031.7 138.4,1033.8 C135.5,1035.9 133.1,1039.1 131.3,1042.7 C129.6,1046.2 128.7,1051.3 127.8,1055.1 C126.9,1059.0 126.9,1061.6 126.0,1065.8 C125.1,1069.9 123.0,1075.6 122.4,1080.0 C121.9,1084.4 121.9,1088.6 122.4,1092.4 C123.0,1096.3 124.2,1099.6 126.0,1103.1 C127.8,1106.7 130.1,1110.2 133.1,1113.8 C136.1,1117.3 140.2,1121.2 143.8,1124.4 C147.3,1127.7 152.4,1131.0 154.4,1133.3 C156.5,1135.7 157.7,1136.9 156.2,1138.7 C154.7,1140.4 148.8,1142.2 145.6,1144.0 C142.3,1145.8 140.2,1148.1 136.7,1149.3 C133.1,1150.5 128.1,1149.9 124.2,1151.1 C120.4,1152.3 115.9,1155.0 113.6,1156.4 C111.2,1157.9 110.6,1159.4 110.0,1160.0 L110.0,1162.7 L252.2,1162.7 L280.7,1097.8 L291.3,1062.2 L305.6,1026.7 L412.2,991.1 L412.2,916.4Z"/>
<path fill="#ffff73" d="M112.9,1156.0 C112.9,1156.6 112.1,1157.2 112.9,1159.6 C113.6,1161.9 116.0,1166.7 117.3,1170.2 C118.7,1173.8 119.1,1177.3 120.9,1180.9 C122.7,1184.4 126.2,1188.3 128.0,1191.6 C129.8,1194.8 131.1,1195.7 131.6,1200.4 C132.0,1205.2 130.8,1216.7 130.7,1220.0 L231.1,1220.0 L302.2,1148.9 L302.2,1156.0Z"/>
<path fill="#aaeb1e" d="M271.2,1027.6 C271.2,1029.7 270.6,1032.3 269.7,1034.0 C268.8,1035.8 267.2,1037.4 265.7,1038.0 C264.2,1038.7 262.3,1038.7 260.8,1038.0 C259.3,1037.4 257.7,1035.8 256.8,1034.0 C255.9,1032.3 255.2,1029.7 255.2,1027.6 C255.2,1025.4 255.9,1022.8 256.8,1021.1 C257.7,1019.3 259.3,1017.7 260.8,1017.1 C262.3,1016.4 264.2,1016.4 265.7,1017.1 C267.2,1017.7 268.8,1019.3 269.7,1021.1 C270.6,1022.8 271.2,1025.4 271.2,1027.6Z"/>
<path fill="#aaeb1e" d="M160.9,1205.8 C160.6,1202.7 163.7,1198.7 165.3,1195.1 C167.0,1191.6 168.0,1187.0 170.7,1184.4 C173.3,1181.9 177.5,1180.3 181.3,1180.0 C185.2,1179.7 191.0,1181.0 193.8,1182.7 C196.6,1184.3 198.4,1186.5 198.2,1189.8 C198.1,1193.0 194.5,1198.7 192.9,1202.2 C191.3,1205.8 191.0,1209.0 188.4,1211.1 C185.9,1213.2 181.3,1214.2 177.8,1214.7 C174.2,1215.1 169.9,1215.3 167.1,1213.8 C164.3,1212.3 161.2,1208.9 160.9,1205.8Z"/>
<path fill="#aaeb1e" d="M141.7,1170.2 C141.7,1171.0 141.4,1171.9 140.8,1172.5 C140.3,1173.1 139.4,1173.7 138.6,1173.9 C137.8,1174.2 136.7,1174.2 135.9,1173.9 C135.0,1173.7 134.2,1173.1 133.6,1172.5 C133.1,1171.9 132.8,1171.0 132.8,1170.2 C132.8,1169.5 133.1,1168.5 133.6,1167.9 C134.2,1167.3 135.0,1166.7 135.9,1166.5 C136.7,1166.3 137.8,1166.3 138.6,1166.5 C139.4,1166.7 140.3,1167.3 140.8,1167.9 C141.4,1168.5 141.7,1169.5 141.7,1170.2Z"/>
<path fill="#64be00" d="M286.5,991.1 C286.5,992.4 286.0,994.0 285.2,995.1 C284.5,996.2 283.1,997.1 281.9,997.5 C280.6,997.9 278.9,997.9 277.7,997.5 C276.4,997.1 275.1,996.2 274.3,995.1 C273.5,994.0 273.0,992.4 273.0,991.1 C273.0,989.8 273.5,988.2 274.3,987.1 C275.1,986.1 276.4,985.1 277.7,984.7 C278.9,984.3 280.6,984.3 281.9,984.7 C283.1,985.1 284.5,986.1 285.2,987.1 C286.0,988.2 286.5,989.8 286.5,991.1Z"/>
<path fill="#aaeb1e" d="M410.7,896.5 C410.7,896.9 410.5,897.4 410.3,897.7 C410.1,898.0 409.7,898.2 409.3,898.4 C409.0,898.5 408.5,898.5 408.2,898.4 C407.8,898.2 407.4,898.0 407.2,897.7 C407.0,897.4 406.8,896.9 406.8,896.5 C406.8,896.2 407.0,895.7 407.2,895.4 C407.4,895.1 407.8,894.8 408.2,894.7 C408.5,894.6 409.0,894.6 409.3,894.7 C409.7,894.8 410.1,895.1 410.3,895.4 C410.5,895.7 410.7,896.2 410.7,896.5Z"/>
<path fill="#ffd700" d="M383.3,890.8 C386.8,889.3 392.3,888.5 394.9,889.8 C397.4,891.1 398.4,895.1 398.7,898.5 C399.0,901.8 398.1,906.8 396.8,910.0 C395.5,913.2 393.3,915.8 391.0,917.7 C388.8,919.7 385.6,919.3 383.3,921.6 C381.1,923.8 378.8,927.7 377.5,931.2 C376.2,934.7 375.3,938.0 375.6,942.8 C375.9,947.6 389.4,957.2 379.5,960.1 C369.5,963.0 326.2,962.4 315.9,960.1 C305.6,957.9 315.2,949.8 317.8,946.6 C320.4,943.4 326.8,942.5 331.3,940.8 C335.8,939.2 340.6,938.6 344.8,937.0 C349.0,935.4 353.1,934.1 356.3,931.2 C359.6,928.3 362.1,923.5 364.0,919.7 C366.0,915.8 366.3,911.6 367.9,908.1 C369.5,904.6 371.1,901.3 373.7,898.5 C376.2,895.6 379.8,892.2 383.3,890.8Z"/>
<path fill="#ffd700" d="M307.0,941.8 C307.0,942.6 306.7,943.6 306.2,944.3 C305.7,945.0 304.9,945.6 304.1,945.8 C303.3,946.1 302.3,946.1 301.5,945.8 C300.7,945.6 299.8,945.0 299.3,944.3 C298.9,943.6 298.5,942.6 298.5,941.8 C298.5,941.0 298.9,940.0 299.3,939.3 C299.8,938.6 300.7,938.0 301.5,937.8 C302.3,937.5 303.3,937.5 304.1,937.8 C304.9,938.0 305.7,938.6 306.2,939.3 C306.7,940.0 307.0,941.0 307.0,941.8Z"/>
<path fill="#ffd700" d="M362.4,916.4 C361.9,918.2 361.3,923.9 358.9,927.1 C356.5,930.4 352.4,933.9 348.2,936.0 C344.1,938.1 338.1,938.7 334.0,939.6 C329.9,940.4 326.3,939.9 323.3,941.3 C320.4,942.8 317.4,945.8 316.2,948.4 C315.0,951.1 318.0,954.7 316.2,957.3 C314.4,960.0 308.8,962.1 305.6,964.4 C302.3,966.8 298.4,969.2 296.7,971.6 C294.9,973.9 294.9,975.4 294.9,978.7 C294.9,981.9 297.6,987.6 296.7,991.1 C295.8,994.7 291.0,997.0 289.6,1000.0 C288.1,1003.0 289.9,1006.8 287.8,1008.9 C285.7,1011.0 279.8,1010.1 277.1,1012.4 C274.4,1014.8 273.0,1019.0 271.8,1023.1 C270.6,1027.3 270.9,1032.6 270.0,1037.3 C269.1,1042.1 268.5,1048.1 266.4,1051.6 C264.4,1055.0 260.2,1057.8 257.6,1057.8 C254.9,1057.8 252.2,1053.8 250.4,1051.6 C248.7,1049.3 246.9,1046.8 246.9,1044.4 C246.9,1042.1 250.1,1040.9 250.4,1037.3 C250.7,1033.8 249.0,1027.9 248.7,1023.1 C248.4,1018.4 249.9,1012.7 248.7,1008.9 C247.5,1005.0 244.5,1002.1 241.6,1000.0 C238.6,997.9 234.4,996.4 230.9,996.4 C227.3,996.4 223.8,997.9 220.2,1000.0 C216.7,1002.1 212.5,1005.3 209.6,1008.9 C206.6,1012.4 204.8,1017.5 202.4,1021.3 C200.1,1025.2 198.3,1029.6 195.3,1032.0 C192.4,1034.4 189.1,1035.0 184.7,1035.6 C180.2,1036.1 173.7,1035.3 168.7,1035.6 C163.6,1035.9 158.6,1035.9 154.4,1037.3 C150.3,1038.8 146.7,1041.8 143.8,1044.4 C140.8,1047.1 138.1,1050.4 136.7,1053.3 C135.2,1056.3 134.3,1059.3 134.9,1062.2 C135.5,1065.2 138.4,1068.1 140.2,1071.1 C142.0,1074.1 146.1,1077.9 145.6,1080.0 C145.0,1082.1 138.7,1081.8 136.7,1083.6 C134.6,1085.3 133.1,1088.0 133.1,1090.7 C133.1,1093.3 134.9,1096.9 136.7,1099.6 C138.4,1102.2 141.4,1103.7 143.8,1106.7 C146.1,1109.6 148.5,1113.5 150.9,1117.3 C153.3,1121.2 155.9,1125.9 158.0,1129.8 C160.1,1133.6 163.9,1137.8 163.3,1140.4 C162.7,1143.1 157.7,1144.3 154.4,1145.8 C151.2,1147.3 145.9,1145.5 143.8,1149.3 C141.7,1153.2 142.3,1165.6 142.0,1168.9 L142.0,1162.7 L252.2,1162.7 L280.7,1097.8 L291.3,1062.2 L305.6,1026.7 L412.2,991.1 L412.2,916.4Z"/>
<path fill="#ffd700" d="M141.3,1152.4 C141.8,1153.9 142.1,1159.0 144.0,1161.3 C145.9,1163.7 149.3,1165.5 152.9,1166.7 C156.4,1167.9 161.8,1167.3 165.3,1168.4 C168.9,1169.6 171.3,1173.5 174.2,1173.8 C177.2,1174.1 180.7,1172.0 183.1,1170.2 C185.5,1168.4 186.7,1163.7 188.4,1163.1 C190.2,1162.5 192.6,1164.9 193.8,1166.7 C195.0,1168.4 193.8,1172.6 195.6,1173.8 C197.3,1175.0 202.2,1172.6 204.4,1173.8 C206.7,1175.0 208.6,1178.5 208.9,1180.9 C209.2,1183.3 206.1,1185.0 206.2,1188.0 C206.4,1191.0 209.2,1196.9 209.8,1198.7 L231.1,1198.7 L302.2,1131.1 L302.2,1152.4Z"/>
<path fill="#ffd700" d="M306.8,942.2 C306.8,942.9 306.5,943.7 306.1,944.3 C305.6,944.9 304.8,945.4 304.1,945.6 C303.4,945.8 302.4,945.8 301.7,945.6 C301.0,945.4 300.2,944.9 299.7,944.3 C299.3,943.7 299.0,942.9 299.0,942.2 C299.0,941.5 299.3,940.7 299.7,940.1 C300.2,939.6 301.0,939.1 301.7,938.8 C302.4,938.6 303.4,938.6 304.1,938.8 C304.8,939.1 305.6,939.6 306.1,940.1 C306.5,940.7 306.8,941.5 306.8,942.2Z"/>
<path fill="#ffd700" d="M283.9,968.0 C283.9,968.4 283.7,968.9 283.4,969.3 C283.1,969.6 282.5,969.9 282.0,970.0 C281.5,970.2 280.9,970.2 280.4,970.0 C279.9,969.9 279.3,969.6 279.0,969.3 C278.7,968.9 278.5,968.4 278.5,968.0 C278.5,967.6 278.7,967.1 279.0,966.7 C279.3,966.4 279.9,966.1 280.4,966.0 C280.9,965.8 281.5,965.8 282.0,966.0 C282.5,966.1 283.1,966.4 283.4,966.7 C283.7,967.1 283.9,967.6 283.9,968.0Z"/>
<path fill="#ffff73" d="M257.6,1093.3 C258.4,1091.1 261.1,1093.5 262.9,1095.1 C264.7,1096.7 267.6,1099.7 268.2,1103.1 C268.8,1106.5 267.6,1112.9 266.4,1115.6 C265.3,1118.2 262.6,1120.3 261.1,1119.1 C259.6,1117.9 258.1,1112.7 257.6,1108.4 C257.0,1104.1 256.7,1095.6 257.6,1093.3Z"/>
<path fill="#ffff73" d="M176.9,1159.6 C176.9,1157.3 177.6,1154.5 179.6,1153.3 C181.5,1152.1 186.1,1151.7 188.4,1152.4 C190.8,1153.2 193.3,1155.7 193.8,1157.8 C194.2,1159.9 192.6,1163.1 191.1,1164.9 C189.6,1166.7 186.8,1168.1 184.9,1168.4 C183.0,1168.7 180.9,1168.1 179.6,1166.7 C178.2,1165.2 176.9,1161.8 176.9,1159.6Z"/>
<path fill="#ffff73" d="M221.9,1152.4 C221.9,1153.4 221.5,1154.6 220.8,1155.4 C220.2,1156.2 219.2,1156.9 218.2,1157.2 C217.2,1157.5 215.9,1157.5 214.9,1157.2 C213.9,1156.9 212.8,1156.2 212.2,1155.4 C211.6,1154.6 211.2,1153.4 211.2,1152.4 C211.2,1151.5 211.6,1150.3 212.2,1149.5 C212.8,1148.7 213.9,1148.0 214.9,1147.7 C215.9,1147.4 217.2,1147.4 218.2,1147.7 C219.2,1148.0 220.2,1148.7 220.8,1149.5 C221.5,1150.3 221.9,1151.5 221.9,1152.4Z"/>
<path fill="#ff9600" d="M383.3,896.5 C385.9,894.4 389.1,894.3 391.0,895.6 C392.9,896.9 394.6,901.2 394.9,904.2 C395.2,907.3 394.6,911.3 392.9,913.9 C391.3,916.4 387.8,917.7 385.2,919.7 C382.7,921.6 379.1,921.9 377.5,925.4 C375.9,929.0 375.6,935.1 375.6,940.8 C375.6,946.6 384.0,956.9 377.5,960.1 C371.1,963.3 341.9,961.1 337.1,960.1 C332.3,959.2 344.1,956.3 348.6,954.3 C353.1,952.4 360.4,951.4 364.0,948.6 C367.7,945.7 369.5,941.5 370.8,937.0 C372.1,932.5 371.0,926.4 371.8,921.6 C372.6,916.8 373.7,912.3 375.6,908.1 C377.5,903.9 380.7,898.6 383.3,896.5Z"/>
<path fill="#ff9600" d="M325.5,947.6 C325.5,948.0 325.4,948.4 325.1,948.7 C324.9,949.0 324.5,949.3 324.2,949.4 C323.8,949.5 323.3,949.5 323.0,949.4 C322.6,949.3 322.2,949.0 322.0,948.7 C321.8,948.4 321.7,948.0 321.7,947.6 C321.7,947.2 321.8,946.8 322.0,946.5 C322.2,946.2 322.6,945.9 323.0,945.8 C323.3,945.6 323.8,945.6 324.2,945.8 C324.5,945.9 324.9,946.2 325.1,946.5 C325.4,946.8 325.5,947.2 325.5,947.6Z"/>
<path fill="#ff9600" d="M373.1,916.4 C370.4,918.8 374.3,925.9 373.1,930.7 C371.9,935.4 369.0,941.3 366.0,944.9 C363.0,948.4 359.5,949.9 355.3,952.0 C351.2,954.1 345.9,955.6 341.1,957.3 C336.4,959.1 331.6,961.5 326.9,962.7 C322.1,963.9 316.5,963.0 312.7,964.4 C308.8,965.9 305.3,968.9 303.8,971.6 C302.3,974.2 302.6,977.5 303.8,980.4 C305.0,983.4 309.6,985.8 310.9,989.3 C312.2,992.9 309.7,1000.3 311.8,1001.8 C313.9,1003.3 318.4,1000.3 323.3,998.2 C328.2,996.1 335.2,992.0 341.1,989.3 C347.0,986.7 353.0,983.6 358.9,982.2 C364.8,980.9 372.2,980.6 376.7,981.3 C381.1,982.1 381.4,987.0 385.6,986.7 C389.7,986.4 398.9,982.4 401.6,979.6 C404.2,976.7 403.3,972.6 401.6,969.8 C399.8,967.0 395.0,964.4 390.9,962.7 C386.7,960.9 379.0,963.3 376.7,959.1 C374.3,955.0 374.6,944.3 376.7,937.8 C378.7,931.3 387.0,923.6 389.1,920.0 C391.2,916.4 391.8,917.0 389.1,916.4 C386.4,915.9 375.8,914.1 373.1,916.4Z"/>
<path fill="#ffd700" d="M371.3,961.8 C371.3,962.5 371.1,963.3 370.7,963.9 C370.2,964.4 369.5,964.9 368.9,965.2 C368.2,965.4 367.3,965.4 366.7,965.2 C366.0,964.9 365.3,964.4 364.9,963.9 C364.5,963.3 364.2,962.5 364.2,961.8 C364.2,961.1 364.5,960.3 364.9,959.7 C365.3,959.1 366.0,958.6 366.7,958.4 C367.3,958.2 368.2,958.2 368.9,958.4 C369.5,958.6 370.2,959.1 370.7,959.7 C371.1,960.3 371.3,961.1 371.3,961.8Z"/>
<path fill="#ffd700" d="M324.8,983.1 C324.8,983.6 324.5,984.2 324.1,984.6 C323.8,985.0 323.1,985.3 322.5,985.5 C321.9,985.6 321.2,985.6 320.6,985.5 C320.0,985.3 319.3,985.0 319.0,984.6 C318.6,984.2 318.4,983.6 318.4,983.1 C318.4,982.6 318.6,982.0 319.0,981.6 C319.3,981.3 320.0,980.9 320.6,980.7 C321.2,980.6 321.9,980.6 322.5,980.7 C323.1,980.9 323.8,981.3 324.1,981.6 C324.5,982.0 324.8,982.6 324.8,983.1Z"/>
<path fill="#ffd700" d="M398.0,975.1 C398.0,975.9 397.7,976.8 397.3,977.4 C396.9,978.0 396.2,978.6 395.5,978.8 C394.9,979.1 394.0,979.1 393.3,978.8 C392.7,978.6 392.0,978.0 391.6,977.4 C391.2,976.8 390.9,975.9 390.9,975.1 C390.9,974.3 391.2,973.4 391.6,972.8 C392.0,972.2 392.7,971.6 393.3,971.4 C394.0,971.2 394.9,971.2 395.5,971.4 C396.2,971.6 396.9,972.2 397.3,972.8 C397.7,973.4 398.0,974.3 398.0,975.1Z"/>
<path fill="#ff9600" d="M325.1,947.6 C325.1,947.9 325.0,948.3 324.8,948.6 C324.6,948.9 324.2,949.1 323.9,949.2 C323.6,949.4 323.1,949.4 322.8,949.2 C322.5,949.1 322.1,948.9 321.9,948.6 C321.7,948.3 321.6,947.9 321.6,947.6 C321.6,947.2 321.7,946.8 321.9,946.5 C322.1,946.2 322.5,946.0 322.8,945.9 C323.1,945.8 323.6,945.8 323.9,945.9 C324.2,946.0 324.6,946.2 324.8,946.5 C325.0,946.8 325.1,947.2 325.1,947.6Z"/>
<path fill="#ff9600" d="M206.9,1040.9 C206.3,1036.7 209.4,1031.1 211.3,1026.7 C213.3,1022.2 215.8,1017.3 218.4,1014.2 C221.1,1011.1 224.4,1008.6 227.3,1008.0 C230.3,1007.4 233.9,1008.7 236.2,1010.7 C238.6,1012.6 241.0,1015.7 241.6,1019.6 C242.1,1023.4 240.4,1029.3 239.8,1033.8 C239.2,1038.2 238.9,1042.7 238.0,1046.2 C237.1,1049.8 236.8,1052.7 234.4,1055.1 C232.1,1057.5 227.0,1061.0 223.8,1060.4 C220.5,1059.9 217.7,1054.8 214.9,1051.6 C212.1,1048.3 207.5,1045.0 206.9,1040.9Z"/>
<path fill="#ff9600" d="M150.0,1060.4 C150.9,1058.1 153.1,1055.1 156.2,1053.3 C159.3,1051.6 164.5,1050.4 168.7,1049.8 C172.8,1049.2 177.6,1048.9 181.1,1049.8 C184.7,1050.7 187.3,1052.7 190.0,1055.1 C192.7,1057.5 195.0,1061.6 197.1,1064.0 C199.2,1066.4 199.8,1069.3 202.4,1069.3 C205.1,1069.3 210.1,1065.2 213.1,1064.0 C216.1,1062.8 218.4,1061.0 220.2,1062.2 C222.0,1063.4 222.0,1068.4 223.8,1071.1 C225.6,1073.8 227.3,1076.7 230.9,1078.2 C234.4,1079.7 242.4,1077.9 245.1,1080.0 C247.8,1082.1 246.9,1086.5 246.9,1090.7 C246.9,1094.8 244.5,1100.1 245.1,1104.9 C245.7,1109.6 247.8,1115.6 250.4,1119.1 C253.1,1122.7 257.9,1123.9 261.1,1126.2 C264.4,1128.6 268.5,1124.7 270.0,1133.3 C271.5,1141.9 276.2,1170.8 270.0,1177.8 C263.8,1184.8 240.2,1176.0 232.8,1175.5 C225.5,1174.9 227.8,1175.8 225.7,1174.6 C223.7,1173.4 221.0,1170.6 220.4,1168.4 C219.8,1166.1 220.4,1163.9 222.2,1161.2 C224.0,1158.6 228.7,1155.3 231.1,1152.4 C233.4,1149.4 237.0,1145.2 236.4,1143.5 C235.8,1141.7 231.4,1142.6 227.5,1141.7 C223.7,1140.8 218.0,1138.7 213.3,1138.1 C208.5,1137.5 203.2,1137.5 199.1,1138.1 C194.9,1138.8 191.8,1142.7 188.2,1142.2 C184.6,1141.7 181.1,1137.8 177.6,1135.1 C174.0,1132.4 169.6,1129.5 166.9,1126.2 C164.2,1123.0 163.3,1119.7 161.6,1115.6 C159.8,1111.4 156.2,1106.1 156.2,1101.3 C156.2,1096.6 161.3,1091.3 161.6,1087.1 C161.9,1083.0 159.8,1079.7 158.0,1076.4 C156.2,1073.2 152.2,1070.2 150.9,1067.6 C149.6,1064.9 149.1,1062.8 150.0,1060.4Z"/>
<path fill="#ff9600" d="M236.4,1143.6 C235.6,1145.0 233.5,1149.5 231.1,1152.4 C228.7,1155.4 224.0,1158.7 222.2,1161.3 C220.4,1164.0 219.9,1166.2 220.4,1168.4 C221.0,1170.7 223.7,1173.5 225.8,1174.7 C227.9,1175.9 231.7,1175.4 232.9,1175.6 L248.9,1166.7 L257.8,1143.6Z"/>
<path fill="#ffd700" d="M209.8,1115.1 C209.9,1113.0 211.0,1110.5 213.3,1108.9 C215.7,1107.3 220.4,1105.8 224.0,1105.3 C227.6,1104.9 232.4,1105.0 234.7,1106.2 C236.9,1107.4 237.9,1110.2 237.3,1112.4 C236.7,1114.7 233.9,1117.9 231.1,1119.6 C228.3,1121.2 223.6,1121.9 220.4,1122.2 C217.3,1122.5 214.2,1122.5 212.4,1121.3 C210.7,1120.1 209.6,1117.2 209.8,1115.1Z"/>
<path fill="#ffff73" d="M229.3,1114.2 C229.3,1114.8 229.0,1115.5 228.5,1116.0 C228.0,1116.5 227.1,1116.9 226.3,1117.1 C225.4,1117.3 224.3,1117.3 223.5,1117.1 C222.7,1116.9 221.8,1116.5 221.3,1116.0 C220.8,1115.5 220.4,1114.8 220.4,1114.2 C220.4,1113.6 220.8,1112.9 221.3,1112.4 C221.8,1112.0 222.7,1111.5 223.5,1111.3 C224.3,1111.2 225.4,1111.2 226.3,1111.3 C227.1,1111.5 228.0,1112.0 228.5,1112.4 C229.0,1112.9 229.3,1113.6 229.3,1114.2Z"/>
<path fill="#ffd700" d="M237.3,1143.6 C237.0,1141.5 241.3,1139.0 243.6,1138.2 C245.8,1137.5 249.2,1137.6 250.7,1139.1 C252.1,1140.6 253.3,1145.2 252.4,1147.1 C251.6,1149.0 247.9,1151.3 245.3,1150.7 C242.8,1150.1 237.6,1145.6 237.3,1143.6Z"/>
<path fill="#ffff73" d="M251.0,1146.2 C251.0,1146.6 250.9,1147.1 250.6,1147.5 C250.4,1147.8 249.9,1148.1 249.5,1148.3 C249.2,1148.4 248.6,1148.4 248.2,1148.3 C247.8,1148.1 247.4,1147.8 247.2,1147.5 C246.9,1147.1 246.8,1146.6 246.8,1146.2 C246.8,1145.8 246.9,1145.3 247.2,1145.0 C247.4,1144.6 247.8,1144.3 248.2,1144.2 C248.6,1144.1 249.2,1144.1 249.5,1144.2 C249.9,1144.3 250.4,1144.6 250.6,1145.0 C250.9,1145.3 251.0,1145.8 251.0,1146.2Z"/>
<path fill="#ff9600" d="M146.8,1090.2 C146.8,1091.1 146.7,1092.1 146.4,1092.8 C146.1,1093.5 145.6,1094.2 145.1,1094.4 C144.7,1094.7 144.1,1094.7 143.6,1094.4 C143.1,1094.2 142.6,1093.5 142.3,1092.8 C142.1,1092.1 141.9,1091.1 141.9,1090.2 C141.9,1089.4 142.1,1088.3 142.3,1087.6 C142.6,1086.9 143.1,1086.3 143.6,1086.0 C144.1,1085.7 144.7,1085.7 145.1,1086.0 C145.6,1086.3 146.1,1086.9 146.4,1087.6 C146.7,1088.3 146.8,1089.4 146.8,1090.2Z"/>
<path fill="#ff9600" d="M268.2,1067.6 C268.4,1065.5 270.0,1062.2 271.8,1060.4 C273.6,1058.7 276.5,1056.9 278.9,1056.9 C281.3,1056.9 284.8,1057.5 286.0,1060.4 C287.2,1063.4 287.2,1072.0 286.0,1074.7 C284.8,1077.3 281.4,1076.7 278.9,1076.4 C276.4,1076.1 272.7,1074.4 270.9,1072.9 C269.1,1071.4 268.1,1069.6 268.2,1067.6Z"/>
<path fill="#ff9600" d="M277.1,1035.6 C278.4,1033.5 283.8,1030.5 286.0,1030.2 C288.2,1029.9 290.4,1031.4 290.4,1033.8 C290.4,1036.1 287.6,1042.1 286.0,1044.4 C284.4,1046.8 282.0,1048.3 280.7,1048.0 C279.3,1047.7 278.6,1044.7 278.0,1042.7 C277.4,1040.6 275.8,1037.6 277.1,1035.6Z"/>
<path fill="#ff9600" d="M286.9,1019.6 C287.6,1018.1 291.8,1016.0 293.1,1016.0 C294.4,1016.0 295.6,1018.1 294.9,1019.6 C294.1,1021.0 290.0,1024.9 288.7,1024.9 C287.3,1024.9 286.1,1021.0 286.9,1019.6Z"/>
<path fill="#ff9600" d="M146.4,1090.1 C146.4,1091.0 146.2,1092.0 145.9,1092.7 C145.6,1093.5 145.1,1094.1 144.6,1094.4 C144.1,1094.6 143.5,1094.6 143.0,1094.4 C142.5,1094.1 141.9,1093.5 141.6,1092.7 C141.3,1092.0 141.1,1091.0 141.1,1090.1 C141.1,1089.3 141.3,1088.2 141.6,1087.5 C141.9,1086.8 142.5,1086.2 143.0,1085.9 C143.5,1085.6 144.1,1085.6 144.6,1085.9 C145.1,1086.2 145.6,1086.8 145.9,1087.5 C146.2,1088.2 146.4,1089.3 146.4,1090.1Z"/>
<path fill="#ffff73" d="M222.0,1152.0 C222.0,1152.9 221.6,1153.9 221.0,1154.6 C220.4,1155.3 219.3,1156.0 218.3,1156.2 C217.3,1156.5 216.0,1156.5 215.0,1156.2 C214.0,1156.0 213.0,1155.3 212.4,1154.6 C211.7,1153.9 211.3,1152.9 211.3,1152.0 C211.3,1151.1 211.7,1150.1 212.4,1149.4 C213.0,1148.7 214.0,1148.0 215.0,1147.8 C216.0,1147.5 217.3,1147.5 218.3,1147.8 C219.3,1148.0 220.4,1148.7 221.0,1149.4 C221.6,1150.1 222.0,1151.1 222.0,1152.0Z"/>
<path fill="#ffff73" d="M250.8,1145.8 C250.8,1146.2 250.6,1146.7 250.4,1147.0 C250.1,1147.4 249.7,1147.7 249.3,1147.8 C248.9,1147.9 248.4,1147.9 248.0,1147.8 C247.6,1147.7 247.2,1147.4 246.9,1147.0 C246.7,1146.7 246.5,1146.2 246.5,1145.8 C246.5,1145.4 246.7,1144.9 246.9,1144.5 C247.2,1144.2 247.6,1143.9 248.0,1143.7 C248.4,1143.6 248.9,1143.6 249.3,1143.7 C249.7,1143.9 250.1,1144.2 250.4,1144.5 C250.6,1144.9 250.8,1145.4 250.8,1145.8Z"/>
<path fill="#ffff73" d="M177.6,1156.4 C178.7,1153.8 182.0,1152.9 184.7,1152.9 C187.3,1152.9 192.4,1153.8 193.6,1156.4 C194.7,1159.1 194.4,1166.8 191.8,1168.9 C189.1,1171.0 179.9,1171.0 177.6,1168.9 C175.2,1166.8 176.4,1159.1 177.6,1156.4Z"/>
<path fill="#e13c00" d="M168.7,1074.7 C169.9,1071.9 173.6,1071.6 175.8,1070.2 C178.0,1068.9 180.2,1066.2 182.0,1066.7 C183.8,1067.1 184.5,1071.1 186.4,1072.9 C188.4,1074.7 190.9,1076.4 193.6,1077.3 C196.2,1078.2 199.5,1078.2 202.4,1078.2 C205.4,1078.2 209.0,1076.4 211.3,1077.3 C213.7,1078.2 214.3,1081.9 216.7,1083.6 C219.0,1085.2 223.0,1085.6 225.6,1087.1 C228.1,1088.6 231.2,1090.7 231.8,1092.4 C232.4,1094.2 231.0,1096.3 229.1,1097.8 C227.2,1099.3 222.9,1101.0 220.2,1101.3 C217.6,1101.6 214.9,1101.3 213.1,1099.6 C211.3,1097.8 210.7,1093.0 209.6,1090.7 C208.4,1088.3 207.8,1086.4 206.0,1085.3 C204.2,1084.3 200.7,1083.6 198.9,1084.4 C197.1,1085.3 195.6,1088.1 195.3,1090.7 C195.0,1093.2 196.5,1096.9 197.1,1099.6 C197.7,1102.2 200.4,1104.3 198.9,1106.7 C197.4,1109.0 191.8,1111.9 188.2,1113.8 C184.7,1115.7 180.2,1118.5 177.6,1118.2 C174.9,1117.9 173.3,1115.1 172.2,1112.0 C171.2,1108.9 171.9,1103.7 171.3,1099.6 C170.7,1095.4 169.1,1091.3 168.7,1087.1 C168.2,1083.0 167.5,1077.5 168.7,1074.7Z"/>
<path fill="#ff9600" d="M206.9,1090.3 C206.9,1091.4 206.5,1092.8 205.9,1093.7 C205.3,1094.6 204.2,1095.4 203.2,1095.7 C202.2,1096.1 200.9,1096.1 199.9,1095.7 C198.9,1095.4 197.9,1094.6 197.2,1093.7 C196.6,1092.8 196.2,1091.4 196.2,1090.3 C196.2,1089.2 196.6,1087.9 197.2,1087.0 C197.9,1086.1 198.9,1085.2 199.9,1084.9 C200.9,1084.6 202.2,1084.6 203.2,1084.9 C204.2,1085.2 205.3,1086.1 205.9,1087.0 C206.5,1087.9 206.9,1089.2 206.9,1090.3Z"/>
<path fill="#ffd700" d="M203.0,1091.2 C203.0,1091.5 202.9,1091.8 202.7,1092.0 C202.5,1092.3 202.3,1092.5 202.0,1092.6 C201.7,1092.6 201.4,1092.6 201.1,1092.6 C200.9,1092.5 200.6,1092.3 200.4,1092.0 C200.2,1091.8 200.1,1091.5 200.1,1091.2 C200.1,1090.9 200.2,1090.6 200.4,1090.4 C200.6,1090.1 200.9,1089.9 201.1,1089.8 C201.4,1089.8 201.7,1089.8 202.0,1089.8 C202.3,1089.9 202.5,1090.1 202.7,1090.4 C202.9,1090.6 203.0,1090.9 203.0,1091.2Z"/>
<path fill="#e13c00" d="M231.1,1163.1 C231.6,1161.6 234.5,1158.8 235.6,1158.7 C236.6,1158.5 237.8,1160.7 237.3,1162.2 C236.9,1163.7 233.9,1167.4 232.9,1167.6 C231.9,1167.7 230.7,1164.6 231.1,1163.1Z"/>
<path fill="#64be00" d="M88.9,1223.6 L109.3,1225.3 L108.8,1234.2 L99.6,1245.8 L94.2,1241.3Z"/>
<path fill="#ffff73" d="M123.0,1254.7 C123.0,1255.3 122.8,1256.0 122.5,1256.5 C122.3,1257.1 121.8,1257.5 121.3,1257.7 C120.8,1257.9 120.2,1257.9 119.8,1257.7 C119.3,1257.5 118.8,1257.1 118.5,1256.5 C118.2,1256.0 118.0,1255.3 118.0,1254.7 C118.0,1254.0 118.2,1253.3 118.5,1252.8 C118.8,1252.3 119.3,1251.8 119.8,1251.6 C120.2,1251.4 120.8,1251.4 121.3,1251.6 C121.8,1251.8 122.3,1252.3 122.5,1252.8 C122.8,1253.3 123.0,1254.0 123.0,1254.7Z"/>
</g>
<path fill="#fff" stroke="#6e6e6e" d="M494.2,421.3 L499.1,419.1 L504.4,415.6 L508.0,413.8 L513.3,414.7 L516.0,418.2 L517.8,422.7 L521.3,425.3 L520.4,428.0 L515.1,428.0 L511.6,426.2 L508.0,428.0 L504.4,429.8 L503.6,434.2 L501.8,428.9 L499.1,425.3 L495.6,423.1Z"/><path fill="#fff" stroke="#6e6e6e" d="M511.1,402.2 L515.1,401.3 L521.3,403.6 L525.8,406.7 L531.1,408.0 L535.6,409.8 L533.8,412.2 L527.6,411.6 L522.2,410.2 L516.9,408.0 L512.4,405.8Z"/><path fill="#fff" stroke="#6e6e6e" d="M455.4,727.8 L456.9,731.3 L461.5,737.6 L457.9,740.8 L454.4,738.4 L450.8,738.4 L452.0,733.7Z"/><path fill="#fff" stroke="#6e6e6e" d="M462.8,738.7 L465.0,742.3 L470.4,746.7 L465.6,745.6 L461.8,743.2Z"/><path fill="#fff" stroke="#6e6e6e" d="M475.2,748.6 L479.3,753.9 L480.0,755.7 L474.6,752.8Z"/><path fill="#fff" stroke="#6e6e6e" d="M409.1,247.8 L412.0,243.9 L415.9,244.9 L416.8,249.7 L413.0,253.6 L409.1,251.7Z"/><path fill="#fff" stroke="#6e6e6e" d="M486.2,318.1 L492.9,317.2 L497.8,322.9 L492.9,322.9Z"/><path fill="#fff" stroke="#6e6e6e" d="M588.2,464.9 L590.9,464.0 L595.3,471.1 L592.7,472.9Z"/><path fill="#fff" stroke="#6e6e6e" d="M506.2,769.8 L508.9,767.1 L511.6,769.8 L510.7,774.2 L507.1,775.1Z"/><path fill="#fff" stroke="#6e6e6e" d="M530.9,351.8 L534.4,350.5 L535.3,353.8 L532.4,356.1Z"/><path fill="#fff" stroke="#6e6e6e" d="M512.1,502.2 L514.4,500.4 L515.3,504.9 L513.2,506.3Z"/>
<use href="#grey"/><use href="#wd"/><use href="#fj"/>
<use href="#coast"/>
</g>
<g transform="translate(1510,0)">
<g clip-path="url(#land)">
<rect x="0" y="150" width="800" height="1150" fill="#aaeb1e"/>
<path fill="#ffff73" d="M360.0,190.0 L610.5,190.0 L610.5,459.7 L545.0,459.7 L545.0,427.0 L494.9,417.4 L456.3,363.4 L360.0,247.8Z"/>
<path fill="#64be00" d="M367.7,201.6 C371.2,198.3 393.7,196.7 398.5,199.6 C403.4,202.5 395.6,213.1 396.6,218.9 C397.6,224.7 401.7,229.8 404.3,234.3 C406.9,238.8 409.8,243.3 412.0,245.9 C414.3,248.4 415.6,248.4 417.8,249.7 C420.1,251.0 422.9,252.0 425.5,253.6 C428.1,255.2 431.8,257.1 433.2,259.4 C434.7,261.6 434.8,264.5 434.2,267.1 C433.5,269.6 431.5,272.9 429.4,274.8 C427.3,276.7 424.2,277.7 421.7,278.6 C419.1,279.6 416.2,280.9 413.9,280.6 C411.7,280.2 409.8,278.3 408.2,276.7 C406.6,275.1 406.2,272.2 404.3,270.9 C402.4,269.6 396.6,270.3 396.6,269.0 C396.6,267.7 402.9,265.5 404.3,263.2 C405.8,261.0 405.9,258.1 405.3,255.5 C404.6,252.9 403.2,251.7 400.5,247.8 C397.7,243.9 392.8,237.2 388.9,232.4 C385.0,227.6 380.9,224.0 377.3,218.9 C373.8,213.8 364.2,204.8 367.7,201.6Z"/>
<path fill="#aaeb1e" d="M404.3,274.8 C405.6,274.1 413.9,280.2 417.8,280.6 C421.7,280.9 424.5,279.0 427.4,276.7 C430.3,274.5 433.9,270.0 435.1,267.1 C436.4,264.2 433.9,261.0 435.1,259.4 C436.4,257.8 440.3,257.1 442.9,257.4 C445.4,257.8 448.6,259.7 450.6,261.3 C452.5,262.9 454.1,264.5 454.4,267.1 C454.7,269.6 453.8,274.1 452.5,276.7 C451.2,279.3 448.3,280.6 446.7,282.5 C445.1,284.4 443.2,286.0 442.9,288.3 C442.5,290.5 443.5,293.7 444.8,296.0 C446.1,298.2 449.4,299.5 450.6,301.8 C451.7,304.0 452.2,306.9 451.5,309.5 C450.9,312.0 448.8,315.2 446.7,317.2 C444.6,319.1 441.6,321.3 439.0,321.0 C436.4,320.7 433.9,317.8 431.3,315.2 C428.7,312.7 425.8,308.8 423.6,305.6 C421.3,302.4 420.1,299.5 417.8,296.0 C415.6,292.4 412.3,287.9 410.1,284.4 C407.8,280.9 403.0,275.4 404.3,274.8Z"/>
<path fill="#64be00" d="M405.3,274.8 C407.2,276.9 412.5,279.4 415.9,279.6 C419.2,279.8 422.7,277.8 425.5,275.7 C428.3,273.7 431.5,269.6 432.8,267.1 C434.1,264.5 434.4,262.4 433.2,260.3 C432.0,258.2 428.1,256.2 425.5,254.5 C422.9,252.9 420.7,250.4 417.8,250.7 C414.9,251.0 410.4,253.7 408.2,256.5 C405.9,259.2 404.8,264.0 404.3,267.1 C403.8,270.1 403.4,272.7 405.3,274.8Z"/>
<path fill="#009600" d="M373.5,209.3 C373.8,207.5 377.5,206.1 379.3,206.4 C381.0,206.7 383.6,209.3 384.1,211.2 C384.6,213.1 383.3,217.0 382.2,217.9 C381.0,218.9 378.8,218.4 377.3,217.0 C375.9,215.5 373.2,211.0 373.5,209.3Z"/>
<path fill="#009600" d="M409.1,271.9 C408.7,270.3 411.5,265.6 413.0,263.2 C414.4,260.8 415.9,258.6 417.8,257.4 C419.7,256.3 423.1,255.7 424.5,256.5 C426.0,257.3 426.8,260.2 426.5,262.3 C426.2,264.3 424.4,267.2 422.6,269.0 C420.9,270.8 418.1,272.4 415.9,272.9 C413.6,273.3 409.6,273.5 409.1,271.9Z"/>
<path fill="#64be00" d="M419.7,297.9 C419.6,295.8 423.3,293.7 425.5,293.1 C427.8,292.4 431.0,292.9 433.2,294.0 C435.5,295.2 437.4,297.6 439.0,299.8 C440.6,302.1 442.9,305.4 442.9,307.5 C442.9,309.6 440.6,311.9 439.0,312.4 C437.4,312.8 435.3,311.5 433.2,310.4 C431.1,309.3 428.7,307.7 426.5,305.6 C424.2,303.5 419.9,300.0 419.7,297.9Z"/>
<path fill="#64be00" d="M446.7,269.6 C446.7,270.1 446.4,270.8 446.0,271.3 C445.6,271.7 445.0,272.1 444.3,272.3 C443.7,272.5 442.8,272.5 442.2,272.3 C441.5,272.1 440.8,271.7 440.4,271.3 C440.0,270.8 439.8,270.1 439.8,269.6 C439.8,269.0 440.0,268.3 440.4,267.9 C440.8,267.4 441.5,267.0 442.2,266.8 C442.8,266.7 443.7,266.7 444.3,266.8 C445.0,267.0 445.6,267.4 446.0,267.9 C446.4,268.3 446.7,269.0 446.7,269.6Z"/>
<path fill="#aaeb1e" d="M465.0,330.7 C464.0,328.1 463.6,325.2 464.0,322.9 C464.5,320.7 466.3,318.6 467.9,317.2 C469.5,315.7 472.4,313.6 473.7,314.3 C475.0,314.9 474.0,319.3 475.6,321.0 C477.2,322.8 480.7,323.8 483.3,324.9 C485.9,326.0 489.4,325.8 491.0,327.8 C492.6,329.7 493.6,334.0 492.9,336.4 C492.3,338.8 489.7,341.1 487.2,342.2 C484.6,343.3 480.4,343.8 477.5,343.2 C474.6,342.5 471.9,340.4 469.8,338.4 C467.7,336.3 466.0,333.2 465.0,330.7Z"/>
<path fill="#aaeb1e" d="M494.9,363.4 C495.8,361.0 498.7,360.7 500.7,360.5 C502.6,360.4 505.3,360.7 506.4,362.4 C507.6,364.2 507.9,368.1 507.4,371.1 C506.9,374.2 505.0,378.8 503.5,380.8 C502.1,382.7 500.2,383.6 498.7,382.7 C497.3,381.7 495.5,378.2 494.9,375.0 C494.2,371.8 493.9,365.8 494.9,363.4Z"/>
<path fill="#aaeb1e" d="M471.8,373.0 C471.4,371.3 473.7,370.5 475.6,372.1 C477.5,373.7 480.7,379.6 483.3,382.7 C485.9,385.7 488.5,388.5 491.0,390.4 C493.6,392.3 496.6,394.6 498.7,394.2 C500.8,393.9 502.3,388.5 503.5,388.5 C504.8,388.5 506.6,392.0 506.4,394.2 C506.3,396.5 503.7,399.1 502.6,401.9 C501.5,404.8 501.0,408.4 499.7,411.6 C498.4,414.8 496.0,419.6 494.9,421.2 C493.8,422.8 493.9,423.8 492.9,421.2 C492.0,418.6 490.7,410.6 489.1,405.8 C487.5,401.0 485.2,396.2 483.3,392.3 C481.4,388.5 479.5,385.9 477.5,382.7 C475.6,379.5 472.1,374.8 471.8,373.0Z"/>
<path fill="#64be00" d="M489.1,407.7 C489.7,406.1 492.9,404.5 494.9,404.8 C496.8,405.2 499.9,407.7 500.7,409.7 C501.5,411.6 500.8,414.8 499.7,416.4 C498.6,418.0 495.4,419.6 493.9,419.3 C492.5,419.0 491.8,416.4 491.0,414.5 C490.2,412.5 488.5,409.3 489.1,407.7Z"/>
<path fill="#009600" d="M495.6,413.5 C495.6,413.8 495.5,414.1 495.3,414.3 C495.1,414.5 494.8,414.7 494.4,414.8 C494.1,414.9 493.7,414.9 493.4,414.8 C493.1,414.7 492.7,414.5 492.5,414.3 C492.3,414.1 492.2,413.8 492.2,413.5 C492.2,413.2 492.3,412.9 492.5,412.7 C492.7,412.5 493.1,412.3 493.4,412.2 C493.7,412.1 494.1,412.1 494.4,412.2 C494.8,412.3 495.1,412.5 495.3,412.7 C495.5,412.9 495.6,413.2 495.6,413.5Z"/>
<path fill="#ffd700" d="M464.0,277.7 C464.0,277.0 467.9,280.4 469.8,280.6 C471.8,280.7 473.6,277.9 475.6,278.6 C477.6,279.3 481.5,283.6 481.8,284.8 C482.1,286.0 479.5,285.8 477.5,285.8 C475.5,285.7 472.1,285.8 469.8,284.4 C467.6,283.1 464.0,278.3 464.0,277.7Z"/>
<path fill="#ffd700" d="M569.1,401.9 C569.2,400.7 572.2,397.8 573.9,397.1 C575.6,396.5 579.4,396.8 579.3,398.1 C579.1,399.4 574.6,404.2 572.9,404.8 C571.2,405.5 568.9,403.2 569.1,401.9Z"/>
<path fill="#ffd700" d="M574.3,407.7 C574.6,406.4 577.6,405.5 578.7,406.8 C579.7,408.0 580.9,414.1 580.6,415.4 C580.3,416.7 577.8,415.8 576.8,414.5 C575.7,413.2 573.9,409.0 574.3,407.7Z"/>
<path fill="#ffd700" d="M552.7,342.2 L555.6,340.3 L563.9,362.4 L560.4,363.4Z"/>
<path fill="#ffd700" d="M533.4,399.1 C534.4,397.9 539.0,397.0 540.2,398.1 C541.3,399.2 541.1,404.7 540.2,405.8 C539.2,406.9 535.5,406.0 534.4,404.8 C533.2,403.7 532.4,400.2 533.4,399.1Z"/>
<path fill="#aaeb1e" d="M483.3,417.2 C494.0,417.2 536.7,414.2 547.3,417.2 C558.0,420.3 546.1,431.6 547.3,435.6 C548.5,439.5 551.5,440.9 554.4,440.9 C557.4,440.9 563.0,437.9 565.1,435.6 C567.2,433.2 565.7,428.4 566.9,426.7 C568.1,424.9 569.9,423.4 572.2,424.9 C574.6,426.4 578.7,429.9 581.1,435.6 C583.5,441.2 585.0,451.3 586.4,458.7 C587.9,466.1 587.2,474.4 590.0,480.0 C592.8,485.6 601.6,489.2 603.3,492.4 C605.1,495.7 601.4,496.6 600.7,499.6 C599.9,502.5 599.5,506.7 598.9,510.2 C598.3,513.8 599.2,517.9 597.1,520.9 C595.0,523.9 588.8,525.0 586.4,528.0 C584.1,531.0 583.8,534.8 582.9,538.7 C582.0,542.5 582.3,547.6 581.1,551.1 C579.9,554.7 576.4,556.7 575.8,560.0 C575.2,563.3 576.1,568.0 577.6,570.7 C579.0,573.3 581.1,576.0 584.7,576.0 C588.2,576.0 595.6,571.9 598.9,570.7 C602.1,569.5 603.0,567.7 604.2,568.9 C605.4,570.1 606.0,574.5 606.0,577.8 C606.0,581.0 604.2,584.9 604.2,588.4 C604.2,592.0 606.0,595.0 606.0,599.1 C606.0,603.3 605.4,609.2 604.2,613.3 C603.0,617.5 599.8,619.6 598.9,624.0 C598.0,628.4 598.6,635.9 598.9,640.0 C599.2,644.1 600.4,647.4 600.7,648.9 L430.0,648.9 L430.0,488.9Z"/>
<path fill="#ffff73" d="M545.6,436.4 C545.6,435.4 551.6,440.0 554.4,440.0 C557.3,440.0 560.4,438.4 562.4,436.4 C564.5,434.5 565.6,430.1 566.9,428.4 C568.2,426.8 570.3,424.9 570.4,426.7 C570.6,428.4 568.7,434.7 567.8,439.1 C566.9,443.6 566.0,450.4 565.1,453.3 C564.2,456.3 564.2,458.1 562.4,456.9 C560.7,455.7 557.3,449.6 554.4,446.2 C551.6,442.8 545.6,437.5 545.6,436.4Z"/>
<path fill="#ffff73" d="M562.4,456.9 C563.6,455.1 563.5,451.9 565.1,453.3 C566.7,454.8 569.9,461.9 572.2,465.8 C574.6,469.6 577.8,472.6 579.3,476.4 C580.9,480.3 581.5,485.0 581.5,488.9 C581.5,492.7 580.9,496.9 579.3,499.6 C577.8,502.2 574.1,502.8 572.2,504.9 C570.3,507.0 568.7,512.3 567.8,512.0 C566.8,511.7 567.6,505.6 566.5,503.1 C565.5,500.6 563.6,498.4 561.6,496.9 C559.5,495.4 556.0,496.1 554.4,494.2 C552.9,492.3 552.2,488.6 552.3,485.3 C552.5,482.1 554.4,478.2 555.3,474.7 C556.3,471.1 556.8,467.0 558.0,464.0 C559.2,461.0 561.3,458.7 562.4,456.9Z"/>
<path fill="#aaeb1e" d="M565.5,484.4 C565.5,484.7 565.3,485.1 565.1,485.3 C564.8,485.5 564.4,485.7 564.0,485.8 C563.6,485.9 563.1,485.9 562.7,485.8 C562.3,485.7 561.9,485.5 561.6,485.3 C561.4,485.1 561.2,484.7 561.2,484.4 C561.2,484.2 561.4,483.8 561.6,483.6 C561.9,483.4 562.3,483.2 562.7,483.1 C563.1,483.0 563.6,483.0 564.0,483.1 C564.4,483.2 564.8,483.4 565.1,483.6 C565.3,483.8 565.5,484.2 565.5,484.4Z"/>
<path fill="#ffff73" d="M536.7,417.2 L547.3,417.2 L547.3,432.0 L542.0,424.9Z"/>
<path fill="#ffff73" d="M495.8,419.6 C496.1,418.4 499.0,419.0 501.1,421.3 C503.2,423.7 507.6,431.4 508.2,433.8 C508.8,436.1 506.1,436.4 504.7,435.6 C503.2,434.7 500.8,431.1 499.3,428.4 C497.9,425.8 495.5,420.7 495.8,419.6Z"/>
<path fill="#64be00" d="M525.1,428.4 C525.0,426.5 526.1,423.7 527.8,422.2 C529.4,420.7 532.8,419.4 534.9,419.6 C537.0,419.7 539.3,421.3 540.2,423.1 C541.1,424.9 541.1,428.3 540.2,430.2 C539.3,432.1 536.8,434.1 534.9,434.7 C533.0,435.3 530.3,434.8 528.7,433.8 C527.0,432.7 525.3,430.4 525.1,428.4Z"/>
<path fill="#64be00" d="M553.0,456.0 C553.0,456.7 552.7,457.5 552.3,458.1 C551.8,458.7 551.0,459.2 550.3,459.4 C549.6,459.6 548.6,459.6 547.9,459.4 C547.2,459.2 546.4,458.7 545.9,458.1 C545.5,457.5 545.2,456.7 545.2,456.0 C545.2,455.3 545.5,454.5 545.9,453.9 C546.4,453.3 547.2,452.8 547.9,452.6 C548.6,452.4 549.6,452.4 550.3,452.6 C551.0,452.8 551.8,453.3 552.3,453.9 C552.7,454.5 553.0,455.3 553.0,456.0Z"/>
<path fill="#64be00" d="M579.6,453.6 C579.9,455.2 580.1,457.1 580.0,458.5 C580.0,459.9 579.7,461.4 579.4,462.3 C579.0,463.1 578.4,463.7 577.8,463.9 C577.2,464.0 576.5,463.6 575.9,462.9 C575.2,462.2 574.5,460.9 573.9,459.6 C573.4,458.2 572.9,456.4 572.6,454.8 C572.3,453.2 572.2,451.4 572.3,449.9 C572.3,448.5 572.5,447.1 572.9,446.2 C573.3,445.3 573.9,444.7 574.4,444.6 C575.0,444.5 575.8,444.9 576.4,445.6 C577.1,446.3 577.8,447.5 578.3,448.9 C578.9,450.2 579.4,452.0 579.6,453.6Z"/>
<path fill="#64be00" d="M488.7,408.9 C489.7,406.8 495.5,404.7 497.6,405.3 C499.6,405.9 501.1,410.4 501.1,412.4 C501.1,414.5 499.2,416.9 497.6,417.8 C495.9,418.7 492.8,419.3 491.3,417.8 C489.9,416.3 487.6,411.0 488.7,408.9Z"/>
<path fill="#64be00" d="M501.1,426.7 C502.1,428.4 505.3,435.9 507.3,437.3 C509.4,438.8 511.3,435.0 513.6,435.6 C515.8,436.1 518.6,438.2 520.7,440.9 C522.7,443.6 524.2,448.0 526.0,451.6 C527.8,455.1 529.3,459.3 531.3,462.2 C533.4,465.2 536.7,466.7 538.4,469.3 C540.2,472.0 541.7,475.0 542.0,478.2 C542.3,481.5 541.1,485.3 540.2,488.9 C539.3,492.4 537.6,496.0 536.7,499.6 C535.8,503.1 534.3,507.3 534.9,510.2 C535.5,513.2 537.3,515.6 540.2,517.3 C543.2,519.1 549.1,519.7 552.7,520.9 C556.2,522.1 559.2,522.1 561.6,524.4 C563.9,526.8 565.4,531.3 566.9,535.1 C568.4,539.0 570.1,543.4 570.4,547.6 C570.7,551.7 568.4,555.9 568.7,560.0 C569.0,564.1 570.4,568.6 572.2,572.4 C574.0,576.3 577.3,579.3 579.3,583.1 C581.4,587.0 583.7,592.7 584.7,595.6 C585.7,598.4 585.5,597.2 585.3,600.0 C585.1,602.8 584.7,608.6 583.6,612.4 C582.4,616.3 580.6,620.4 578.2,623.1 C575.9,625.8 572.6,627.0 569.3,628.4 C566.1,629.9 562.8,630.8 558.7,632.0 C554.5,633.2 548.6,634.1 544.4,635.6 C540.3,637.0 537.0,638.8 533.8,640.9 C530.5,643.0 527.9,646.2 524.9,648.0 C521.9,649.8 518.7,651.6 516.0,651.6 C513.3,651.6 511.0,649.5 508.9,648.0 C506.8,646.5 505.9,643.0 503.6,642.7 C501.2,642.4 497.9,646.2 494.7,646.2 C491.4,646.2 486.7,644.4 484.0,642.7 C481.3,640.9 481.9,637.3 478.7,635.6 C475.4,633.8 469.8,634.7 464.4,632.0 C459.1,629.3 451.1,624.0 446.7,619.6 C442.2,615.1 439.3,607.7 437.8,605.3 L430.0,595.6 L430.0,577.8 L483.3,560.0 L492.2,488.9Z"/>
<path fill="#009600" d="M510.0,467.6 C511.2,466.7 514.4,462.5 517.1,462.2 C519.8,461.9 523.5,464.0 526.0,465.8 C528.5,467.6 530.7,469.9 532.2,472.9 C533.7,475.9 534.7,479.7 534.9,483.6 C535.0,487.4 533.9,492.1 533.1,496.0 C532.4,499.9 531.0,503.1 530.4,506.7 C529.9,510.2 529.1,514.1 529.6,517.3 C530.0,520.6 530.7,523.9 533.1,526.2 C535.5,528.6 540.5,529.8 543.8,531.6 C547.0,533.3 550.7,534.5 552.7,536.9 C554.6,539.3 555.3,542.8 555.3,545.8 C555.3,548.7 554.6,552.3 552.7,554.7 C550.7,557.0 546.4,558.8 543.8,560.0 C541.1,561.2 538.7,561.6 536.7,561.8 C534.6,561.9 531.6,560.3 531.3,560.9 C531.0,561.5 532.8,564.7 534.9,565.3 C537.0,565.9 540.5,563.6 543.8,564.4 C547.0,565.3 550.9,567.9 554.4,570.7 C558.0,573.5 562.4,577.8 565.1,581.3 C567.8,584.9 569.4,588.1 570.4,592.0 C571.5,595.9 571.8,601.6 571.3,604.4 C570.9,607.3 569.7,606.7 567.6,608.9 C565.4,611.1 562.5,615.4 558.7,617.8 C554.8,620.1 548.3,621.0 544.4,623.1 C540.6,625.2 538.5,627.9 535.6,630.2 C532.6,632.6 529.6,635.6 526.7,637.3 C523.7,639.1 519.6,641.2 517.8,640.9 C516.0,640.6 515.1,637.3 516.0,635.6 C516.9,633.8 521.6,632.6 523.1,630.2 C524.6,627.9 525.5,623.7 524.9,621.3 C524.3,619.0 521.9,616.6 519.6,616.0 C517.2,615.4 513.0,616.3 510.7,617.8 C508.3,619.3 506.5,622.2 505.3,624.9 C504.1,627.6 504.7,631.1 503.6,633.8 C502.4,636.4 500.3,639.7 498.2,640.9 C496.1,642.1 494.1,642.1 491.1,640.9 C488.1,639.7 483.4,636.1 480.4,633.8 C477.5,631.4 476.9,628.4 473.3,626.7 C469.8,624.9 463.0,625.2 459.1,623.1 C455.3,621.0 452.7,616.7 450.2,614.2 C447.7,611.7 445.2,609.0 444.2,608.0 L438.9,595.6 L483.3,568.9 L497.6,524.4 L508.2,480.0Z"/>
<path fill="#73b2ff" d="M470.4,601.4 C470.4,603.1 469.6,605.1 468.5,606.4 C467.4,607.8 465.4,609.0 463.6,609.5 C461.8,610.1 459.4,610.1 457.6,609.5 C455.7,609.0 453.8,607.8 452.7,606.4 C451.5,605.1 450.8,603.1 450.8,601.4 C450.8,599.8 451.5,597.8 452.7,596.4 C453.8,595.1 455.7,593.8 457.6,593.3 C459.4,592.8 461.8,592.8 463.6,593.3 C465.4,593.8 467.4,595.1 468.5,596.4 C469.6,597.8 470.4,599.8 470.4,601.4Z"/>
<path fill="#73b2ff" d="M500.9,589.9 C500.9,590.5 500.6,591.2 500.1,591.6 C499.6,592.1 498.7,592.6 497.9,592.7 C497.0,592.9 495.9,592.9 495.1,592.7 C494.3,592.6 493.4,592.1 492.9,591.6 C492.4,591.2 492.0,590.5 492.0,589.9 C492.0,589.3 492.4,588.6 492.9,588.1 C493.4,587.6 494.3,587.2 495.1,587.0 C495.9,586.8 497.0,586.8 497.9,587.0 C498.7,587.2 499.6,587.6 500.1,588.1 C500.6,588.6 500.9,589.3 500.9,589.9Z"/>
<path fill="#64be00" d="M508.2,488.9 C508.8,486.8 511.8,486.5 513.6,487.1 C515.3,487.7 518.3,490.4 518.9,492.4 C519.5,494.5 518.6,498.4 517.1,499.6 C515.6,500.7 511.5,501.3 510.0,499.6 C508.5,497.8 507.6,491.0 508.2,488.9Z"/>
<path fill="#ffff73" d="M600.7,478.2 C601.1,480.6 603.3,488.9 603.3,492.4 C603.3,496.0 601.4,496.6 600.7,499.6 C599.9,502.5 599.5,506.7 598.9,510.2 C598.3,513.8 599.2,517.9 597.1,520.9 C595.0,523.9 588.8,525.0 586.4,528.0 C584.1,531.0 583.8,534.8 582.9,538.7 C582.0,542.5 582.3,547.6 581.1,551.1 C579.9,554.7 576.4,556.7 575.8,560.0 C575.2,563.3 576.1,568.0 577.6,570.7 C579.0,573.3 581.1,576.0 584.7,576.0 C588.2,576.0 595.6,571.9 598.9,570.7 C602.1,569.5 603.0,567.7 604.2,568.9 C605.4,570.1 606.0,574.5 606.0,577.8 C606.0,581.0 604.2,584.9 604.2,588.4 C604.2,592.0 606.0,595.0 606.0,599.1 C606.0,603.3 605.4,609.2 604.2,613.3 C603.0,617.5 599.8,619.6 598.9,624.0 C598.0,628.4 598.6,635.9 598.9,640.0 C599.2,644.1 600.4,647.4 600.7,648.9 L767.8,648.9 L767.8,453.3 L607.8,453.3Z"/>
<path fill="#aaeb1e" d="M622.0,560.0 C622.3,558.2 623.2,556.1 625.6,554.7 C627.9,553.2 633.3,553.2 636.2,551.1 C639.2,549.0 641.3,545.5 643.3,542.2 C645.4,539.0 647.2,534.8 648.7,531.6 C650.1,528.3 650.7,525.6 652.2,522.7 C653.7,519.7 654.9,516.1 657.6,513.8 C660.2,511.4 664.7,509.9 668.2,508.4 C671.8,507.0 675.0,505.8 678.9,504.9 C682.7,504.0 686.6,503.6 691.3,503.1 C696.1,502.7 702.9,501.6 707.3,502.2 C711.8,502.8 716.1,505.0 718.0,506.7 C719.9,508.3 719.8,510.2 718.9,512.0 C718.0,513.8 715.5,515.9 712.7,517.3 C709.9,518.8 704.7,518.8 702.0,520.9 C699.3,523.0 698.1,526.5 696.7,529.8 C695.2,533.0 694.6,536.9 693.1,540.4 C691.6,544.0 689.6,547.9 687.8,551.1 C686.0,554.4 684.5,557.3 682.4,560.0 C680.4,562.7 678.3,565.0 675.3,567.1 C672.4,569.2 668.5,571.0 664.7,572.4 C660.8,573.9 656.4,575.4 652.2,576.0 C648.1,576.6 643.6,576.9 639.8,576.0 C635.9,575.1 631.8,572.4 629.1,570.7 C626.4,568.9 625.0,567.1 623.8,565.3 C622.6,563.6 621.7,561.8 622.0,560.0Z"/>
<path fill="#64be00" d="M650.4,556.4 C650.1,553.0 651.3,546.7 652.2,542.2 C653.1,537.8 654.0,533.3 655.8,529.8 C657.6,526.2 659.9,523.6 662.9,520.9 C665.9,518.2 669.7,515.6 673.6,513.8 C677.4,512.0 682.7,510.5 686.0,510.2 C689.3,509.9 691.5,510.5 693.1,512.0 C694.7,513.5 696.1,516.1 695.8,519.1 C695.5,522.1 693.0,526.2 691.3,529.8 C689.7,533.3 688.1,537.2 686.0,540.4 C683.9,543.7 681.6,546.4 678.9,549.3 C676.2,552.3 673.0,555.9 670.0,558.2 C667.0,560.6 663.8,562.8 661.1,563.6 C658.4,564.3 655.8,563.9 654.0,562.7 C652.2,561.5 650.7,559.9 650.4,556.4Z"/>
<path fill="#009600" d="M670.9,531.6 C671.0,529.2 673.4,526.1 675.3,524.4 C677.3,522.8 680.4,521.6 682.4,521.8 C684.5,521.9 687.0,523.7 687.8,525.3 C688.5,527.0 688.1,529.5 686.9,531.6 C685.7,533.6 682.7,536.6 680.7,537.8 C678.6,539.0 676.1,539.7 674.4,538.7 C672.8,537.6 670.7,533.9 670.9,531.6Z"/>
<path fill="#aaeb1e" d="M630.9,504.9 C630.9,505.1 630.8,505.4 630.5,505.6 C630.3,505.8 630.0,506.0 629.7,506.1 C629.3,506.1 628.9,506.1 628.6,506.1 C628.2,506.0 627.9,505.8 627.7,505.6 C627.5,505.4 627.3,505.1 627.3,504.9 C627.3,504.6 627.5,504.4 627.7,504.2 C627.9,504.0 628.2,503.8 628.6,503.7 C628.9,503.6 629.3,503.6 629.7,503.7 C630.0,503.8 630.3,504.0 630.5,504.2 C630.8,504.4 630.9,504.6 630.9,504.9Z"/>
<path fill="#ffd700" d="M606.0,480.0 C606.0,478.8 611.6,483.6 614.9,485.3 C618.1,487.1 622.0,488.9 625.6,490.7 C629.1,492.4 633.3,494.5 636.2,496.0 C639.2,497.5 640.1,498.2 643.3,499.6 C646.6,500.9 654.9,502.5 655.8,504.0 C656.7,505.5 651.0,508.4 648.7,508.8 C646.3,509.2 643.6,507.9 641.6,506.7 C639.5,505.4 638.9,502.8 636.2,501.3 C633.6,499.9 629.1,499.3 625.6,497.8 C622.0,496.3 618.1,495.4 614.9,492.4 C611.6,489.5 606.0,481.2 606.0,480.0Z"/>
<path fill="#ff9600" d="M605.1,478.2 C605.7,478.0 610.1,480.5 613.1,482.1 C616.1,483.8 622.0,487.0 622.9,488.0 C623.8,489.0 620.7,489.1 618.4,488.4 C616.2,487.6 611.8,485.2 609.6,483.6 C607.3,481.9 604.5,478.5 605.1,478.2Z"/>
<path fill="#ffd700" d="M585.6,560.0 C586.4,558.2 591.0,556.1 593.6,554.7 C596.1,553.2 598.6,552.9 600.7,551.1 C602.7,549.3 603.9,545.9 606.0,544.0 C608.1,542.1 611.3,539.6 613.1,539.6 C614.9,539.6 616.7,542.4 617.0,544.0 C617.3,545.6 616.4,547.6 614.9,549.3 C613.3,551.1 610.1,553.2 607.8,554.7 C605.4,556.1 603.0,556.7 600.7,558.2 C598.3,559.7 595.6,562.4 593.6,563.6 C591.5,564.7 589.6,565.9 588.2,565.3 C586.9,564.7 584.7,561.8 585.6,560.0Z"/>
<path fill="#ffd700" d="M691.3,496.9 C692.2,494.1 698.1,486.5 702.0,482.7 C705.9,478.8 709.4,475.9 714.4,473.8 C719.5,471.7 724.5,468.6 732.2,470.2 C739.9,471.9 757.7,478.7 760.7,483.6 C763.6,488.4 753.0,494.5 750.0,499.6 C747.0,504.6 744.4,507.9 742.9,513.8 C741.4,519.7 742.0,528.9 741.1,535.1 C740.2,541.3 739.6,547.0 737.6,551.1 C735.5,555.3 731.9,557.2 728.7,560.0 C725.4,562.8 720.7,566.2 718.0,568.0 C715.3,569.8 714.0,569.0 712.7,570.7 C711.3,572.3 711.8,576.6 710.0,577.8 C708.2,579.0 704.5,579.3 702.0,577.8 C699.5,576.3 696.8,571.9 694.9,568.9 C693.0,565.9 690.9,563.3 690.4,560.0 C690.0,556.7 691.2,552.6 692.2,549.3 C693.3,546.1 694.7,542.5 696.7,540.4 C698.6,538.4 702.0,539.0 703.8,536.9 C705.6,534.8 705.6,530.4 707.3,528.0 C709.1,525.6 711.5,524.4 714.4,522.7 C717.4,520.9 722.4,520.0 725.1,517.3 C727.8,514.7 729.4,510.8 730.4,506.7 C731.5,502.5 731.6,496.3 731.3,492.4 C731.0,488.6 730.0,485.5 728.7,483.6 C727.3,481.6 725.7,480.4 723.3,480.9 C721.0,481.3 717.7,483.9 714.4,486.2 C711.2,488.6 706.7,492.9 703.8,495.1 C700.8,497.3 698.7,499.3 696.7,499.6 C694.6,499.9 690.4,499.7 691.3,496.9Z"/>
<path fill="#ffff73" d="M723.0,541.0 C723.0,542.2 722.6,543.7 722.0,544.7 C721.3,545.8 720.3,546.7 719.3,547.1 C718.3,547.5 717.0,547.5 716.0,547.1 C715.0,546.7 713.9,545.8 713.3,544.7 C712.7,543.7 712.3,542.2 712.3,541.0 C712.3,539.7 712.7,538.2 713.3,537.2 C713.9,536.2 715.0,535.3 716.0,534.9 C717.0,534.5 718.3,534.5 719.3,534.9 C720.3,535.3 721.3,536.2 722.0,537.2 C722.6,538.2 723.0,539.7 723.0,541.0Z"/>
<path fill="#ff9600" d="M735.8,472.9 C739.5,472.0 758.3,479.1 760.7,483.6 C763.0,488.0 753.0,494.5 750.0,499.6 C747.0,504.6 744.4,507.9 742.9,513.8 C741.4,519.7 742.0,528.9 741.1,535.1 C740.2,541.3 739.6,547.0 737.6,551.1 C735.5,555.3 731.9,557.2 728.7,560.0 C725.4,562.8 720.7,566.2 718.0,568.0 C715.3,569.8 714.1,570.8 712.7,570.7 C711.2,570.5 710.6,568.9 709.1,567.1 C707.6,565.3 705.6,562.4 703.8,560.0 C702.0,557.6 699.3,555.6 698.4,552.9 C697.6,550.2 697.6,546.2 698.4,544.0 C699.3,541.8 702.1,539.6 703.8,539.6 C705.4,539.6 707.0,542.1 708.2,544.0 C709.4,545.9 709.3,549.8 710.9,551.1 C712.5,552.4 715.3,552.6 718.0,552.0 C720.7,551.4 724.5,549.8 726.9,547.6 C729.3,545.3 730.9,542.5 732.2,538.7 C733.6,534.8 734.1,529.8 734.9,524.4 C735.6,519.1 736.1,512.6 736.7,506.7 C737.3,500.7 738.6,494.5 738.4,488.9 C738.3,483.3 732.1,473.8 735.8,472.9Z"/>
<path fill="#e13c00" d="M746.4,481.8 C749.4,480.3 761.4,481.2 762.4,483.6 C763.5,485.9 755.3,492.4 752.7,496.0 C750.0,499.6 747.8,505.5 746.4,504.9 C745.1,504.3 744.7,496.3 744.7,492.4 C744.7,488.6 743.5,483.3 746.4,481.8Z"/>
<path fill="#e13c00" d="M736.7,531.6 C737.3,530.2 740.4,529.3 741.1,530.7 C741.9,532.0 741.8,538.2 741.1,539.6 C740.5,540.9 737.9,540.0 737.2,538.7 C736.5,537.3 736.0,532.9 736.7,531.6Z"/>
<path fill="#e13c00" d="M714.4,562.7 C715.3,561.5 720.4,560.0 721.6,560.9 C722.7,561.8 722.4,566.8 721.6,568.0 C720.7,569.2 717.4,568.9 716.2,568.0 C715.0,567.1 713.6,563.9 714.4,562.7Z"/>
<path fill="#ffd700" d="M627.3,595.6 C628.5,594.4 631.2,589.9 634.4,588.4 C637.7,587.0 642.7,587.9 646.9,586.7 C651.0,585.5 655.2,582.8 659.3,581.3 C663.5,579.9 668.2,578.1 671.8,577.8 C675.3,577.5 678.6,578.1 680.7,579.6 C682.7,581.0 681.6,585.2 684.2,586.7 C686.9,588.1 692.8,588.7 696.7,588.4 C700.5,588.1 705.0,584.0 707.3,584.9 C709.7,585.8 711.5,591.6 710.9,593.8 C710.3,595.9 709.1,597.5 703.8,597.7 C698.4,597.9 686.0,595.0 678.9,595.0 C671.8,595.0 666.4,596.4 661.1,597.7 C655.8,599.0 650.1,600.1 646.9,602.7 C643.6,605.3 642.1,609.2 641.6,613.3 C641.0,617.5 642.1,621.6 643.3,627.6 C644.5,633.5 647.8,645.3 648.7,648.9 L607.8,648.9 L607.8,631.1 L614.9,622.2 L623.8,613.3 L627.3,604.4Z"/>
<path fill="#ff9600" d="M639.8,600.9 C640.7,600.3 642.7,598.2 645.1,597.3 C647.5,596.4 651.3,595.7 654.0,595.6 C656.7,595.4 662.0,595.3 661.1,596.4 C660.2,597.6 651.9,599.9 648.7,602.7 C645.4,605.5 642.4,609.2 641.6,613.3 C640.7,617.5 642.1,621.6 643.3,627.6 C644.5,633.5 647.8,645.3 648.7,648.9 L614.9,648.9 L616.7,634.7 L623.8,625.8 L634.4,618.7 L639.8,609.8Z"/>
<path fill="#e13c00" d="M634.4,631.1 C635.3,627.3 636.7,626.4 638.0,625.8 C639.3,625.2 641.1,623.7 642.4,627.6 C643.8,631.4 647.6,645.3 646.0,648.9 C644.4,652.4 634.6,651.9 632.7,648.9 C630.7,645.9 633.6,635.0 634.4,631.1Z"/>
<path fill="#e13c00" d="M702.9,600.9 C703.5,598.8 705.5,597.5 707.3,597.3 C709.2,597.2 714.1,597.2 714.1,600.0 C714.1,602.8 709.1,612.6 707.3,614.2 C705.6,615.9 704.5,612.0 703.8,609.8 C703.0,607.6 702.3,603.0 702.9,600.9Z"/>
<path fill="#ffff73" d="M519.6,660.4 C519.3,659.3 524.3,662.2 526.7,664.0 C529.0,665.8 530.8,668.7 533.8,671.1 C536.7,673.5 541.2,677.3 544.4,678.2 C547.7,679.1 550.4,676.1 553.3,676.4 C556.3,676.7 560.4,678.5 562.2,680.0 C564.0,681.5 564.6,683.6 564.0,685.3 C563.4,687.1 560.7,688.6 558.7,690.7 C556.6,692.7 553.9,695.4 551.6,697.8 C549.2,700.1 546.2,702.2 544.4,704.9 C542.7,707.6 542.4,710.8 540.9,713.8 C539.4,716.7 537.3,719.7 535.6,722.7 C533.8,725.6 532.0,728.6 530.2,731.6 C528.4,734.5 526.7,737.8 524.9,740.4 C523.1,743.1 520.7,744.9 519.6,747.6 C518.4,750.2 517.8,753.5 517.8,756.4 C517.8,759.4 519.7,762.5 519.6,765.3 C519.4,768.1 518.1,771.0 516.9,773.3 C515.7,775.7 513.8,777.6 512.4,779.6 C511.1,781.5 511.3,785.2 508.9,784.9 C506.5,784.6 500.6,780.1 498.2,777.8 C495.9,775.4 492.9,775.1 494.7,770.7 C496.4,766.2 505.2,756.1 508.9,751.1 C512.6,746.1 513.9,745.2 516.9,740.4 C519.9,735.7 524.1,728.3 526.7,722.7 C529.2,717.0 530.8,712.3 532.0,706.7 C533.2,701.0 534.4,694.8 533.8,688.9 C533.2,683.0 530.8,675.9 528.4,671.1 C526.1,666.4 519.9,661.6 519.6,660.4Z"/>
<path fill="#ffd700" d="M492.0,770.7 C492.3,768.7 496.0,767.4 498.2,765.3 C500.4,763.3 503.0,760.3 505.3,758.2 C507.7,756.1 510.7,753.2 512.4,752.9 C514.2,752.6 515.3,754.7 516.0,756.4 C516.7,758.2 517.2,761.2 516.9,763.6 C516.6,765.9 515.6,768.6 514.2,770.7 C512.9,772.7 510.7,774.7 508.9,776.0 C507.1,777.3 505.6,778.5 503.6,778.7 C501.5,778.8 498.4,778.2 496.4,776.9 C494.5,775.6 491.7,772.6 492.0,770.7Z"/>
<path fill="#ffd700" d="M533.8,694.2 C534.4,692.3 536.9,693.0 537.3,695.1 C537.8,697.2 537.1,704.7 536.4,706.7 C535.8,708.6 533.9,708.7 533.4,706.7 C533.0,704.6 533.1,696.1 533.8,694.2Z"/>
<path fill="#64be00" d="M556.9,669.3 C556.3,667.3 559.0,660.9 560.4,658.7 C561.9,656.4 564.0,655.4 565.8,656.0 C567.6,656.6 569.0,661.5 571.1,662.2 C573.2,663.0 576.4,662.5 578.2,660.4 C580.0,658.4 580.6,653.3 581.8,649.8 C583.0,646.2 583.9,641.2 585.3,639.1 C586.8,637.0 588.6,637.0 590.7,637.3 C592.7,637.6 596.0,639.1 597.8,640.9 C599.6,642.7 601.0,645.0 601.3,648.0 C601.6,651.0 600.4,655.1 599.6,658.7 C598.7,662.2 597.5,666.1 596.0,669.3 C594.5,672.6 592.1,675.0 590.7,678.2 C589.2,681.5 587.7,685.3 587.1,688.9 C586.5,692.4 586.8,696.6 587.1,699.6 C587.4,702.5 589.2,704.0 588.9,706.7 C588.6,709.3 587.4,713.5 585.3,715.6 C583.3,717.6 579.4,717.9 576.4,719.1 C573.5,720.3 570.5,721.2 567.6,722.7 C564.6,724.1 561.3,725.6 558.7,728.0 C556.0,730.4 553.9,734.2 551.6,736.9 C549.2,739.6 547.1,741.6 544.4,744.0 C541.8,746.4 538.2,749.6 535.6,751.1 C532.9,752.6 530.2,753.5 528.4,752.9 C526.7,752.3 524.6,749.9 524.9,747.6 C525.2,745.2 528.4,741.9 530.2,738.7 C532.0,735.4 533.2,731.0 535.6,728.0 C537.9,725.0 541.5,723.0 544.4,720.9 C547.4,718.8 551.0,717.9 553.3,715.6 C555.7,713.2 556.6,709.6 558.7,706.7 C560.7,703.7 563.7,700.7 565.8,697.8 C567.9,694.8 569.9,692.1 571.1,688.9 C572.3,685.6 572.9,681.2 572.9,678.2 C572.9,675.3 572.6,672.3 571.1,671.1 C569.6,669.9 566.4,671.4 564.0,671.1 C561.6,670.8 557.5,671.4 556.9,669.3Z"/>
<path fill="#009600" d="M589.6,667.2 C589.0,668.2 588.1,669.3 587.3,670.0 C586.6,670.7 585.6,671.1 585.0,671.2 C584.4,671.2 583.8,670.9 583.5,670.3 C583.2,669.7 583.1,668.7 583.3,667.7 C583.5,666.7 584.1,665.4 584.6,664.4 C585.2,663.3 586.1,662.2 586.9,661.6 C587.7,660.9 588.6,660.4 589.2,660.4 C589.9,660.3 590.5,660.7 590.7,661.2 C591.0,661.8 591.1,662.9 590.9,663.9 C590.7,664.8 590.2,666.2 589.6,667.2Z"/>
<path fill="#009600" d="M575.9,704.0 C575.9,704.7 575.6,705.5 575.2,706.1 C574.8,706.7 574.1,707.2 573.5,707.4 C572.8,707.6 571.9,707.6 571.3,707.4 C570.6,707.2 569.9,706.7 569.5,706.1 C569.1,705.5 568.8,704.7 568.8,704.0 C568.8,703.3 569.1,702.5 569.5,701.9 C569.9,701.3 570.6,700.8 571.3,700.6 C571.9,700.4 572.8,700.4 573.5,700.6 C574.1,700.8 574.8,701.3 575.2,701.9 C575.6,702.5 575.9,703.3 575.9,704.0Z"/>
<path fill="#ffff73" d="M606.7,596.4 C606.1,598.8 604.3,606.2 603.1,610.7 C601.9,615.1 599.9,619.0 599.6,623.1 C599.3,627.3 600.1,631.7 601.3,635.6 C602.5,639.4 606.1,642.7 606.7,646.2 C607.3,649.8 605.8,653.3 604.9,656.9 C604.0,660.4 602.5,664.0 601.3,667.6 C600.1,671.1 599.0,675.3 597.8,678.2 C596.6,681.2 594.5,682.4 594.2,685.3 C593.9,688.3 595.4,692.7 596.0,696.0 C596.6,699.3 598.4,701.9 597.8,704.9 C597.2,707.9 594.2,710.8 592.4,713.8 C590.7,716.7 589.8,720.3 587.1,722.7 C584.4,725.0 580.0,726.2 576.4,728.0 C572.9,729.8 569.0,731.3 565.8,733.3 C562.5,735.4 559.6,737.8 556.9,740.4 C554.2,743.1 552.1,746.7 549.8,749.3 C547.4,752.0 545.6,754.1 542.7,756.4 C539.7,758.8 535.0,761.5 532.0,763.6 C529.0,765.6 527.3,767.1 524.9,768.9 C522.5,770.7 519.9,772.4 517.8,774.2 C515.7,776.0 513.3,778.7 512.4,779.6 L508.9,804.4 L562.2,804.4 L668.9,671.1 L668.9,596.4Z"/>
<path fill="#ffd700" d="M628.0,596.4 C626.5,598.5 622.1,605.3 619.1,608.9 C616.1,612.4 612.3,614.8 610.2,617.8 C608.1,620.7 607.0,623.4 606.7,626.7 C606.4,629.9 607.6,634.1 608.4,637.3 C609.3,640.6 612.3,643.3 612.0,646.2 C611.7,649.2 608.1,651.9 606.7,655.1 C605.2,658.4 603.7,661.9 603.1,665.8 C602.5,669.6 602.2,674.7 603.1,678.2 C604.0,681.8 607.1,684.1 608.4,687.1 C609.8,690.1 611.1,693.0 611.1,696.0 C611.1,699.0 610.7,701.9 608.4,704.9 C606.2,707.9 599.9,710.5 597.8,713.8 C595.7,717.0 597.8,721.5 596.0,724.4 C594.2,727.4 590.4,729.8 587.1,731.6 C583.9,733.3 579.7,733.6 576.4,735.1 C573.2,736.6 570.5,738.4 567.6,740.4 C564.6,742.5 561.3,745.2 558.7,747.6 C556.0,749.9 553.9,752.6 551.6,754.7 C549.2,756.7 546.8,757.9 544.4,760.0 C542.1,762.1 539.7,764.7 537.3,767.1 C535.0,769.5 532.3,772.4 530.2,774.2 C528.1,776.0 525.8,777.2 524.9,777.8 L524.9,804.4 L562.2,804.4 L668.9,671.1 L668.9,596.4Z"/>
<path fill="#ffff73" d="M531.1,779.6 C532.1,777.5 534.8,776.0 537.3,776.0 C539.9,776.0 544.4,777.8 546.2,779.6 C548.0,781.3 548.6,784.3 548.0,786.7 C547.4,789.0 544.7,792.0 542.7,793.8 C540.6,795.6 537.5,798.2 535.6,797.3 C533.6,796.4 531.9,791.4 531.1,788.4 C530.4,785.5 530.1,781.6 531.1,779.6Z"/>
<path fill="#ff9600" d="M642.2,596.4 C640.4,598.8 635.1,606.2 631.6,610.7 C628.0,615.1 623.7,619.6 620.9,623.1 C618.1,626.7 615.6,628.7 614.7,632.0 C613.8,635.3 614.5,639.7 615.6,642.7 C616.6,645.6 621.2,646.8 620.9,649.8 C620.6,652.7 615.7,656.9 613.8,660.4 C611.9,664.0 609.9,667.6 609.3,671.1 C608.7,674.7 609.2,678.5 610.2,681.8 C611.3,685.0 613.8,687.7 615.6,690.7 C617.3,693.6 619.7,696.6 620.9,699.6 C622.1,702.5 622.4,707.0 622.7,708.4 L668.9,671.1 L668.9,596.4Z"/>
<path fill="#ffd700" d="M628.0,674.7 C628.3,671.4 631.0,663.7 632.4,660.4 C633.9,657.2 635.3,655.4 636.9,655.1 C638.5,654.8 641.6,656.3 642.2,658.7 C642.8,661.0 641.5,666.1 640.4,669.3 C639.4,672.6 637.6,676.4 636.0,678.2 C634.4,680.0 632.0,680.6 630.7,680.0 C629.3,679.4 627.7,677.9 628.0,674.7Z"/>
<path fill="#ff9600" d="M540.9,767.1 C541.5,764.7 545.6,760.9 548.0,758.2 C550.4,755.6 552.1,752.7 555.1,751.1 C558.1,749.5 562.5,748.4 565.8,748.4 C569.0,748.4 572.3,749.8 574.7,751.1 C577.0,752.4 578.1,755.6 580.0,756.4 C581.9,757.3 586.2,754.8 586.2,756.4 C586.2,758.1 581.9,765.0 580.0,766.2 C578.1,767.4 576.4,764.9 574.7,763.6 C572.9,762.2 571.4,759.1 569.3,758.2 C567.3,757.3 564.6,757.3 562.2,758.2 C559.9,759.1 557.2,761.8 555.1,763.6 C553.0,765.3 551.6,767.4 549.8,768.9 C548.0,770.4 545.9,772.7 544.4,772.4 C543.0,772.1 540.3,769.5 540.9,767.1Z"/>
<path fill="#e13c00" d="M628.9,651.6 C628.7,648.6 630.8,639.7 632.4,635.6 C634.1,631.4 636.7,627.3 638.7,626.7 C640.6,626.1 641.6,629.6 644.0,632.0 C646.4,634.4 652.4,637.8 652.9,640.9 C653.3,644.0 649.0,648.9 646.7,650.7 C644.3,652.4 640.9,651.1 638.7,651.6 C636.4,652.0 635.0,653.3 633.3,653.3 C631.7,653.3 629.0,654.5 628.9,651.6Z"/>
<path fill="#ff9600" d="M644.0,640.0 C644.0,640.3 643.8,640.8 643.5,641.0 C643.2,641.3 642.7,641.6 642.2,641.7 C641.7,641.8 641.0,641.8 640.5,641.7 C640.0,641.6 639.5,641.3 639.2,641.0 C638.9,640.8 638.7,640.3 638.7,640.0 C638.7,639.7 638.9,639.2 639.2,639.0 C639.5,638.7 640.0,638.4 640.5,638.3 C641.0,638.2 641.7,638.2 642.2,638.3 C642.7,638.4 643.2,638.7 643.5,639.0 C643.8,639.2 644.0,639.7 644.0,640.0Z"/>
<path fill="#e13c00" d="M627.5,658.7 C627.5,659.1 627.3,659.6 627.2,659.9 C627.0,660.3 626.7,660.6 626.4,660.7 C626.1,660.8 625.7,660.8 625.4,660.7 C625.1,660.6 624.8,660.3 624.6,659.9 C624.4,659.6 624.3,659.1 624.3,658.7 C624.3,658.2 624.4,657.8 624.6,657.4 C624.8,657.1 625.1,656.8 625.4,656.6 C625.7,656.5 626.1,656.5 626.4,656.6 C626.7,656.8 627.0,657.1 627.2,657.4 C627.3,657.8 627.5,658.2 627.5,658.7Z"/>
<path fill="#e13c00" d="M627.6,687.6 C627.6,688.0 627.5,688.3 627.4,688.6 C627.2,688.8 626.9,689.1 626.7,689.2 C626.4,689.3 626.0,689.3 625.8,689.2 C625.5,689.1 625.2,688.8 625.1,688.6 C624.9,688.3 624.8,688.0 624.8,687.6 C624.8,687.3 624.9,687.0 625.1,686.7 C625.2,686.5 625.5,686.2 625.8,686.1 C626.0,686.0 626.4,686.0 626.7,686.1 C626.9,686.2 627.2,686.5 627.4,686.7 C627.5,687.0 627.6,687.3 627.6,687.6Z"/>
<path fill="#64be00" d="M379.5,696.1 C378.3,697.8 374.0,701.6 372.7,705.8 C371.4,710.0 372.6,717.0 371.8,721.2 C371.0,725.4 368.9,727.0 367.9,730.8 C366.9,734.7 366.0,739.8 366.0,744.3 C366.0,748.8 366.9,753.3 367.9,757.8 C368.9,762.3 370.8,766.8 371.8,771.3 C372.7,775.8 372.4,779.6 373.7,784.8 C375.0,789.9 377.2,797.0 379.5,802.1 C381.7,807.3 384.9,811.1 387.2,815.6 C389.4,820.1 391.3,824.6 392.9,829.1 C394.6,833.6 396.0,838.4 396.8,842.6 C397.6,846.8 398.4,850.6 397.8,854.1 C397.1,857.7 395.4,860.6 392.9,863.8 C390.5,867.0 386.5,870.8 383.3,873.4 C380.1,876.0 376.6,877.3 373.7,879.2 C370.8,881.1 367.6,882.7 366.0,885.0 C364.4,887.2 365.7,889.8 364.0,892.7 C362.4,895.6 359.6,899.1 356.3,902.3 C353.1,905.5 348.6,909.4 344.8,911.9 C340.9,914.5 337.4,917.0 333.2,917.7 C329.1,918.5 324.4,915.2 319.8,916.4 C315.2,917.7 310.3,922.7 305.6,925.3 C300.8,928.0 294.9,930.1 291.3,932.4 C287.8,934.8 287.8,937.5 284.2,939.6 C280.7,941.6 274.4,943.1 270.0,944.9 C265.6,946.7 261.4,948.1 257.6,950.2 C253.7,952.3 250.7,954.4 246.9,957.3 C243.0,960.3 238.6,965.0 234.4,968.0 C230.3,971.0 226.1,972.7 222.0,975.1 C217.9,977.5 213.1,979.6 209.6,982.2 C206.0,984.9 203.0,988.1 200.7,991.1 C198.3,994.1 196.5,996.7 195.3,1000.0 C194.1,1003.3 194.7,1007.1 193.6,1010.7 C192.4,1014.2 190.6,1018.4 188.2,1021.3 C185.9,1024.3 182.9,1027.3 179.3,1028.4 C175.8,1029.6 171.0,1028.7 166.9,1028.4 C162.7,1028.1 158.3,1026.8 154.4,1026.7 C150.6,1026.5 146.7,1026.4 143.8,1027.6 C140.8,1028.7 138.7,1031.0 136.7,1033.8 C134.6,1036.6 132.2,1040.6 131.3,1044.4 C130.4,1048.3 130.4,1053.0 131.3,1056.9 C132.2,1060.7 135.3,1064.3 136.7,1067.6 C138.0,1070.8 140.2,1073.8 139.3,1076.4 C138.4,1079.1 133.3,1081.2 131.3,1083.6 C129.4,1085.9 127.8,1088.0 127.8,1090.7 C127.8,1093.3 129.3,1096.0 131.3,1099.6 C133.4,1103.1 137.0,1107.9 140.2,1112.0 C143.5,1116.1 147.3,1120.6 150.9,1124.4 C154.4,1128.3 158.3,1132.4 161.6,1135.1 C164.8,1137.8 167.2,1139.0 170.4,1140.4 C173.7,1141.9 177.9,1142.5 181.1,1144.0 C184.4,1145.5 187.3,1147.9 190.0,1149.3 C192.7,1150.7 195.8,1150.4 197.3,1152.4 C198.9,1154.4 197.6,1159.0 199.1,1161.3 C200.6,1163.7 203.0,1165.2 206.2,1166.7 C209.5,1168.1 214.5,1168.3 218.7,1170.2 C222.8,1172.1 229.0,1176.9 231.1,1178.2 L195.6,1220.0 L88.9,1220.0 L53.3,1202.2 L17.8,1198.7 L20.0,1195.0 L5.0,1150.0 L15.0,1100.0 L80.0,1030.0 L110.0,1000.0 L150.0,980.0 L190.0,955.0 L230.0,915.0 L255.0,895.0 L272.0,870.0 L285.0,840.0 L290.0,800.0 L330.0,760.0 L335.0,720.0 L375.0,690.0Z"/>
<path fill="#009600" d="M337.1,743.4 C338.7,744.2 343.8,746.1 346.7,748.2 C349.6,750.3 352.2,752.7 354.4,755.9 C356.7,759.1 358.4,762.9 360.2,767.4 C362.0,771.9 363.6,778.0 365.0,782.9 C366.5,787.7 367.9,791.8 368.9,796.3 C369.8,800.8 369.7,805.3 370.8,809.8 C371.9,814.3 373.8,818.8 375.6,823.3 C377.4,827.8 380.1,832.3 381.4,836.8 C382.7,841.3 383.6,846.1 383.3,850.3 C383.0,854.5 381.7,858.6 379.5,861.8 C377.2,865.1 373.0,867.0 369.8,869.6 C366.6,872.1 362.8,874.7 360.2,877.3 C357.6,879.8 356.7,882.1 354.4,885.0 C352.2,887.9 349.6,891.4 346.7,894.6 C343.8,897.8 340.9,901.3 337.1,904.2 C333.2,907.1 328.4,909.9 323.6,911.9 C318.8,914.0 314.4,914.2 308.2,916.8 C301.9,919.3 291.5,923.9 286.0,927.1 C280.5,930.3 279.2,933.6 275.3,936.0 C271.5,938.4 267.0,939.3 262.9,941.3 C258.7,943.4 254.3,945.8 250.4,948.4 C246.6,951.1 243.3,954.7 239.8,957.3 C236.2,960.0 233.0,962.1 229.1,964.4 C225.3,966.8 220.8,969.2 216.7,971.6 C212.5,973.9 207.8,976.3 204.2,978.7 C200.7,981.0 197.7,982.8 195.3,985.8 C193.0,988.7 191.2,992.9 190.0,996.4 C188.8,1000.0 189.1,1003.9 188.2,1007.1 C187.3,1010.4 186.4,1013.3 184.7,1016.0 C182.9,1018.7 180.5,1021.9 177.6,1023.1 C174.6,1024.3 170.7,1023.6 166.9,1023.1 C163.0,1022.7 158.3,1020.9 154.4,1020.4 C150.6,1020.0 147.0,1019.7 143.8,1020.4 C140.5,1021.2 137.6,1022.7 134.9,1024.9 C132.2,1027.1 129.6,1030.5 127.8,1033.8 C126.0,1037.0 124.8,1040.9 124.2,1044.4 C123.6,1048.0 124.8,1051.6 124.2,1055.1 C123.6,1058.7 122.1,1062.5 120.7,1065.8 C119.2,1069.0 117.1,1073.0 115.3,1074.7 C113.6,1076.4 112.3,1074.6 110.2,1076.0 C108.2,1077.4 106.7,1081.3 103.1,1083.1 C99.6,1084.9 92.7,1085.2 88.9,1086.7 C85.0,1088.1 82.1,1089.6 80.0,1092.0 C77.9,1094.4 76.7,1097.3 76.4,1100.9 C76.1,1104.4 77.0,1108.9 78.2,1113.3 C79.4,1117.8 81.8,1124.0 83.6,1127.6 C85.3,1131.1 86.8,1134.1 88.9,1134.7 C91.0,1135.3 94.5,1133.8 96.0,1131.1 C97.5,1128.4 97.2,1123.1 97.8,1118.7 C98.4,1114.2 98.4,1108.3 99.6,1104.4 C100.7,1100.6 102.8,1097.5 104.9,1095.6 C107.0,1093.6 109.3,1092.3 112.0,1092.9 C114.7,1093.5 117.9,1096.3 120.9,1099.1 C123.9,1101.9 126.5,1106.2 129.8,1109.8 C133.0,1113.3 136.9,1116.9 140.4,1120.4 C144.0,1124.0 148.1,1128.4 151.1,1131.1 C154.1,1133.8 158.2,1135.3 158.2,1136.4 C158.2,1137.6 153.5,1137.3 151.1,1138.2 C148.7,1139.1 145.8,1140.0 144.0,1141.8 C142.2,1143.6 140.1,1146.5 140.4,1148.9 C140.7,1151.3 143.4,1153.9 145.8,1156.0 C148.1,1158.1 151.7,1160.4 154.7,1161.3 C157.6,1162.2 160.9,1162.5 163.6,1161.3 C166.2,1160.1 168.3,1156.0 170.7,1154.2 C173.0,1152.4 175.4,1150.7 177.8,1150.7 C180.1,1150.7 183.1,1152.4 184.9,1154.2 C186.7,1156.0 188.4,1159.0 188.4,1161.3 C188.4,1163.7 184.9,1166.4 184.9,1168.4 C184.9,1170.5 186.4,1172.3 188.4,1173.8 C190.5,1175.3 194.7,1175.9 197.3,1177.3 C200.0,1178.8 202.7,1180.6 204.4,1182.7 C206.2,1184.7 206.7,1186.8 208.0,1189.8 C209.3,1192.7 211.7,1198.7 212.4,1200.4 L195.6,1220.0 L88.9,1220.0 L53.3,1202.2 L17.8,1198.7 L20.0,1195.0 L5.0,1150.0 L15.0,1100.0 L80.0,1030.0 L110.0,1000.0 L150.0,980.0 L190.0,955.0 L230.0,915.0 L255.0,895.0 L272.0,870.0 L285.0,840.0 L290.0,800.0 L330.0,760.0 L332.0,742.0Z"/>
<path fill="#64be00" d="M111.1,1152.4 C111.4,1149.5 113.3,1146.8 115.6,1145.3 C117.8,1143.9 121.9,1142.4 124.4,1143.6 C127.0,1144.7 130.1,1149.5 130.7,1152.4 C131.3,1155.4 129.6,1159.3 128.0,1161.3 C126.4,1163.4 123.3,1164.6 120.9,1164.9 C118.5,1165.2 115.4,1165.2 113.8,1163.1 C112.1,1161.0 110.8,1155.4 111.1,1152.4Z"/>
<path fill="#73b2ff" d="M337.1,757.8 C338.0,759.1 340.9,762.3 342.9,765.5 C344.8,768.7 347.0,773.2 348.6,777.1 C350.2,780.9 351.7,784.8 352.5,788.6 C353.3,792.5 353.9,796.3 353.4,800.2 C353.0,804.0 350.4,808.5 349.6,811.8 C348.8,815.0 347.8,816.6 348.6,819.5 C349.4,822.4 352.5,825.9 354.4,829.1 C356.3,832.3 359.1,835.2 360.2,838.7 C361.3,842.3 361.8,847.1 361.2,850.3 C360.5,853.5 358.7,855.1 356.3,858.0 C353.9,860.9 349.9,864.4 346.7,867.6 C343.5,870.8 340.0,873.7 337.1,877.3 C334.2,880.8 332.6,885.3 329.4,888.8 C326.2,892.4 322.0,895.6 317.8,898.5 C313.6,901.3 309.1,903.9 304.3,906.2 C299.5,908.4 293.7,910.2 288.9,911.9 C284.1,913.7 279.1,914.2 275.3,916.4 C271.6,918.7 270.3,922.4 266.4,925.3 C262.6,928.3 257.0,931.0 252.2,934.2 C247.5,937.5 242.1,941.6 238.0,944.9 C233.9,948.1 231.5,950.8 227.3,953.8 C223.2,956.7 217.9,960.0 213.1,962.7 C208.4,965.3 203.0,967.4 198.9,969.8 C194.7,972.1 191.2,974.2 188.2,976.9 C185.3,979.6 182.9,982.5 181.1,985.8 C179.3,989.0 178.4,992.9 177.6,996.4 C176.7,1000.0 177.0,1003.9 175.8,1007.1 C174.6,1010.4 172.5,1014.5 170.4,1016.0 C168.4,1017.5 166.3,1016.9 163.3,1016.0 C160.4,1015.1 156.5,1011.9 152.7,1010.7 C148.8,1009.5 144.1,1008.6 140.2,1008.9 C136.4,1009.2 132.8,1010.7 129.6,1012.4 C126.3,1014.2 123.3,1016.9 120.7,1019.6 C118.0,1022.2 115.3,1025.5 113.6,1028.4 C111.8,1031.4 111.1,1032.7 110.0,1037.3 C108.9,1042.0 108.4,1052.1 106.7,1056.4 C104.9,1060.8 103.1,1061.8 99.6,1063.6 C96.0,1065.3 89.2,1065.9 85.3,1067.1 C81.5,1068.3 79.4,1068.9 76.4,1070.7 C73.5,1072.4 69.9,1074.8 67.6,1077.8 C65.2,1080.7 63.4,1084.0 62.2,1088.4 C61.0,1092.9 59.9,1099.4 60.4,1104.4 C61.0,1109.5 64.6,1114.2 65.8,1118.7 C67.0,1123.1 68.1,1127.0 67.6,1131.1 C67.0,1135.3 63.4,1139.4 62.2,1143.6 C61.0,1147.7 59.9,1152.1 60.4,1156.0 C61.0,1159.9 63.4,1164.0 65.8,1166.7 C68.1,1169.3 71.7,1170.2 74.7,1172.0 C77.6,1173.8 81.2,1175.3 83.6,1177.3 C85.9,1179.4 87.6,1181.2 88.9,1184.4 C90.2,1187.7 91.1,1194.8 91.6,1196.9 L71.1,1202.2 L17.8,1198.7 L20.0,1195.0 L5.0,1150.0 L15.0,1100.0 L80.0,1030.0 L110.0,1000.0 L150.0,980.0 L190.0,955.0 L230.0,915.0 L255.0,895.0 L272.0,870.0 L285.0,840.0 L290.0,800.0 L330.0,760.0Z"/>
<path fill="#004da8" d="M35.6,1106.2 C36.4,1105.9 39.3,1103.3 40.9,1104.4 C42.5,1105.6 44.4,1109.5 45.3,1113.3 C46.3,1117.2 46.7,1123.1 46.6,1127.6 C46.4,1132.0 45.6,1135.6 44.4,1140.0 C43.3,1144.4 40.6,1149.2 39.5,1154.2 C38.3,1159.3 38.0,1163.1 37.7,1170.2 C37.4,1177.3 37.7,1192.4 37.7,1196.9 L17.8,1198.7 L7.1,1148.9 L26.7,1113.3Z"/>
<path fill="#73b2ff" d="M125.3,1120.1 C125.3,1122.1 124.5,1124.5 123.3,1126.1 C122.1,1127.8 120.0,1129.3 118.0,1129.9 C116.0,1130.5 113.4,1130.5 111.4,1129.9 C109.4,1129.3 107.3,1127.8 106.0,1126.1 C104.8,1124.5 104.0,1122.1 104.0,1120.1 C104.0,1118.1 104.8,1115.7 106.0,1114.0 C107.3,1112.4 109.4,1110.9 111.4,1110.3 C113.4,1109.7 116.0,1109.7 118.0,1110.3 C120.0,1110.9 122.1,1112.4 123.3,1114.0 C124.5,1115.7 125.3,1118.1 125.3,1120.1Z"/>
<path fill="#73b2ff" d="M132.4,1166.7 C133.2,1166.1 134.7,1163.4 136.9,1163.1 C139.1,1162.8 142.5,1163.4 145.8,1164.9 C149.0,1166.4 152.9,1170.5 156.4,1172.0 C160.0,1173.5 163.6,1172.3 167.1,1173.8 C170.7,1175.3 174.2,1179.1 177.8,1180.9 C181.3,1182.7 185.5,1183.3 188.4,1184.4 C191.4,1185.6 193.9,1186.2 195.6,1188.0 C197.2,1189.8 195.9,1192.9 198.2,1195.1 C200.6,1197.3 207.9,1200.3 209.8,1201.3 L204.4,1220.0 L124.4,1220.0 L117.3,1200.4 L124.4,1193.3 L135.1,1189.8 L136.9,1182.7 L133.3,1173.8Z"/>
<path fill="#004da8" d="M157.3,1204.0 L165.3,1193.3 L172.4,1189.8 L181.3,1190.7 L188.4,1198.7 L193.8,1204.0 L200.0,1208.4 L186.7,1220.0 L163.6,1220.0Z"/>
<path fill="#009600" d="M157.9,1180.9 C157.9,1181.3 157.8,1181.8 157.6,1182.1 C157.4,1182.5 157.1,1182.8 156.9,1182.9 C156.6,1183.0 156.3,1183.0 156.0,1182.9 C155.7,1182.8 155.5,1182.5 155.3,1182.1 C155.1,1181.8 155.0,1181.3 155.0,1180.9 C155.0,1180.5 155.1,1180.0 155.3,1179.6 C155.5,1179.3 155.7,1179.0 156.0,1178.9 C156.3,1178.7 156.6,1178.7 156.9,1178.9 C157.1,1179.0 157.4,1179.3 157.6,1179.6 C157.8,1180.0 157.9,1180.5 157.9,1180.9Z"/>
<path fill="#ffff73" d="M377.5,696.1 C376.9,701.0 374.0,718.6 373.7,725.0 C373.4,731.5 375.3,730.8 375.6,734.7 C375.9,738.5 375.9,743.4 375.6,748.2 C375.3,753.0 373.4,758.1 373.7,763.6 C374.0,769.0 375.6,775.5 377.5,780.9 C379.5,786.4 382.4,791.8 385.2,796.3 C388.1,800.8 392.0,804.0 394.9,807.9 C397.8,811.8 400.3,815.3 402.6,819.5 C404.8,823.6 407.2,828.5 408.4,832.9 C409.5,837.4 409.6,842.3 409.3,846.4 C409.0,850.6 407.6,854.5 406.4,858.0 C405.3,861.5 404.5,865.1 402.6,867.6 C400.7,870.2 397.8,871.8 394.9,873.4 C392.0,875.0 388.5,876.0 385.2,877.3 C382.0,878.5 378.2,879.2 375.6,881.1 C373.0,883.0 371.1,886.3 369.8,888.8 C368.5,891.4 369.2,894.0 367.9,896.5 C366.6,899.1 364.7,901.3 362.1,904.2 C359.6,907.1 356.0,911.0 352.5,913.9 C349.0,916.8 344.3,919.7 340.9,921.6 C337.5,923.5 335.7,924.1 332.2,925.3 C328.7,926.6 324.2,927.7 319.8,928.9 C315.3,930.1 309.7,931.4 305.6,932.4 C301.4,933.5 297.6,933.3 294.9,935.1 C292.2,936.9 291.9,940.9 289.6,943.1 C287.2,945.3 284.5,946.8 280.7,948.4 C276.8,950.1 270.9,951.0 266.4,952.9 C262.0,954.8 257.9,957.5 254.0,960.0 C250.1,962.5 246.9,965.2 243.3,968.0 C239.8,970.8 236.5,974.2 232.7,976.9 C228.8,979.6 224.1,981.6 220.2,984.0 C216.4,986.4 212.2,988.4 209.6,991.1 C206.9,993.8 205.7,996.7 204.2,1000.0 C202.7,1003.3 202.1,1007.1 200.7,1010.7 C199.2,1014.2 197.7,1018.1 195.3,1021.3 C193.0,1024.6 190.3,1028.1 186.4,1030.2 C182.6,1032.3 176.7,1033.5 172.2,1033.8 C167.8,1034.1 163.9,1032.0 159.8,1032.0 C155.6,1032.0 150.6,1032.6 147.3,1033.8 C144.1,1035.0 142.0,1036.4 140.2,1039.1 C138.4,1041.8 137.3,1046.2 136.7,1049.8 C136.1,1053.3 135.8,1057.2 136.7,1060.4 C137.6,1063.7 140.5,1066.7 142.0,1069.3 C143.5,1072.0 146.1,1074.1 145.6,1076.4 C145.0,1078.8 139.9,1081.2 138.4,1083.6 C137.0,1085.9 136.4,1088.0 136.7,1090.7 C137.0,1093.3 138.4,1096.3 140.2,1099.6 C142.0,1102.8 144.7,1106.4 147.3,1110.2 C150.0,1114.1 153.0,1118.8 156.2,1122.7 C159.5,1126.5 163.3,1130.5 166.9,1133.3 C170.4,1136.1 174.0,1137.8 177.6,1139.6 C181.1,1141.3 184.1,1143.0 188.2,1144.0 C192.4,1145.0 198.0,1145.5 202.4,1145.8 C206.9,1146.1 211.3,1144.9 214.9,1145.8 C218.4,1146.7 221.7,1148.7 223.8,1151.1 C225.9,1153.5 227.3,1157.7 227.3,1160.0 C227.4,1162.3 223.0,1162.7 224.0,1164.8 C224.9,1166.9 231.4,1171.2 232.8,1172.4 L270.0,1168.9 L280.7,1097.8 L291.3,1062.2 L305.6,1026.7 L412.2,991.1 L510.5,834.9 L510.5,696.1Z"/>
<path fill="#ffff73" d="M419.9,771.3 C419.6,769.7 421.8,766.8 423.8,765.5 C425.7,764.2 428.9,763.3 431.5,763.6 C434.1,763.9 438.9,766.2 439.2,767.4 C439.5,768.7 435.7,770.0 433.4,771.3 C431.2,772.6 428.0,775.1 425.7,775.1 C423.5,775.1 420.2,772.9 419.9,771.3Z"/>
<path fill="#aaeb1e" d="M253.9,1145.0 C253.9,1146.1 253.4,1147.5 252.7,1148.4 C252.1,1149.4 250.9,1150.2 249.8,1150.6 C248.7,1150.9 247.3,1150.9 246.2,1150.6 C245.1,1150.2 243.9,1149.4 243.3,1148.4 C242.6,1147.5 242.1,1146.1 242.1,1145.0 C242.1,1143.8 242.6,1142.5 243.3,1141.5 C243.9,1140.6 245.1,1139.8 246.2,1139.4 C247.3,1139.0 248.7,1139.0 249.8,1139.4 C250.9,1139.8 252.1,1140.6 252.7,1141.5 C253.4,1142.5 253.9,1143.8 253.9,1145.0Z"/>
<path fill="#64be00" d="M250.7,1145.7 C250.7,1146.0 250.5,1146.5 250.3,1146.7 C250.1,1147.0 249.8,1147.3 249.4,1147.4 C249.1,1147.5 248.7,1147.5 248.3,1147.4 C248.0,1147.3 247.7,1147.0 247.5,1146.7 C247.2,1146.5 247.1,1146.0 247.1,1145.7 C247.1,1145.3 247.2,1144.9 247.5,1144.6 C247.7,1144.4 248.0,1144.1 248.3,1144.0 C248.7,1143.9 249.1,1143.9 249.4,1144.0 C249.8,1144.1 250.1,1144.4 250.3,1144.6 C250.5,1144.9 250.7,1145.3 250.7,1145.7Z"/>
<path fill="#aaeb1e" d="M312.7,949.0 C313.0,949.5 312.9,950.2 312.7,950.8 C312.4,951.4 311.7,952.2 311.0,952.8 C310.3,953.3 309.3,953.9 308.5,954.3 C307.6,954.6 306.6,954.7 305.9,954.7 C305.2,954.6 304.6,954.3 304.4,953.9 C304.1,953.4 304.2,952.7 304.4,952.1 C304.7,951.5 305.4,950.7 306.1,950.1 C306.8,949.5 307.8,949.0 308.7,948.6 C309.5,948.3 310.5,948.2 311.2,948.2 C311.9,948.3 312.5,948.6 312.7,949.0Z"/>
<path fill="#ffd700" d="M379.5,719.3 C379.5,722.2 379.1,732.1 379.5,736.6 C379.8,741.1 381.4,742.4 381.4,746.2 C381.4,750.1 379.8,754.6 379.5,759.7 C379.1,764.9 378.2,771.9 379.5,777.1 C380.7,782.2 384.0,786.7 387.2,790.6 C390.4,794.4 395.2,796.7 398.7,800.2 C402.3,803.7 405.8,807.9 408.4,811.8 C410.9,815.6 412.2,819.5 414.1,823.3 C416.1,827.2 417.4,832.3 419.9,834.9 C422.5,837.4 426.0,837.4 429.6,838.7 C433.1,840.0 437.3,841.3 441.1,842.6 C445.0,843.9 450.8,845.8 452.7,846.4 L491.2,834.9 L491.2,719.3Z"/>
<path fill="#ffd700" d="M452.7,854.1 C450.1,854.1 442.1,854.1 437.3,854.1 C432.4,854.1 427.3,853.8 423.8,854.1 C420.2,854.5 418.0,854.5 416.1,856.1 C414.1,857.7 413.5,861.2 412.2,863.8 C410.9,866.3 410.6,869.2 408.4,871.5 C406.1,873.7 401.6,876.0 398.7,877.3 C395.8,878.5 393.6,878.2 391.0,879.2 C388.5,880.2 385.6,880.8 383.3,883.0 C381.1,885.3 379.1,889.8 377.5,892.7 C375.9,895.6 375.6,897.5 373.7,900.4 C371.8,903.3 368.5,907.1 366.0,910.0 C363.4,912.9 359.7,915.2 358.3,917.7 C356.8,920.3 358.8,923.2 357.1,925.3 C355.4,927.5 351.5,929.5 348.2,930.7 C345.0,931.9 340.8,931.3 337.6,932.4 C334.3,933.6 331.0,935.7 328.7,937.8 C326.3,939.9 323.3,942.5 323.3,944.9 C323.3,947.3 328.7,949.9 328.7,952.0 C328.7,954.1 325.7,955.3 323.3,957.3 C321.0,959.4 318.0,962.4 314.4,964.4 C310.9,966.5 305.3,968.3 302.0,969.8 C298.7,971.3 296.4,971.3 294.9,973.3 C293.4,975.4 293.1,979.3 293.1,982.2 C293.1,985.2 295.5,988.4 294.9,991.1 C294.3,993.8 291.9,996.1 289.6,998.2 C287.2,1000.3 283.9,1003.0 280.7,1003.6 C277.4,1004.1 273.0,1003.3 270.0,1001.8 C267.0,1000.3 264.7,997.0 262.9,994.7 C261.1,992.3 261.7,988.6 259.3,987.6 C257.0,986.5 252.2,987.9 248.7,988.4 C245.1,989.0 241.6,989.8 238.0,991.1 C234.4,992.4 230.9,994.4 227.3,996.4 C223.8,998.5 219.6,1000.9 216.7,1003.6 C213.7,1006.2 211.6,1009.2 209.6,1012.4 C207.5,1015.7 206.6,1019.6 204.2,1023.1 C201.9,1026.7 199.2,1031.1 195.3,1033.8 C191.5,1036.4 185.9,1037.6 181.1,1039.1 C176.4,1040.6 170.7,1041.2 166.9,1042.7 C163.0,1044.1 160.1,1045.3 158.0,1048.0 C155.9,1050.7 154.7,1054.8 154.4,1058.7 C154.1,1062.5 155.2,1067.6 156.2,1071.1 C157.3,1074.7 160.4,1076.7 160.7,1080.0 C161.0,1083.3 158.7,1087.4 158.0,1090.7 C157.3,1093.9 155.6,1096.0 156.2,1099.6 C156.8,1103.1 159.5,1108.4 161.6,1112.0 C163.6,1115.6 165.7,1118.2 168.7,1120.9 C171.6,1123.6 175.8,1125.9 179.3,1128.0 C182.9,1130.1 185.9,1132.1 190.0,1133.3 C194.1,1134.5 199.2,1134.5 204.2,1135.1 C209.3,1135.7 215.5,1136.3 220.2,1136.9 C225.0,1137.5 228.8,1138.7 232.7,1138.7 C236.5,1138.7 239.8,1137.3 243.3,1136.9 C246.9,1136.4 252.2,1136.1 254.0,1136.0 L270.0,1133.3 L280.7,1097.8 L291.3,1062.2 L305.6,1026.7 L412.2,991.1 L510.5,854.1Z"/>
<path fill="#ffd700" d="M260.8,975.1 C260.2,972.7 261.3,968.7 262.9,966.2 C264.4,963.7 267.3,961.5 270.0,960.0 C272.7,958.5 275.9,957.3 278.9,957.3 C281.9,957.3 285.9,958.5 287.8,960.0 C289.7,961.5 290.7,964.0 290.4,966.2 C290.1,968.4 288.2,971.3 286.0,973.3 C283.8,975.4 280.4,977.5 277.1,978.7 C273.9,979.9 269.2,981.0 266.4,980.4 C263.7,979.9 261.3,977.5 260.8,975.1Z"/>
<path fill="#ff9600" d="M283.3,968.9 C283.3,969.5 283.1,970.3 282.7,970.8 C282.2,971.3 281.5,971.7 280.9,971.9 C280.2,972.1 279.3,972.1 278.7,971.9 C278.0,971.7 277.3,971.3 276.9,970.8 C276.5,970.3 276.2,969.5 276.2,968.9 C276.2,968.3 276.5,967.5 276.9,967.0 C277.3,966.5 278.0,966.0 278.7,965.8 C279.3,965.7 280.2,965.7 280.9,965.8 C281.5,966.0 282.2,966.5 282.7,967.0 C283.1,967.5 283.3,968.3 283.3,968.9Z"/>
<path fill="#ffd700" d="M307.5,940.1 C307.5,941.1 307.1,942.4 306.4,943.2 C305.7,944.1 304.6,944.8 303.5,945.2 C302.4,945.5 300.9,945.5 299.8,945.2 C298.7,944.8 297.6,944.1 296.9,943.2 C296.2,942.4 295.8,941.1 295.8,940.1 C295.8,939.0 296.2,937.8 296.9,937.0 C297.6,936.1 298.7,935.3 299.8,935.0 C300.9,934.7 302.4,934.7 303.5,935.0 C304.6,935.3 305.7,936.1 306.4,937.0 C307.1,937.8 307.5,939.0 307.5,940.1Z"/>
<path fill="#aaeb1e" d="M311.8,950.0 C312.0,950.4 311.9,951.0 311.7,951.5 C311.4,952.1 310.8,952.7 310.2,953.1 C309.6,953.6 308.8,954.0 308.1,954.1 C307.3,954.3 306.5,954.4 305.9,954.2 C305.4,954.1 304.9,953.7 304.7,953.3 C304.5,952.9 304.5,952.3 304.8,951.8 C305.0,951.2 305.6,950.6 306.2,950.2 C306.8,949.7 307.7,949.3 308.4,949.1 C309.1,949.0 310.0,948.9 310.5,949.1 C311.1,949.2 311.6,949.6 311.8,950.0Z"/>
<path fill="#aaeb1e" d="M282.8,991.1 C282.8,991.5 282.6,991.9 282.4,992.2 C282.1,992.4 281.7,992.7 281.3,992.8 C280.9,992.9 280.4,992.9 280.0,992.8 C279.6,992.7 279.2,992.4 278.9,992.2 C278.7,991.9 278.5,991.5 278.5,991.1 C278.5,990.8 278.7,990.3 278.9,990.1 C279.2,989.8 279.6,989.5 280.0,989.4 C280.4,989.3 280.9,989.3 281.3,989.4 C281.7,989.5 282.1,989.8 282.4,990.1 C282.6,990.3 282.8,990.8 282.8,991.1Z"/>
<path fill="#ffd700" d="M307.6,940.5 C307.6,941.4 307.2,942.4 306.5,943.2 C305.8,943.9 304.7,944.6 303.6,944.9 C302.5,945.1 301.1,945.1 300.0,944.9 C298.9,944.6 297.8,943.9 297.1,943.2 C296.5,942.4 296.0,941.4 296.0,940.5 C296.0,939.6 296.5,938.5 297.1,937.7 C297.8,937.0 298.9,936.3 300.0,936.1 C301.1,935.8 302.5,935.8 303.6,936.1 C304.7,936.3 305.8,937.0 306.5,937.7 C307.2,938.5 307.6,939.6 307.6,940.5Z"/>
<path fill="#ffd700" d="M232.9,1156.9 C233.2,1155.7 236.0,1153.5 237.3,1153.3 C238.7,1153.2 241.2,1154.8 240.9,1156.0 C240.6,1157.2 236.9,1160.3 235.6,1160.4 C234.2,1160.6 232.6,1158.1 232.9,1156.9Z"/>
<path fill="#ff9600" d="M392.9,746.2 C394.2,746.6 393.9,754.6 394.9,757.8 C395.8,761.0 396.7,762.9 398.7,765.5 C400.7,768.1 406.8,770.6 406.8,773.6 C406.8,776.6 401.4,782.7 398.7,783.2 C396.1,783.8 393.1,779.7 391.0,777.1 C388.9,774.4 386.8,771.0 386.2,767.4 C385.6,763.9 386.0,759.4 387.2,755.9 C388.3,752.3 391.7,745.9 392.9,746.2Z"/>
<path fill="#ff9600" d="M417.0,794.4 C416.4,792.5 417.8,791.5 419.9,790.6 C422.0,789.6 426.7,789.6 429.6,788.6 C432.4,787.7 435.3,786.7 437.3,784.8 C439.2,782.9 439.2,779.0 441.1,777.1 C443.0,775.1 445.9,773.2 448.8,773.2 C451.7,773.2 455.9,775.1 458.5,777.1 C461.0,779.0 461.5,779.6 464.2,784.8 C467.0,789.9 474.8,802.1 474.8,807.9 C474.8,813.7 467.3,815.9 464.2,819.5 C461.2,823.0 458.8,825.9 456.5,829.1 C454.3,832.3 452.7,836.5 450.8,838.7 C448.8,841.0 447.2,843.2 445.0,842.6 C442.7,841.9 439.8,838.1 437.3,834.9 C434.7,831.7 431.2,827.2 429.6,823.3 C428.0,819.5 428.6,815.3 427.6,811.8 C426.7,808.2 425.5,805.0 423.8,802.1 C422.0,799.2 417.7,796.3 417.0,794.4Z"/>
<path fill="#e13c00" d="M439.2,794.4 C438.9,792.2 441.3,789.0 443.0,786.7 C444.8,784.5 447.5,781.9 449.8,780.9 C452.0,780.0 454.8,779.3 456.5,780.9 C458.3,782.5 458.6,788.0 460.4,790.6 C462.2,793.1 465.0,793.3 467.1,796.3 C469.2,799.4 473.7,805.7 472.9,808.9 C472.1,812.1 465.7,813.2 462.3,815.6 C458.9,818.0 455.6,822.0 452.7,823.3 C449.8,824.6 446.9,824.6 445.0,823.3 C443.0,822.0 440.5,817.9 441.1,815.6 C441.8,813.4 447.2,811.8 448.8,809.8 C450.4,807.9 451.4,805.7 450.8,804.0 C450.1,802.4 446.9,801.8 445.0,800.2 C443.0,798.6 439.5,796.7 439.2,794.4Z"/>
<path fill="#ff9600" d="M406.4,890.8 C406.9,888.2 408.4,885.0 410.3,883.0 C412.2,881.1 415.9,879.5 418.0,879.2 C420.1,878.9 423.0,878.9 422.8,881.1 C422.7,883.4 418.6,889.5 417.0,892.7 C415.4,895.9 414.8,899.4 413.2,900.4 C411.6,901.3 408.5,900.1 407.4,898.5 C406.3,896.9 406.0,893.3 406.4,890.8Z"/>
<path fill="#e13c00" d="M415.1,889.8 L418.4,884.0 L419.9,885.9 L416.5,892.7Z"/>
<path fill="#ff9600" d="M379.5,904.2 C380.4,902.6 383.0,896.5 385.2,894.6 C387.5,892.7 390.7,892.0 392.9,892.7 C395.2,893.3 397.6,895.9 398.7,898.5 C399.9,901.0 400.3,904.9 399.7,908.1 C399.0,911.3 397.0,915.5 394.9,917.7 C392.8,920.0 392.0,920.0 387.2,921.6 C382.4,923.1 371.3,925.0 366.0,927.1 C360.7,929.2 358.3,932.1 355.3,934.2 C352.4,936.3 351.5,937.2 348.2,939.6 C345.0,941.9 339.0,946.4 335.8,948.4 C332.5,950.5 331.0,950.8 328.7,952.0 C326.3,953.2 324.2,953.8 321.6,955.6 C318.9,957.3 315.9,960.3 312.7,962.7 C309.4,965.0 305.0,967.4 302.0,969.8 C299.0,972.1 296.1,973.9 294.9,976.9 C293.7,979.9 295.5,984.0 294.9,987.6 C294.3,991.1 292.5,995.0 291.3,998.2 C290.1,1001.5 290.1,1005.0 287.8,1007.1 C285.4,1009.2 279.5,1008.6 277.1,1010.7 C274.7,1012.7 274.4,1015.7 273.6,1019.6 C272.7,1023.4 272.4,1029.6 271.8,1033.8 C271.2,1037.9 271.2,1040.9 270.0,1044.4 C268.8,1048.0 266.7,1053.0 264.7,1055.1 C262.6,1057.2 259.6,1058.1 257.6,1056.9 C255.5,1055.7 252.2,1050.7 252.2,1048.0 C252.2,1045.3 257.9,1043.3 257.6,1040.9 C257.3,1038.5 252.2,1037.3 250.4,1033.8 C248.7,1030.2 247.8,1023.7 246.9,1019.6 C246.0,1015.4 246.6,1011.3 245.1,1008.9 C243.6,1006.5 240.7,1005.6 238.0,1005.3 C235.3,1005.0 232.1,1005.6 229.1,1007.1 C226.1,1008.6 222.9,1011.6 220.2,1014.2 C217.6,1016.9 215.5,1019.6 213.1,1023.1 C210.7,1026.7 207.5,1031.7 206.0,1035.6 C204.5,1039.4 203.9,1042.7 204.2,1046.2 C204.5,1049.8 206.7,1054.2 207.8,1056.9 C208.8,1059.6 211.0,1060.1 210.4,1062.2 C209.9,1064.3 206.4,1068.1 204.2,1069.3 C202.0,1070.5 199.5,1070.8 197.1,1069.3 C194.7,1067.9 192.7,1062.4 190.0,1060.4 C187.3,1058.5 184.1,1057.8 181.1,1057.8 C178.1,1057.8 174.3,1058.2 172.2,1060.4 C170.1,1062.7 169.9,1067.3 168.7,1071.1 C167.5,1075.0 165.7,1079.1 165.1,1083.6 C164.5,1088.0 164.5,1093.6 165.1,1097.8 C165.7,1101.9 166.6,1105.2 168.7,1108.4 C170.7,1111.7 174.0,1115.9 177.6,1117.3 C181.1,1118.8 185.9,1117.6 190.0,1117.3 C194.1,1117.0 199.2,1116.7 202.4,1115.6 C205.7,1114.4 206.9,1111.7 209.6,1110.2 C212.2,1108.7 214.9,1107.7 218.4,1106.7 C222.0,1105.6 227.6,1103.7 230.9,1104.0 C234.1,1104.3 236.8,1106.5 238.0,1108.4 C239.2,1110.4 239.2,1113.5 238.0,1115.6 C236.8,1117.6 233.9,1119.4 230.9,1120.9 C227.9,1122.4 222.6,1123.0 220.2,1124.4 C217.9,1125.9 216.1,1128.3 216.7,1129.8 C217.3,1131.3 220.8,1133.3 223.8,1133.3 C226.7,1133.3 230.9,1131.3 234.4,1129.8 C238.0,1128.3 242.1,1125.6 245.1,1124.4 C248.1,1123.3 250.7,1124.4 252.2,1122.7 C253.7,1120.9 254.3,1117.3 254.0,1113.8 C253.7,1110.2 251.0,1105.2 250.4,1101.3 C249.9,1097.5 249.3,1092.7 250.4,1090.7 C251.6,1088.6 255.5,1088.0 257.6,1088.9 C259.6,1089.8 261.7,1093.3 262.9,1096.0 C264.1,1098.7 263.8,1102.8 264.7,1104.9 C265.6,1107.0 267.6,1107.9 268.2,1108.4 L287.8,1097.8 L305.6,1026.7 L412.2,991.1Z"/>
<path fill="#ffff73" d="M268.9,1026.7 C268.9,1028.5 268.4,1030.8 267.7,1032.3 C267.0,1033.8 265.7,1035.2 264.5,1035.8 C263.3,1036.4 261.7,1036.4 260.6,1035.8 C259.4,1035.2 258.1,1033.8 257.4,1032.3 C256.6,1030.8 256.1,1028.5 256.1,1026.7 C256.1,1024.8 256.6,1022.5 257.4,1021.0 C258.1,1019.5 259.4,1018.1 260.6,1017.5 C261.7,1017.0 263.3,1017.0 264.5,1017.5 C265.7,1018.1 267.0,1019.5 267.7,1021.0 C268.4,1022.5 268.9,1024.8 268.9,1026.7Z"/>
<path fill="#ffd700" d="M237.3,1075.0 C237.3,1076.1 236.8,1077.3 236.0,1078.2 C235.2,1079.0 233.9,1079.8 232.6,1080.1 C231.4,1080.4 229.7,1080.4 228.4,1080.1 C227.2,1079.8 225.8,1079.0 225.1,1078.2 C224.3,1077.3 223.8,1076.1 223.8,1075.0 C223.8,1074.0 224.3,1072.7 225.1,1071.9 C225.8,1071.0 227.2,1070.3 228.4,1069.9 C229.7,1069.6 231.4,1069.6 232.6,1069.9 C233.9,1070.3 235.2,1071.0 236.0,1071.9 C236.8,1072.7 237.3,1074.0 237.3,1075.0Z"/>
<path fill="#ffd700" d="M204.0,1090.7 C204.0,1091.1 203.9,1091.6 203.6,1091.9 C203.3,1092.3 202.8,1092.6 202.3,1092.7 C201.9,1092.8 201.3,1092.8 200.8,1092.7 C200.3,1092.6 199.8,1092.3 199.5,1091.9 C199.3,1091.6 199.1,1091.1 199.1,1090.7 C199.1,1090.2 199.3,1089.8 199.5,1089.4 C199.8,1089.1 200.3,1088.8 200.8,1088.6 C201.3,1088.5 201.9,1088.5 202.3,1088.6 C202.8,1088.8 203.3,1089.1 203.6,1089.4 C203.9,1089.8 204.0,1090.2 204.0,1090.7Z"/>
<path fill="#ffff73" d="M229.1,1113.8 C229.1,1114.5 228.8,1115.3 228.3,1115.9 C227.8,1116.4 226.9,1116.9 226.0,1117.2 C225.2,1117.4 224.1,1117.4 223.3,1117.2 C222.5,1116.9 221.6,1116.4 221.1,1115.9 C220.6,1115.3 220.2,1114.5 220.2,1113.8 C220.2,1113.1 220.6,1112.3 221.1,1111.7 C221.6,1111.1 222.5,1110.6 223.3,1110.4 C224.1,1110.2 225.2,1110.2 226.0,1110.4 C226.9,1110.6 227.8,1111.1 228.3,1111.7 C228.8,1112.3 229.1,1113.1 229.1,1113.8Z"/>
<path fill="#ffd700" d="M366.0,962.7 C366.6,961.0 368.7,960.0 371.3,960.0 C374.0,960.0 378.1,961.6 382.0,962.7 C385.9,963.7 391.2,964.4 394.4,966.2 C397.7,968.0 401.6,970.1 401.6,973.3 C401.6,976.5 397.4,983.4 394.4,985.4 C391.5,987.4 387.0,986.8 383.8,985.4 C380.5,984.0 377.6,979.5 374.9,976.9 C372.2,974.3 369.3,972.1 367.8,969.8 C366.3,967.4 365.4,964.3 366.0,962.7Z"/>
<path fill="#ff9600" d="M376.7,965.3 C377.3,964.4 381.4,964.0 383.8,964.4 C386.1,964.9 390.0,966.8 390.9,968.0 C391.8,969.2 390.9,971.3 389.1,971.6 C387.3,971.9 382.3,970.8 380.2,969.8 C378.1,968.7 376.1,966.2 376.7,965.3Z"/>
<path fill="#ff9600" d="M326.6,947.6 C326.8,948.3 327.0,949.2 326.9,949.9 C326.8,950.6 326.6,951.3 326.2,951.7 C325.9,952.1 325.3,952.3 324.8,952.2 C324.3,952.1 323.6,951.8 323.1,951.3 C322.6,950.8 322.1,950.0 321.9,949.3 C321.6,948.6 321.5,947.7 321.5,947.0 C321.6,946.3 321.9,945.6 322.2,945.2 C322.6,944.8 323.2,944.6 323.7,944.7 C324.2,944.7 324.8,945.1 325.3,945.6 C325.8,946.1 326.3,946.9 326.6,947.6Z"/>
<path fill="#ff9600" d="M321.7,948.6 C322.0,947.1 323.4,944.5 324.5,944.7 C325.7,944.9 328.1,947.9 328.4,949.5 C328.7,951.1 327.4,953.7 326.5,954.3 C325.5,955.0 323.4,954.3 322.6,953.4 C321.8,952.4 321.3,950.0 321.7,948.6Z"/>
<path fill="#ff9600" d="M164.4,1095.6 C165.2,1097.9 166.7,1106.2 168.9,1109.8 C171.1,1113.3 173.9,1115.4 177.8,1116.9 C181.6,1118.4 187.6,1118.7 192.0,1118.7 C196.4,1118.7 201.2,1118.1 204.4,1116.9 C207.7,1115.7 209.2,1113.3 211.6,1111.6 C213.9,1109.8 215.4,1107.4 218.7,1106.2 C221.9,1105.0 227.9,1104.1 231.1,1104.4 C234.4,1104.7 237.3,1106.2 238.2,1108.0 C239.1,1109.8 238.5,1113.0 236.4,1115.1 C234.4,1117.2 229.0,1118.7 225.8,1120.4 C222.5,1122.2 218.4,1124.0 216.9,1125.8 C215.4,1127.6 215.4,1129.8 216.9,1131.1 C218.4,1132.4 222.5,1134.1 225.8,1133.8 C229.0,1133.5 233.2,1131.3 236.4,1129.3 C239.7,1127.4 243.6,1125.2 245.3,1122.2 C247.1,1119.3 246.5,1114.8 247.1,1111.6 C247.7,1108.3 248.6,1105.9 248.9,1102.7 C249.2,1099.4 247.7,1094.7 248.9,1092.0 C250.1,1089.3 253.6,1086.7 256.0,1086.7 C258.4,1086.7 261.6,1089.0 263.1,1092.0 C264.6,1095.0 264.6,1102.4 264.9,1104.4 L270.2,1104.4 L277.3,1086.7 L277.3,1077.8 L164.4,1077.8Z"/>
<path fill="#ffd700" d="M237.0,1075.1 C237.0,1076.2 236.5,1077.6 235.7,1078.5 C234.9,1079.4 233.6,1080.2 232.3,1080.5 C231.1,1080.9 229.4,1080.9 228.1,1080.5 C226.9,1080.2 225.5,1079.4 224.8,1078.5 C224.0,1077.6 223.5,1076.2 223.5,1075.1 C223.5,1074.0 224.0,1072.7 224.8,1071.8 C225.5,1070.9 226.9,1070.0 228.1,1069.7 C229.4,1069.4 231.1,1069.4 232.3,1069.7 C233.6,1070.0 234.9,1070.9 235.7,1071.8 C236.5,1072.7 237.0,1074.0 237.0,1075.1Z"/>
<path fill="#ffff73" d="M228.4,1114.2 C228.4,1114.8 228.2,1115.5 227.8,1116.0 C227.4,1116.5 226.7,1116.9 226.0,1117.1 C225.3,1117.3 224.5,1117.3 223.8,1117.1 C223.1,1116.9 222.4,1116.5 222.0,1116.0 C221.6,1115.5 221.3,1114.8 221.3,1114.2 C221.3,1113.6 221.6,1112.9 222.0,1112.4 C222.4,1112.0 223.1,1111.5 223.8,1111.3 C224.5,1111.2 225.3,1111.2 226.0,1111.3 C226.7,1111.5 227.4,1112.0 227.8,1112.4 C228.2,1112.9 228.4,1113.6 228.4,1114.2Z"/>
<path fill="#ffd700" d="M203.4,1090.8 C203.4,1091.1 203.2,1091.5 203.0,1091.8 C202.7,1092.1 202.3,1092.3 201.9,1092.4 C201.5,1092.6 201.0,1092.6 200.6,1092.4 C200.2,1092.3 199.8,1092.1 199.5,1091.8 C199.3,1091.5 199.1,1091.1 199.1,1090.8 C199.1,1090.4 199.3,1090.0 199.5,1089.7 C199.8,1089.4 200.2,1089.2 200.6,1089.1 C201.0,1089.0 201.5,1089.0 201.9,1089.1 C202.3,1089.2 202.7,1089.4 203.0,1089.7 C203.2,1090.0 203.4,1090.4 203.4,1090.8Z"/>
<path fill="#ffd700" d="M191.1,1056.4 C188.6,1057.9 193.6,1063.0 195.6,1065.3 C197.5,1067.7 200.3,1070.4 202.7,1070.7 C205.0,1071.0 208.4,1069.5 209.8,1067.1 C211.1,1064.7 213.8,1058.2 210.7,1056.4 C207.6,1054.7 193.6,1055.0 191.1,1056.4Z"/>
<path fill="#e13c00" d="M215.8,1035.6 C216.2,1032.9 221.0,1029.2 223.8,1026.7 C226.6,1024.1 230.3,1021.2 232.7,1020.4 C235.0,1019.7 237.0,1020.0 238.0,1022.2 C239.0,1024.4 238.4,1029.8 238.9,1033.8 C239.3,1037.8 241.4,1043.0 240.7,1046.2 C239.9,1049.5 236.7,1052.4 234.4,1053.3 C232.2,1054.2 229.6,1053.3 227.3,1051.6 C225.1,1049.8 223.0,1045.3 221.1,1042.7 C219.2,1040.0 215.3,1038.2 215.8,1035.6Z"/>
<path fill="#e13c00" d="M182.0,1099.6 C182.6,1097.8 184.8,1094.7 186.4,1093.3 C188.1,1092.0 190.1,1091.1 191.8,1091.6 C193.4,1092.0 195.6,1094.1 196.2,1096.0 C196.8,1097.9 196.7,1101.5 195.3,1103.1 C194.0,1104.7 190.3,1105.6 188.2,1105.8 C186.1,1105.9 183.9,1105.0 182.9,1104.0 C181.9,1103.0 181.4,1101.3 182.0,1099.6Z"/>
<path fill="#e13c00" d="M210.4,1086.2 C211.0,1084.3 212.7,1084.3 214.9,1084.4 C217.1,1084.6 221.1,1085.8 223.8,1087.1 C226.4,1088.4 230.3,1090.7 230.9,1092.4 C231.5,1094.2 229.7,1096.4 227.3,1097.8 C225.0,1099.1 219.3,1100.7 216.7,1100.4 C214.0,1100.1 212.4,1098.4 211.3,1096.0 C210.3,1093.6 209.9,1088.1 210.4,1086.2Z"/>
<path fill="#e13c00" d="M177.9,1082.1 C177.9,1082.6 177.7,1083.2 177.5,1083.6 C177.3,1084.0 176.8,1084.3 176.4,1084.5 C176.0,1084.7 175.5,1084.7 175.1,1084.5 C174.7,1084.3 174.3,1084.0 174.1,1083.6 C173.8,1083.2 173.6,1082.6 173.6,1082.1 C173.6,1081.6 173.8,1081.1 174.1,1080.7 C174.3,1080.3 174.7,1079.9 175.1,1079.8 C175.5,1079.6 176.0,1079.6 176.4,1079.8 C176.8,1079.9 177.3,1080.3 177.5,1080.7 C177.7,1081.1 177.9,1081.6 177.9,1082.1Z"/>
<path fill="#e13c00" d="M313.6,988.4 L333.1,991.1 L313.6,1003.2Z"/>
<path fill="#e13c00" d="M371.0,945.8 L376.7,939.9 L376.7,952.4Z"/>
<path fill="#e13c00" d="M371.4,946.6 C371.8,944.1 373.7,938.9 374.6,940.8 C375.6,942.8 377.6,955.6 377.1,958.2 C376.7,960.8 373.1,958.2 372.1,956.3 C371.2,954.3 371.0,949.2 371.4,946.6Z"/>
<path fill="#73b2ff" d="M71.1,1220.0 L128.0,1220.0 L128.0,1282.2 L71.1,1282.2Z"/>
<path fill="#004da8" d="M94.2,1237.8 C95.1,1235.1 97.5,1233.8 99.6,1232.4 C101.6,1231.1 104.3,1228.9 106.7,1229.8 C109.0,1230.7 111.4,1235.0 113.8,1237.8 C116.1,1240.6 119.4,1243.7 120.9,1246.7 C122.4,1249.6 123.9,1253.2 122.7,1255.6 C121.5,1257.9 117.0,1259.4 113.8,1260.9 C110.5,1262.4 105.8,1264.7 103.1,1264.4 C100.4,1264.1 99.3,1261.8 97.8,1259.1 C96.3,1256.4 94.8,1252.0 94.2,1248.4 C93.6,1244.9 93.3,1240.4 94.2,1237.8Z"/>
</g>
<path fill="#fff" stroke="#6e6e6e" d="M494.2,421.3 L499.1,419.1 L504.4,415.6 L508.0,413.8 L513.3,414.7 L516.0,418.2 L517.8,422.7 L521.3,425.3 L520.4,428.0 L515.1,428.0 L511.6,426.2 L508.0,428.0 L504.4,429.8 L503.6,434.2 L501.8,428.9 L499.1,425.3 L495.6,423.1Z"/><path fill="#fff" stroke="#6e6e6e" d="M511.1,402.2 L515.1,401.3 L521.3,403.6 L525.8,406.7 L531.1,408.0 L535.6,409.8 L533.8,412.2 L527.6,411.6 L522.2,410.2 L516.9,408.0 L512.4,405.8Z"/><path fill="#fff" stroke="#6e6e6e" d="M455.4,727.8 L456.9,731.3 L461.5,737.6 L457.9,740.8 L454.4,738.4 L450.8,738.4 L452.0,733.7Z"/><path fill="#fff" stroke="#6e6e6e" d="M462.8,738.7 L465.0,742.3 L470.4,746.7 L465.6,745.6 L461.8,743.2Z"/><path fill="#fff" stroke="#6e6e6e" d="M475.2,748.6 L479.3,753.9 L480.0,755.7 L474.6,752.8Z"/><path fill="#fff" stroke="#6e6e6e" d="M409.1,247.8 L412.0,243.9 L415.9,244.9 L416.8,249.7 L413.0,253.6 L409.1,251.7Z"/><path fill="#fff" stroke="#6e6e6e" d="M486.2,318.1 L492.9,317.2 L497.8,322.9 L492.9,322.9Z"/><path fill="#fff" stroke="#6e6e6e" d="M588.2,464.9 L590.9,464.0 L595.3,471.1 L592.7,472.9Z"/><path fill="#fff" stroke="#6e6e6e" d="M506.2,769.8 L508.9,767.1 L511.6,769.8 L510.7,774.2 L507.1,775.1Z"/><path fill="#fff" stroke="#6e6e6e" d="M530.9,351.8 L534.4,350.5 L535.3,353.8 L532.4,356.1Z"/><path fill="#fff" stroke="#6e6e6e" d="M512.1,502.2 L514.4,500.4 L515.3,504.9 L513.2,506.3Z"/>
<use href="#grey"/><use href="#wd"/><use href="#fj"/>
<use href="#coast"/>
</g>
<rect x="49.0" y="164.5" width="38.6" height="73.6" fill="#004da8"/>
<rect x="49.0" y="237.8" width="38.6" height="73.1" fill="#73b2ff"/>
<rect x="49.0" y="310.6" width="38.6" height="73.1" fill="#009600"/>
<rect x="49.0" y="383.4" width="38.6" height="73.1" fill="#64be00"/>
<rect x="49.0" y="456.2" width="38.6" height="73.1" fill="#aaeb1e"/>
<rect x="49.0" y="529.0" width="38.6" height="73.1" fill="#ffff73"/>
<rect x="49.0" y="601.8" width="38.6" height="73.1" fill="#ffd700"/>
<rect x="49.0" y="674.6" width="38.6" height="73.1" fill="#ff9600"/>
<rect x="49.0" y="747.4" width="38.6" height="78.3" fill="#e13c00"/>
<rect x="48.5" y="164.0" width="39.6" height="661.9" fill="none" stroke="#8c8c8c" stroke-width="1"/>
<line x1="49.0" x2="87.6" y1="237.8" y2="237.8" stroke="#8c7c5c" stroke-width="0.8" opacity="0.7"/>
<line x1="49.0" x2="87.6" y1="310.6" y2="310.6" stroke="#8c7c5c" stroke-width="0.8" opacity="0.7"/>
<line x1="49.0" x2="87.6" y1="383.4" y2="383.4" stroke="#8c7c5c" stroke-width="0.8" opacity="0.7"/>
<line x1="49.0" x2="87.6" y1="456.2" y2="456.2" stroke="#8c7c5c" stroke-width="0.8" opacity="0.7"/>
<line x1="49.0" x2="87.6" y1="529.0" y2="529.0" stroke="#8c7c5c" stroke-width="0.8" opacity="0.7"/>
<line x1="49.0" x2="87.6" y1="601.8" y2="601.8" stroke="#8c7c5c" stroke-width="0.8" opacity="0.7"/>
<line x1="49.0" x2="87.6" y1="674.6" y2="674.6" stroke="#8c7c5c" stroke-width="0.8" opacity="0.7"/>
<line x1="49.0" x2="87.6" y1="747.4" y2="747.4" stroke="#8c7c5c" stroke-width="0.8" opacity="0.7"/>
<text class="nb" x="0" y="0" transform="translate(103.5,246.1) scale(0.78,1)">10</text>
<text class="nb" x="0" y="0" transform="translate(103.5,318.6) scale(0.78,1)">-10</text>
<text class="nb" x="0" y="0" transform="translate(103.5,391.1) scale(0.78,1)">-30</text>
<text class="nb" x="0" y="0" transform="translate(103.5,463.6) scale(0.78,1)">-50</text>
<text class="nb" x="0" y="0" transform="translate(103.5,536.1) scale(0.78,1)">-70</text>
<text class="nb" x="0" y="0" transform="translate(103.5,608.6) scale(0.78,1)">-90</text>
<text class="nb" x="0" y="0" transform="translate(103.5,681.1) scale(0.78,1)">-110</text>
<text class="nb" x="0" y="0" transform="translate(103.5,753.6) scale(0.78,1)">-130</text>
<text class="t30" x="149" y="200.5">Water surplus</text>
<text class="t30" x="149" y="279.5">Field capacity</text>
<text class="t30" x="149" y="539.5">50% storage</text>
<text class="t30" x="149" y="829.5">Dry</text>
<text x="73" y="81" style="font-size:50px">Soil moisture deficit (mm) at  9am on 01/12/2014</text>
<text class="t30" x="148" y="1330.5">Historical average deficit at  9am on 1 Dec</text>
<text class="t30" x="879" y="1330.5">Deficit at  9am on 01/12/2013</text>
<text class="t30" x="1634" y="1330.5">Deficit at  9am on 01/12/2014</text>
<defs><linearGradient id="rb" gradientUnits="userSpaceOnUse" x1="1829.1" y1="0" x2="2252.1" y2="0"><stop offset="0.0%" stop-color="#e5246f"/><stop offset="9.7%" stop-color="#c8508a"/><stop offset="18.3%" stop-color="#9075a8"/><stop offset="24.9%" stop-color="#4d90c8"/><stop offset="28.7%" stop-color="#00a3e0"/><stop offset="35.9%" stop-color="#00a8b8"/><stop offset="43.0%" stop-color="#00a878"/><stop offset="52.5%" stop-color="#22ae3c"/><stop offset="59.6%" stop-color="#86c22a"/><stop offset="64.4%" stop-color="#c3cc2c"/><stop offset="69.1%" stop-color="#e6c832"/><stop offset="75.3%" stop-color="#e2a030"/><stop offset="81.0%" stop-color="#dc7030"/><stop offset="88.1%" stop-color="#d43a30"/><stop offset="92.9%" stop-color="#cf1a30"/><stop offset="100.0%" stop-color="#c80a32"/></linearGradient></defs><path d="M1829.1,74.7 C1836.0,74.0 1856.7,72.7 1870.3,70.3 C1883.9,67.9 1897.1,62.6 1910.5,60.2 C1923.9,57.9 1940.6,56.6 1950.7,56.2 C1960.7,55.9 1960.7,56.6 1970.8,58.2 C1980.8,59.9 1997.6,63.4 2011.0,66.3 C2024.4,69.1 2037.8,72.8 2051.2,75.3 C2064.6,77.8 2078.0,80.5 2091.4,81.3 C2104.7,82.2 2118.1,82.2 2131.5,80.3 C2144.9,78.5 2158.3,73.8 2171.7,70.3 C2185.1,66.8 2198.5,62.3 2211.9,59.2 C2225.3,56.2 2245.4,53.4 2252.1,52.2 L2252.7,53.0 C2245.9,54.7 2225.4,59.0 2211.9,63.3 C2198.4,67.5 2183.5,74.0 2171.7,78.3 C2160.0,82.7 2151.6,87.0 2141.6,89.4 C2131.5,91.7 2123.2,92.7 2111.4,92.4 C2099.7,92.1 2084.7,90.1 2071.3,87.4 C2057.9,84.7 2044.5,79.8 2031.1,76.3 C2017.7,72.8 2000.9,68.4 1990.9,66.3 C1980.8,64.1 1977.5,63.9 1970.8,63.3 C1964.1,62.7 1960.7,62.0 1950.7,62.7 C1940.6,63.3 1923.9,64.8 1910.5,67.3 C1897.1,69.7 1883.9,75.2 1870.3,77.3 C1856.7,79.4 1836.0,79.5 1829.1,79.9Z" fill="url(#rb)"/><text x="1950.5" y="79.3" style="font-size:68.5px;font-style:italic;fill:#2f5aa0;stroke:#fff;stroke-width:3.2px;paint-order:stroke fill;letter-spacing:1.2px">NIWA</text><text x="1950.5" y="79.3" style="font-size:68.5px;font-style:italic;fill:#2f5aa0;stroke:#2f5aa0;stroke-width:1.7px;letter-spacing:1.2px">NIWA</text><text transform="translate(1894.5,134.6) scale(0.915,1)" style="font-size:39px;fill:#2f5aa0">Taihoro Nukurangi</text><path d="M1754.6,58.5 L1776.3,122.2 L1754.6,107.5 L1733.4,122.2 Z" fill="#000"/><text x="1747.3" y="48" style="font-family:&quot;Liberation Serif&quot;,serif;font-size:22px">N</text>
</svg></body></html>
